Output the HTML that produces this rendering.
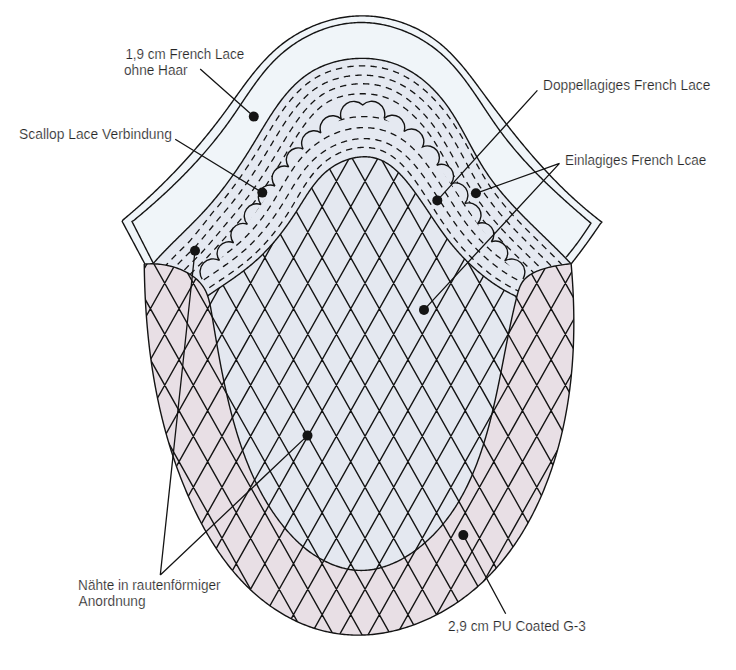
<!DOCTYPE html><html><head><meta charset="utf-8"><style>html,body{margin:0;padding:0;background:#fff;width:736px;height:670px;overflow:hidden}svg{display:block}</style></head><body><svg width="736" height="670" viewBox="0 0 736 670"><defs><clipPath id="cBand"><path d="M147.81,269.86 L148.80,268.66 L149.79,267.47 L150.79,266.29 L151.80,265.11 L152.82,263.93 L153.85,262.76 L154.88,261.60 L155.92,260.44 L156.97,259.28 L158.02,258.13 L159.08,256.98 L160.15,255.84 L161.22,254.70 L162.30,253.57 L163.38,252.44 L164.46,251.31 L165.56,250.18 L166.65,249.06 L167.75,247.94 L168.85,246.82 L169.96,245.71 L171.06,244.59 L172.17,243.48 L173.29,242.37 L174.40,241.26 L175.52,240.16 L176.64,239.05 L177.75,237.95 L178.87,236.84 L179.99,235.74 L181.11,234.64 L182.23,233.53 L183.35,232.43 L184.47,231.33 L185.59,230.22 L186.71,229.12 L187.82,228.01 L188.93,226.91 L190.04,225.80 L191.15,224.69 L192.26,223.58 L193.36,222.47 L194.46,221.35 L195.55,220.24 L196.64,219.12 L197.73,218.00 L198.81,216.87 L199.89,215.74 L200.96,214.61 L202.02,213.48 L203.08,212.34 L204.14,211.20 L205.18,210.06 L206.22,208.91 L207.26,207.76 L208.28,206.60 L209.30,205.44 L210.32,204.27 L211.32,203.10 L212.33,201.93 L213.32,200.75 L214.31,199.57 L215.29,198.39 L216.27,197.20 L217.24,196.01 L218.21,194.81 L219.17,193.61 L220.12,192.40 L221.07,191.19 L222.02,189.98 L222.96,188.76 L223.89,187.54 L224.82,186.32 L225.75,185.09 L226.66,183.86 L227.58,182.62 L228.49,181.38 L229.40,180.14 L230.30,178.89 L231.19,177.64 L232.09,176.38 L232.98,175.12 L233.86,173.86 L234.74,172.59 L235.62,171.32 L236.49,170.05 L237.36,168.77 L238.23,167.49 L239.09,166.20 L239.95,164.91 L240.81,163.62 L241.66,162.33 L242.51,161.03 L243.36,159.72 L244.21,158.41 L245.05,157.10 L245.89,155.79 L246.72,154.47 L247.56,153.15 L248.39,151.82 L249.22,150.50 L250.05,149.16 L250.87,147.83 L251.70,146.49 L252.52,145.14 L253.34,143.80 L254.16,142.45 L254.97,141.10 L255.79,139.74 L256.60,138.38 L257.42,137.03 L258.23,135.67 L259.05,134.30 L259.87,132.94 L260.68,131.58 L261.50,130.22 L262.32,128.86 L263.15,127.50 L263.97,126.15 L264.80,124.79 L265.63,123.44 L266.46,122.09 L267.30,120.75 L268.14,119.41 L268.98,118.07 L269.83,116.74 L270.68,115.41 L271.54,114.09 L272.41,112.77 L273.28,111.46 L274.15,110.16 L275.03,108.86 L275.92,107.57 L276.82,106.29 L277.72,105.02 L278.63,103.76 L279.55,102.50 L280.48,101.26 L281.41,100.02 L282.36,98.80 L283.31,97.58 L284.28,96.38 L285.25,95.19 L286.23,94.01 L287.22,92.85 L288.23,91.70 L289.24,90.56 L290.27,89.43 L291.31,88.32 L292.36,87.22 L293.42,86.14 L294.50,85.08 L295.59,84.03 L296.69,82.99 L297.80,81.97 L298.93,80.97 L300.08,79.99 L301.23,79.03 L302.41,78.08 L303.60,77.15 L304.80,76.24 L306.02,75.36 L307.25,74.49 L308.51,73.64 L309.77,72.81 L311.06,72.00 L312.36,71.22 L313.68,70.46 L315.02,69.72 L316.38,69.00 L317.75,68.31 L319.14,67.63 L320.55,66.99 L321.97,66.36 L323.41,65.76 L324.86,65.18 L326.32,64.62 L327.80,64.09 L329.29,63.58 L330.79,63.09 L332.31,62.63 L333.83,62.19 L335.36,61.77 L336.90,61.38 L338.46,61.01 L340.01,60.66 L341.58,60.34 L343.15,60.04 L344.73,59.77 L346.32,59.52 L347.91,59.29 L349.50,59.09 L351.10,58.91 L352.71,58.75 L354.31,58.62 L355.92,58.52 L357.52,58.43 L359.13,58.38 L360.74,58.34 L362.35,58.33 L363.96,58.35 L365.56,58.39 L367.16,58.45 L368.76,58.54 L370.36,58.66 L371.95,58.79 L373.54,58.96 L375.12,59.14 L376.70,59.36 L378.27,59.59 L379.83,59.86 L381.39,60.15 L382.94,60.46 L384.47,60.80 L386.00,61.16 L387.52,61.55 L389.03,61.96 L390.52,62.40 L392.01,62.87 L393.48,63.36 L394.94,63.87 L396.38,64.41 L397.82,64.97 L399.24,65.56 L400.65,66.17 L402.05,66.80 L403.44,67.46 L404.82,68.13 L406.18,68.83 L407.53,69.55 L408.87,70.30 L410.19,71.06 L411.51,71.84 L412.81,72.65 L414.10,73.47 L415.38,74.31 L416.64,75.18 L417.90,76.06 L419.14,76.96 L420.37,77.88 L421.58,78.81 L422.79,79.76 L423.98,80.73 L425.16,81.72 L426.32,82.72 L427.48,83.74 L428.62,84.78 L429.75,85.83 L430.87,86.89 L431.97,87.97 L433.06,89.07 L434.14,90.17 L435.21,91.29 L436.27,92.43 L437.31,93.58 L438.34,94.74 L439.36,95.91 L440.36,97.09 L441.35,98.29 L442.33,99.49 L443.30,100.71 L444.26,101.94 L445.20,103.18 L446.13,104.42 L447.04,105.68 L447.95,106.95 L448.84,108.22 L449.72,109.50 L450.59,110.80 L451.45,112.09 L452.30,113.40 L453.14,114.71 L453.98,116.03 L454.80,117.36 L455.61,118.69 L456.42,120.03 L457.22,121.37 L458.01,122.72 L458.80,124.07 L459.58,125.43 L460.36,126.79 L461.13,128.15 L461.89,129.52 L462.65,130.89 L463.41,132.27 L464.17,133.64 L464.92,135.02 L465.67,136.40 L466.42,137.78 L467.16,139.16 L467.91,140.54 L468.66,141.92 L469.40,143.30 L470.15,144.68 L470.89,146.06 L471.64,147.44 L472.39,148.82 L473.14,150.20 L473.90,151.57 L474.66,152.94 L475.42,154.31 L476.19,155.68 L476.96,157.04 L477.73,158.39 L478.51,159.75 L479.30,161.10 L480.10,162.44 L480.90,163.78 L481.70,165.11 L482.52,166.44 L483.34,167.76 L484.18,169.07 L485.02,170.38 L485.87,171.68 L486.73,172.97 L487.60,174.26 L488.48,175.54 L489.37,176.81 L490.27,178.07 L491.18,179.33 L492.09,180.58 L493.02,181.83 L493.95,183.06 L494.89,184.30 L495.84,185.52 L496.80,186.74 L497.76,187.95 L498.73,189.16 L499.71,190.36 L500.70,191.56 L501.69,192.75 L502.69,193.94 L503.70,195.12 L504.71,196.30 L505.73,197.47 L506.76,198.64 L507.79,199.80 L508.82,200.96 L509.87,202.11 L510.91,203.26 L511.97,204.41 L513.02,205.55 L514.08,206.69 L515.15,207.82 L516.22,208.95 L517.30,210.08 L518.38,211.20 L519.46,212.33 L520.54,213.44 L521.63,214.56 L522.73,215.67 L523.82,216.78 L524.92,217.89 L526.02,219.00 L527.13,220.10 L528.23,221.20 L529.34,222.31 L530.45,223.40 L531.56,224.50 L532.68,225.60 L533.79,226.69 L534.91,227.78 L536.03,228.87 L537.15,229.97 L538.26,231.06 L539.38,232.15 L540.50,233.23 L541.62,234.32 L542.74,235.41 L543.86,236.50 L544.98,237.59 L546.10,238.68 L547.22,239.77 L548.34,240.85 L549.45,241.94 L550.57,243.03 L551.68,244.13 L552.79,245.22 L553.90,246.31 L555.01,247.41 L556.11,248.50 L557.21,249.60 L558.31,250.70 L559.41,251.80 L560.51,252.90 L561.60,254.01 L562.68,255.11 L563.77,256.22 L564.85,257.33 L565.93,258.45 L567.00,259.56 L568.07,260.68 L569.13,261.81 L570.19,262.93 L571.24,264.06 L521.20,298.57 L520.19,298.15 L519.18,297.72 L518.18,297.28 L517.18,296.84 L516.18,296.38 L515.19,295.92 L514.20,295.45 L513.22,294.98 L512.23,294.49 L511.26,294.00 L510.28,293.50 L509.31,292.99 L508.34,292.48 L507.38,291.96 L506.41,291.43 L505.46,290.89 L504.50,290.35 L503.55,289.80 L502.61,289.25 L501.66,288.68 L500.72,288.11 L499.79,287.54 L498.85,286.95 L497.92,286.36 L497.00,285.77 L496.08,285.17 L495.16,284.56 L494.25,283.94 L493.34,283.32 L492.43,282.70 L491.53,282.06 L490.63,281.42 L489.73,280.78 L488.84,280.13 L487.96,279.47 L487.07,278.81 L486.19,278.14 L485.32,277.47 L484.44,276.79 L483.58,276.11 L482.71,275.42 L481.85,274.72 L481.00,274.02 L480.15,273.32 L479.30,272.61 L478.45,271.89 L477.61,271.17 L476.78,270.45 L475.95,269.72 L475.12,268.98 L474.30,268.25 L473.48,267.50 L472.66,266.75 L471.85,266.00 L471.04,265.25 L470.24,264.49 L469.44,263.72 L468.65,262.95 L467.86,262.18 L467.07,261.40 L466.29,260.62 L465.51,259.84 L464.74,259.05 L463.97,258.26 L463.21,257.46 L462.45,256.66 L461.69,255.86 L460.94,255.05 L460.20,254.24 L459.45,253.43 L458.72,252.61 L457.98,251.80 L457.25,250.97 L456.53,250.15 L455.81,249.32 L455.09,248.49 L454.38,247.66 L453.68,246.82 L452.98,245.98 L452.28,245.14 L451.59,244.30 L450.90,243.45 L450.22,242.60 L449.54,241.75 L448.86,240.90 L448.19,240.04 L447.53,239.18 L446.87,238.32 L446.21,237.46 L445.56,236.60 L444.92,235.73 L444.27,234.87 L443.64,234.00 L443.00,233.13 L442.37,232.26 L441.74,231.38 L441.11,230.51 L440.49,229.63 L439.87,228.75 L439.25,227.87 L438.64,226.98 L438.02,226.10 L437.41,225.21 L436.80,224.33 L436.20,223.44 L435.59,222.55 L434.98,221.66 L434.38,220.76 L433.77,219.87 L433.17,218.97 L432.57,218.08 L431.97,217.18 L431.36,216.28 L430.76,215.38 L430.16,214.48 L429.55,213.57 L428.95,212.67 L428.35,211.76 L427.74,210.86 L427.13,209.95 L426.52,209.04 L425.91,208.13 L425.30,207.22 L424.69,206.31 L424.07,205.39 L423.45,204.48 L422.83,203.57 L422.20,202.65 L421.58,201.73 L420.95,200.82 L420.31,199.90 L419.67,198.98 L419.03,198.06 L418.39,197.14 L417.74,196.22 L417.09,195.30 L416.43,194.38 L415.77,193.46 L415.10,192.54 L414.43,191.61 L413.75,190.69 L413.07,189.77 L412.38,188.85 L411.68,187.92 L410.98,187.00 L410.28,186.09 L409.57,185.17 L408.85,184.26 L408.13,183.36 L407.40,182.46 L406.67,181.56 L405.93,180.67 L405.18,179.79 L404.43,178.91 L403.67,178.05 L402.91,177.19 L402.14,176.34 L401.36,175.50 L400.57,174.67 L399.78,173.85 L398.98,173.05 L398.18,172.25 L397.37,171.47 L396.55,170.71 L395.72,169.95 L394.89,169.21 L394.05,168.49 L393.21,167.78 L392.35,167.09 L391.49,166.42 L390.62,165.77 L389.74,165.13 L388.86,164.51 L387.97,163.91 L387.07,163.34 L386.16,162.78 L385.24,162.25 L384.32,161.73 L383.39,161.24 L382.45,160.78 L381.50,160.34 L380.55,159.92 L379.58,159.53 L378.61,159.16 L377.63,158.82 L376.64,158.51 L375.64,158.22 L374.64,157.96 L373.62,157.73 L372.60,157.52 L371.58,157.34 L370.55,157.18 L369.51,157.05 L368.47,156.95 L367.42,156.87 L366.37,156.81 L365.32,156.78 L364.26,156.77 L363.20,156.79 L362.14,156.83 L361.07,156.89 L360.01,156.98 L358.94,157.09 L357.87,157.22 L356.81,157.37 L355.74,157.54 L354.68,157.74 L353.61,157.96 L352.55,158.19 L351.49,158.45 L350.43,158.73 L349.38,159.03 L348.33,159.35 L347.28,159.69 L346.24,160.05 L345.21,160.43 L344.18,160.83 L343.15,161.24 L342.13,161.68 L341.12,162.13 L340.12,162.60 L339.12,163.09 L338.13,163.59 L337.15,164.11 L336.18,164.65 L335.22,165.21 L334.27,165.78 L333.33,166.37 L332.40,166.97 L331.48,167.59 L330.58,168.22 L329.68,168.87 L328.80,169.53 L327.93,170.21 L327.08,170.90 L326.23,171.61 L325.41,172.33 L324.59,173.06 L323.78,173.80 L322.99,174.56 L322.20,175.33 L321.43,176.11 L320.67,176.90 L319.92,177.70 L319.18,178.51 L318.44,179.33 L317.72,180.16 L317.01,181.00 L316.30,181.85 L315.60,182.71 L314.92,183.58 L314.23,184.45 L313.56,185.34 L312.89,186.22 L312.23,187.12 L311.58,188.02 L310.93,188.93 L310.28,189.84 L309.65,190.76 L309.01,191.69 L308.39,192.62 L307.76,193.55 L307.14,194.48 L306.53,195.42 L305.92,196.37 L305.31,197.31 L304.70,198.26 L304.10,199.21 L303.49,200.16 L302.89,201.11 L302.29,202.07 L301.70,203.02 L301.10,203.98 L300.50,204.93 L299.91,205.88 L299.31,206.84 L298.71,207.79 L298.12,208.74 L297.52,209.69 L296.92,210.63 L296.31,211.57 L295.71,212.51 L295.10,213.45 L294.50,214.38 L293.88,215.31 L293.27,216.24 L292.66,217.17 L292.04,218.09 L291.42,219.01 L290.80,219.92 L290.17,220.83 L289.55,221.74 L288.92,222.65 L288.29,223.55 L287.65,224.45 L287.02,225.34 L286.38,226.24 L285.73,227.13 L285.09,228.01 L284.44,228.89 L283.79,229.77 L283.13,230.65 L282.47,231.52 L281.81,232.39 L281.15,233.25 L280.48,234.11 L279.81,234.97 L279.14,235.83 L278.46,236.68 L277.78,237.52 L277.10,238.37 L276.41,239.21 L275.72,240.04 L275.02,240.87 L274.32,241.70 L273.62,242.53 L272.91,243.35 L272.20,244.16 L271.49,244.98 L270.77,245.78 L270.05,246.59 L269.32,247.39 L268.59,248.19 L267.86,248.98 L267.12,249.77 L266.37,250.55 L265.63,251.33 L264.87,252.11 L264.12,252.88 L263.36,253.65 L262.59,254.41 L261.82,255.17 L261.04,255.93 L260.26,256.68 L259.48,257.43 L258.69,258.17 L257.90,258.91 L257.10,259.64 L256.29,260.37 L255.48,261.09 L254.67,261.82 L253.85,262.53 L253.02,263.24 L252.19,263.95 L251.36,264.65 L250.52,265.35 L249.68,266.04 L248.83,266.73 L247.98,267.42 L247.12,268.10 L246.26,268.78 L245.39,269.46 L244.53,270.13 L243.65,270.80 L242.78,271.47 L241.90,272.13 L241.02,272.79 L240.13,273.44 L239.25,274.10 L238.36,274.75 L237.46,275.40 L236.57,276.04 L235.67,276.68 L234.77,277.32 L233.87,277.96 L232.97,278.60 L232.06,279.23 L231.16,279.86 L230.25,280.50 L229.34,281.12 L228.43,281.75 L227.52,282.38 L226.61,283.00 L225.70,283.62 L224.78,284.24 L223.87,284.86 L222.95,285.48 L222.04,286.10 L221.13,286.72 L220.21,287.33 L219.30,287.95 L218.39,288.56 L217.47,289.18 L216.56,289.79 L215.65,290.40 L214.74,291.02 L213.83,291.63 L212.92,292.25 L212.02,292.86 L211.11,293.47 L210.21,294.09 L209.31,294.70 L208.41,295.32 L207.51,295.93 L206.62,296.55 L205.73,297.17 L204.84,297.78 L203.95,298.40 L203.07,299.02 Z"/></clipPath><clipPath id="cUnion"><path d="M144.25,263.94 L144.27,265.86 L144.30,267.77 L144.33,269.69 L144.36,271.60 L144.40,273.52 L144.44,275.43 L144.49,277.34 L144.54,279.26 L144.59,281.17 L144.65,283.08 L144.72,284.99 L144.78,286.90 L144.86,288.81 L144.93,290.72 L145.01,292.63 L145.10,294.54 L145.19,296.45 L145.28,298.36 L145.38,300.26 L145.48,302.17 L145.59,304.07 L145.70,305.98 L145.82,307.88 L145.94,309.79 L146.07,311.69 L146.20,313.59 L146.34,315.50 L146.48,317.40 L146.62,319.30 L146.77,321.20 L146.93,323.10 L147.09,325.00 L147.25,326.89 L147.42,328.79 L147.60,330.69 L147.78,332.58 L147.97,334.47 L148.16,336.37 L148.35,338.26 L148.55,340.15 L148.76,342.04 L148.97,343.93 L149.19,345.82 L149.41,347.71 L149.64,349.60 L149.87,351.48 L150.11,353.37 L150.36,355.25 L150.61,357.13 L150.86,359.02 L151.12,360.90 L151.39,362.78 L151.66,364.66 L151.94,366.53 L152.22,368.41 L152.51,370.29 L152.81,372.16 L153.11,374.03 L153.41,375.91 L153.73,377.78 L154.05,379.65 L154.37,381.51 L154.70,383.38 L155.04,385.25 L155.38,387.11 L155.73,388.98 L156.08,390.84 L156.44,392.70 L156.81,394.56 L157.19,396.42 L157.57,398.27 L157.95,400.13 L158.34,401.98 L158.74,403.84 L159.15,405.69 L159.56,407.54 L159.98,409.39 L160.40,411.23 L160.83,413.08 L161.27,414.92 L161.71,416.77 L162.16,418.61 L162.62,420.45 L163.09,422.29 L163.56,424.12 L164.03,425.96 L164.52,427.79 L165.01,429.62 L165.51,431.46 L166.01,433.28 L166.52,435.11 L167.04,436.94 L167.57,438.76 L168.10,440.58 L168.64,442.40 L169.19,444.22 L169.74,446.04 L170.31,447.85 L170.87,449.67 L171.45,451.48 L172.03,453.29 L172.62,455.10 L173.22,456.91 L173.83,458.71 L174.44,460.51 L175.06,462.31 L175.69,464.11 L176.32,465.91 L176.96,467.71 L177.61,469.50 L178.27,471.29 L178.93,473.08 L179.61,474.87 L180.29,476.65 L180.98,478.44 L181.67,480.22 L182.38,482.00 L183.09,483.78 L183.81,485.55 L184.53,487.33 L185.27,489.10 L186.01,490.87 L186.76,492.63 L187.52,494.40 L188.29,496.16 L189.07,497.92 L189.85,499.68 L190.64,501.44 L191.44,503.19 L192.25,504.94 L193.07,506.69 L193.89,508.44 L194.73,510.18 L195.57,511.91 L196.42,513.65 L197.28,515.38 L198.15,517.10 L199.03,518.82 L199.92,520.54 L200.82,522.25 L201.72,523.96 L202.64,525.66 L203.57,527.36 L204.50,529.05 L205.45,530.73 L206.40,532.41 L207.36,534.09 L208.34,535.75 L209.32,537.41 L210.32,539.07 L211.32,540.71 L212.33,542.35 L213.36,543.98 L214.39,545.61 L215.44,547.23 L216.49,548.83 L217.56,550.44 L218.64,552.03 L219.73,553.61 L220.82,555.19 L221.93,556.75 L223.05,558.31 L224.19,559.86 L225.33,561.40 L226.48,562.93 L227.65,564.45 L228.83,565.96 L230.02,567.46 L231.22,568.95 L232.43,570.43 L233.65,571.89 L234.89,573.35 L236.13,574.80 L237.39,576.23 L238.66,577.65 L239.95,579.06 L241.24,580.46 L242.55,581.85 L243.87,583.22 L245.21,584.59 L246.55,585.93 L247.91,587.27 L249.28,588.59 L250.66,589.90 L252.06,591.20 L253.47,592.48 L254.89,593.75 L256.33,595.01 L257.77,596.25 L259.23,597.47 L260.71,598.68 L262.19,599.88 L263.68,601.06 L265.19,602.22 L266.71,603.37 L268.24,604.50 L269.78,605.61 L271.33,606.71 L272.89,607.79 L274.47,608.86 L276.05,609.90 L277.64,610.93 L279.25,611.94 L280.86,612.94 L282.49,613.91 L284.12,614.86 L285.77,615.80 L287.42,616.72 L289.08,617.61 L290.76,618.49 L292.44,619.35 L294.13,620.18 L295.83,621.00 L297.53,621.79 L299.25,622.57 L300.97,623.32 L302.71,624.05 L304.45,624.76 L306.19,625.45 L307.95,626.11 L309.71,626.76 L311.48,627.38 L313.26,627.97 L315.05,628.54 L316.84,629.09 L318.64,629.62 L320.44,630.12 L322.25,630.60 L324.07,631.06 L325.89,631.49 L327.72,631.90 L329.55,632.28 L331.39,632.64 L333.23,632.98 L335.07,633.29 L336.92,633.58 L338.77,633.84 L340.63,634.08 L342.48,634.30 L344.34,634.49 L346.21,634.65 L348.07,634.80 L349.94,634.92 L351.81,635.01 L353.67,635.08 L355.55,635.12 L357.42,635.14 L359.29,635.14 L361.16,635.11 L363.03,635.06 L364.90,634.98 L366.77,634.88 L368.65,634.76 L370.52,634.61 L372.39,634.44 L374.25,634.25 L376.12,634.03 L377.99,633.79 L379.85,633.53 L381.71,633.25 L383.57,632.94 L385.43,632.61 L387.29,632.26 L389.14,631.89 L390.99,631.50 L392.84,631.09 L394.68,630.65 L396.52,630.20 L398.36,629.72 L400.20,629.22 L402.03,628.70 L403.85,628.17 L405.67,627.61 L407.49,627.03 L409.30,626.43 L411.11,625.82 L412.91,625.18 L414.71,624.53 L416.50,623.85 L418.28,623.16 L420.06,622.44 L421.84,621.71 L423.60,620.97 L425.36,620.20 L427.12,619.41 L428.86,618.61 L430.61,617.79 L432.34,616.95 L434.06,616.10 L435.78,615.22 L437.49,614.33 L439.19,613.43 L440.89,612.51 L442.57,611.57 L444.25,610.61 L445.92,609.64 L447.58,608.65 L449.23,607.65 L450.87,606.63 L452.50,605.60 L454.12,604.55 L455.73,603.48 L457.33,602.40 L458.92,601.31 L460.50,600.20 L462.07,599.08 L463.63,597.94 L465.18,596.79 L466.71,595.63 L468.24,594.45 L469.75,593.26 L471.25,592.05 L472.74,590.83 L474.22,589.60 L475.68,588.36 L477.13,587.10 L478.57,585.83 L480.00,584.55 L481.41,583.26 L482.81,581.95 L484.20,580.63 L485.57,579.30 L486.93,577.96 L488.28,576.61 L489.62,575.25 L490.94,573.87 L492.25,572.49 L493.55,571.09 L494.84,569.68 L496.11,568.26 L497.37,566.83 L498.62,565.40 L499.86,563.95 L501.09,562.49 L502.30,561.02 L503.50,559.54 L504.69,558.05 L505.87,556.55 L507.03,555.04 L508.18,553.53 L509.33,552.00 L510.45,550.47 L511.57,548.92 L512.68,547.37 L513.77,545.81 L514.85,544.24 L515.93,542.66 L516.98,541.08 L518.03,539.48 L519.07,537.88 L520.09,536.27 L521.11,534.65 L522.11,533.03 L523.10,531.40 L524.08,529.76 L525.05,528.11 L526.01,526.46 L526.95,524.80 L527.89,523.13 L528.81,521.46 L529.73,519.78 L530.63,518.10 L531.52,516.41 L532.40,514.71 L533.27,513.01 L534.13,511.30 L534.98,509.58 L535.82,507.86 L536.65,506.14 L537.47,504.41 L538.27,502.67 L539.07,500.93 L539.86,499.19 L540.63,497.44 L541.40,495.69 L542.15,493.93 L542.90,492.17 L543.63,490.40 L544.36,488.63 L545.07,486.86 L545.78,485.08 L546.47,483.30 L547.15,481.52 L547.83,479.73 L548.49,477.94 L549.15,476.15 L549.80,474.35 L550.43,472.55 L551.06,470.75 L551.67,468.95 L552.28,467.14 L552.88,465.33 L553.47,463.52 L554.05,461.71 L554.62,459.89 L555.18,458.07 L555.73,456.25 L556.27,454.42 L556.80,452.60 L557.32,450.77 L557.84,448.93 L558.34,447.10 L558.84,445.26 L559.33,443.43 L559.80,441.59 L560.27,439.74 L560.73,437.90 L561.19,436.05 L561.63,434.20 L562.06,432.35 L562.49,430.50 L562.90,428.64 L563.31,426.79 L563.71,424.93 L564.10,423.07 L564.49,421.20 L564.86,419.34 L565.23,417.47 L565.58,415.61 L565.93,413.74 L566.27,411.87 L566.61,409.99 L566.93,408.12 L567.25,406.25 L567.56,404.37 L567.86,402.49 L568.15,400.61 L568.43,398.73 L568.71,396.85 L568.98,394.96 L569.24,393.08 L569.50,391.19 L569.74,389.30 L569.98,387.42 L570.21,385.53 L570.43,383.63 L570.65,381.74 L570.86,379.85 L571.06,377.96 L571.25,376.06 L571.43,374.17 L571.61,372.27 L571.78,370.37 L571.95,368.47 L572.11,366.58 L572.25,364.68 L572.40,362.78 L572.53,360.87 L572.66,358.97 L572.78,357.07 L572.90,355.17 L573.00,353.27 L573.11,351.36 L573.20,349.46 L573.29,347.55 L573.37,345.65 L573.44,343.74 L573.51,341.84 L573.57,339.93 L573.63,338.03 L573.67,336.12 L573.71,334.21 L573.75,332.31 L573.78,330.40 L573.80,328.49 L573.82,326.59 L573.83,324.68 L573.83,322.78 L573.83,320.87 L573.82,318.96 L573.81,317.06 L573.79,315.15 L573.76,313.25 L573.73,311.34 L573.69,309.44 L573.65,307.53 L573.60,305.63 L573.54,303.72 L573.48,301.82 L573.41,299.92 L573.34,298.02 L573.26,296.11 L573.18,294.21 L573.09,292.31 L573.00,290.41 L572.90,288.51 L572.79,286.62 L572.68,284.72 L572.57,282.82 L572.45,280.93 L572.32,279.03 L572.19,277.14 L572.05,275.25 L571.91,273.35 L571.77,271.46 L571.62,269.57 L571.46,267.68 L571.30,265.80 L571.13,263.91 L570.98,263.68 L569.63,263.85 L568.21,264.02 L566.75,264.20 L565.25,264.40 L563.71,264.61 L562.13,264.83 L560.52,265.07 L558.88,265.34 L557.22,265.62 L555.54,265.92 L553.85,266.25 L552.14,266.60 L550.43,266.98 L548.72,267.39 L547.01,267.83 L545.30,268.30 L543.61,268.81 L541.93,269.35 L540.26,269.93 L538.63,270.55 L537.02,271.21 L535.44,271.91 L533.89,272.65 L532.39,273.44 L530.93,274.28 L529.52,275.17 L528.17,276.11 L526.89,277.11 L525.68,278.16 L524.56,279.28 L523.54,280.47 L522.61,281.73 L521.77,283.04 L521.01,284.41 L520.32,285.82 L519.70,287.28 L519.13,288.78 L518.61,290.31 L518.13,291.86 L517.68,293.43 L517.25,295.02 L516.84,296.62 L515.19,295.92 L514.20,295.45 L513.22,294.98 L512.23,294.49 L511.26,294.00 L510.28,293.50 L509.31,292.99 L508.34,292.48 L507.38,291.96 L506.41,291.43 L505.46,290.89 L504.50,290.35 L503.55,289.80 L502.61,289.25 L501.66,288.68 L500.72,288.11 L499.79,287.54 L498.85,286.95 L497.92,286.36 L497.00,285.77 L496.08,285.17 L495.16,284.56 L494.25,283.94 L493.34,283.32 L492.43,282.70 L491.53,282.06 L490.63,281.42 L489.73,280.78 L488.84,280.13 L487.96,279.47 L487.07,278.81 L486.19,278.14 L485.32,277.47 L484.44,276.79 L483.58,276.11 L482.71,275.42 L481.85,274.72 L481.00,274.02 L480.15,273.32 L479.30,272.61 L478.45,271.89 L477.61,271.17 L476.78,270.45 L475.95,269.72 L475.12,268.98 L474.30,268.25 L473.48,267.50 L472.66,266.75 L471.85,266.00 L471.04,265.25 L470.24,264.49 L469.44,263.72 L468.65,262.95 L467.86,262.18 L467.07,261.40 L466.29,260.62 L465.51,259.84 L464.74,259.05 L463.97,258.26 L463.21,257.46 L462.45,256.66 L461.69,255.86 L460.94,255.05 L460.20,254.24 L459.45,253.43 L458.72,252.61 L457.98,251.80 L457.25,250.97 L456.53,250.15 L455.81,249.32 L455.09,248.49 L454.38,247.66 L453.68,246.82 L452.98,245.98 L452.28,245.14 L451.59,244.30 L450.90,243.45 L450.22,242.60 L449.54,241.75 L448.86,240.90 L448.19,240.04 L447.53,239.18 L446.87,238.32 L446.21,237.46 L445.56,236.60 L444.92,235.73 L444.27,234.87 L443.64,234.00 L443.00,233.13 L442.37,232.26 L441.74,231.38 L441.11,230.51 L440.49,229.63 L439.87,228.75 L439.25,227.87 L438.64,226.98 L438.02,226.10 L437.41,225.21 L436.80,224.33 L436.20,223.44 L435.59,222.55 L434.98,221.66 L434.38,220.76 L433.77,219.87 L433.17,218.97 L432.57,218.08 L431.97,217.18 L431.36,216.28 L430.76,215.38 L430.16,214.48 L429.55,213.57 L428.95,212.67 L428.35,211.76 L427.74,210.86 L427.13,209.95 L426.52,209.04 L425.91,208.13 L425.30,207.22 L424.69,206.31 L424.07,205.39 L423.45,204.48 L422.83,203.57 L422.20,202.65 L421.58,201.73 L420.95,200.82 L420.31,199.90 L419.67,198.98 L419.03,198.06 L418.39,197.14 L417.74,196.22 L417.09,195.30 L416.43,194.38 L415.77,193.46 L415.10,192.54 L414.43,191.61 L413.75,190.69 L413.07,189.77 L412.38,188.85 L411.68,187.92 L410.98,187.00 L410.28,186.09 L409.57,185.17 L408.85,184.26 L408.13,183.36 L407.40,182.46 L406.67,181.56 L405.93,180.67 L405.18,179.79 L404.43,178.91 L403.67,178.05 L402.91,177.19 L402.14,176.34 L401.36,175.50 L400.57,174.67 L399.78,173.85 L398.98,173.05 L398.18,172.25 L397.37,171.47 L396.55,170.71 L395.72,169.95 L394.89,169.21 L394.05,168.49 L393.21,167.78 L392.35,167.09 L391.49,166.42 L390.62,165.77 L389.74,165.13 L388.86,164.51 L387.97,163.91 L387.07,163.34 L386.16,162.78 L385.24,162.25 L384.32,161.73 L383.39,161.24 L382.45,160.78 L381.50,160.34 L380.55,159.92 L379.58,159.53 L378.61,159.16 L377.63,158.82 L376.64,158.51 L375.64,158.22 L374.64,157.96 L373.62,157.73 L372.60,157.52 L371.58,157.34 L370.55,157.18 L369.51,157.05 L368.47,156.95 L367.42,156.87 L366.37,156.81 L365.32,156.78 L364.26,156.77 L363.20,156.79 L362.14,156.83 L361.07,156.89 L360.01,156.98 L358.94,157.09 L357.87,157.22 L356.81,157.37 L355.74,157.54 L354.68,157.74 L353.61,157.96 L352.55,158.19 L351.49,158.45 L350.43,158.73 L349.38,159.03 L348.33,159.35 L347.28,159.69 L346.24,160.05 L345.21,160.43 L344.18,160.83 L343.15,161.24 L342.13,161.68 L341.12,162.13 L340.12,162.60 L339.12,163.09 L338.13,163.59 L337.15,164.11 L336.18,164.65 L335.22,165.21 L334.27,165.78 L333.33,166.37 L332.40,166.97 L331.48,167.59 L330.58,168.22 L329.68,168.87 L328.80,169.53 L327.93,170.21 L327.08,170.90 L326.23,171.61 L325.41,172.33 L324.59,173.06 L323.78,173.80 L322.99,174.56 L322.20,175.33 L321.43,176.11 L320.67,176.90 L319.92,177.70 L319.18,178.51 L318.44,179.33 L317.72,180.16 L317.01,181.00 L316.30,181.85 L315.60,182.71 L314.92,183.58 L314.23,184.45 L313.56,185.34 L312.89,186.22 L312.23,187.12 L311.58,188.02 L310.93,188.93 L310.28,189.84 L309.65,190.76 L309.01,191.69 L308.39,192.62 L307.76,193.55 L307.14,194.48 L306.53,195.42 L305.92,196.37 L305.31,197.31 L304.70,198.26 L304.10,199.21 L303.49,200.16 L302.89,201.11 L302.29,202.07 L301.70,203.02 L301.10,203.98 L300.50,204.93 L299.91,205.88 L299.31,206.84 L298.71,207.79 L298.12,208.74 L297.52,209.69 L296.92,210.63 L296.31,211.57 L295.71,212.51 L295.10,213.45 L294.50,214.38 L293.88,215.31 L293.27,216.24 L292.66,217.17 L292.04,218.09 L291.42,219.01 L290.80,219.92 L290.17,220.83 L289.55,221.74 L288.92,222.65 L288.29,223.55 L287.65,224.45 L287.02,225.34 L286.38,226.24 L285.73,227.13 L285.09,228.01 L284.44,228.89 L283.79,229.77 L283.13,230.65 L282.47,231.52 L281.81,232.39 L281.15,233.25 L280.48,234.11 L279.81,234.97 L279.14,235.83 L278.46,236.68 L277.78,237.52 L277.10,238.37 L276.41,239.21 L275.72,240.04 L275.02,240.87 L274.32,241.70 L273.62,242.53 L272.91,243.35 L272.20,244.16 L271.49,244.98 L270.77,245.78 L270.05,246.59 L269.32,247.39 L268.59,248.19 L267.86,248.98 L267.12,249.77 L266.37,250.55 L265.63,251.33 L264.87,252.11 L264.12,252.88 L263.36,253.65 L262.59,254.41 L261.82,255.17 L261.04,255.93 L260.26,256.68 L259.48,257.43 L258.69,258.17 L257.90,258.91 L257.10,259.64 L256.29,260.37 L255.48,261.09 L254.67,261.82 L253.85,262.53 L253.02,263.24 L252.19,263.95 L251.36,264.65 L250.52,265.35 L249.68,266.04 L248.83,266.73 L247.98,267.42 L247.12,268.10 L246.26,268.78 L245.39,269.46 L244.53,270.13 L243.65,270.80 L242.78,271.47 L241.90,272.13 L241.02,272.79 L240.13,273.44 L239.25,274.10 L238.36,274.75 L237.46,275.40 L236.57,276.04 L235.67,276.68 L234.77,277.32 L233.87,277.96 L232.97,278.60 L232.06,279.23 L231.16,279.86 L230.25,280.50 L229.34,281.12 L228.43,281.75 L227.52,282.38 L226.61,283.00 L225.70,283.62 L224.78,284.24 L223.87,284.86 L222.95,285.48 L222.04,286.10 L221.13,286.72 L220.21,287.33 L219.30,287.95 L218.39,288.56 L217.47,289.18 L216.56,289.79 L215.65,290.40 L214.74,291.02 L213.83,291.63 L212.92,292.25 L212.02,292.86 L211.11,293.47 L210.21,294.09 L209.31,294.70 L208.41,295.32 L207.60,295.77 L207.03,294.25 L206.43,292.77 L205.77,291.31 L205.06,289.89 L204.28,288.50 L203.45,287.16 L202.56,285.85 L201.62,284.58 L200.62,283.34 L199.56,282.15 L198.46,281.00 L197.30,279.88 L196.11,278.80 L194.86,277.76 L193.58,276.76 L192.26,275.79 L190.89,274.87 L189.50,273.98 L188.07,273.12 L186.61,272.31 L185.12,271.54 L183.61,270.80 L182.07,270.10 L180.51,269.43 L178.93,268.81 L177.33,268.22 L175.72,267.67 L174.09,267.15 L172.45,266.68 L170.81,266.24 L169.15,265.83 L167.50,265.47 L165.84,265.14 L164.17,264.84 L162.52,264.59 L160.86,264.37 L159.21,264.18 L157.57,264.04 L155.94,263.93 L154.33,263.85 L152.73,263.82 L151.14,263.81 L149.58,263.85 L148.04,263.92 L146.52,264.03 L145.02,264.17 Z"/></clipPath><clipPath id="cAbove"><path d="M202.20,279.20 A13.12,13.12 0 0 1 219.50,260.50 A11.61,11.61 0 0 1 233.60,242.90 A11.93,11.93 0 0 1 247.40,224.30 A12.37,12.37 0 0 1 261.00,204.50 A11.95,11.95 0 0 1 275.00,186.00 A12.11,12.11 0 0 1 288.70,166.90 A11.83,11.83 0 0 1 303.10,149.00 A12.40,12.40 0 0 1 320.90,132.80 A12.68,12.68 0 0 1 341.30,119.00 A13.20,13.20 0 0 1 362.70,104.90 A13.06,13.06 0 0 1 384.10,118.50 A12.24,12.24 0 0 1 404.00,131.50 A12.44,12.44 0 0 1 422.60,146.90 A11.97,11.97 0 0 1 436.80,165.30 A11.97,11.97 0 0 1 451.00,183.70 A12.43,12.43 0 0 1 464.80,203.50 A12.33,12.33 0 0 1 477.50,223.80 A11.68,11.68 0 0 1 491.30,241.80 A12.06,12.06 0 0 1 504.70,261.00 A13.22,13.22 0 0 1 523.00,279.00 L700,279.0 L700,-10 L0,-10 L0,279.2 Z"/></clipPath><clipPath id="cBelow"><path d="M202.20,279.20 L219.50,260.50 L233.60,242.90 L247.40,224.30 L261.00,204.50 L275.00,186.00 L288.70,166.90 L303.10,149.00 L320.90,132.80 L341.30,119.00 L362.70,104.90 L384.10,118.50 L404.00,131.50 L422.60,146.90 L436.80,165.30 L451.00,183.70 L464.80,203.50 L477.50,223.80 L491.30,241.80 L504.70,261.00 L523.00,279.00 L700,279.0 L700,700 L0,700 L0,279.2 Z"/></clipPath><clipPath id="cNotPink"><path clip-rule="evenodd" d="M0,0 L736,0 L736,670 L0,670 Z M144.25,263.94 L144.27,265.86 L144.30,267.77 L144.33,269.69 L144.36,271.60 L144.40,273.52 L144.44,275.43 L144.49,277.34 L144.54,279.26 L144.59,281.17 L144.65,283.08 L144.72,284.99 L144.78,286.90 L144.86,288.81 L144.93,290.72 L145.01,292.63 L145.10,294.54 L145.19,296.45 L145.28,298.36 L145.38,300.26 L145.48,302.17 L145.59,304.07 L145.70,305.98 L145.82,307.88 L145.94,309.79 L146.07,311.69 L146.20,313.59 L146.34,315.50 L146.48,317.40 L146.62,319.30 L146.77,321.20 L146.93,323.10 L147.09,325.00 L147.25,326.89 L147.42,328.79 L147.60,330.69 L147.78,332.58 L147.97,334.47 L148.16,336.37 L148.35,338.26 L148.55,340.15 L148.76,342.04 L148.97,343.93 L149.19,345.82 L149.41,347.71 L149.64,349.60 L149.87,351.48 L150.11,353.37 L150.36,355.25 L150.61,357.13 L150.86,359.02 L151.12,360.90 L151.39,362.78 L151.66,364.66 L151.94,366.53 L152.22,368.41 L152.51,370.29 L152.81,372.16 L153.11,374.03 L153.41,375.91 L153.73,377.78 L154.05,379.65 L154.37,381.51 L154.70,383.38 L155.04,385.25 L155.38,387.11 L155.73,388.98 L156.08,390.84 L156.44,392.70 L156.81,394.56 L157.19,396.42 L157.57,398.27 L157.95,400.13 L158.34,401.98 L158.74,403.84 L159.15,405.69 L159.56,407.54 L159.98,409.39 L160.40,411.23 L160.83,413.08 L161.27,414.92 L161.71,416.77 L162.16,418.61 L162.62,420.45 L163.09,422.29 L163.56,424.12 L164.03,425.96 L164.52,427.79 L165.01,429.62 L165.51,431.46 L166.01,433.28 L166.52,435.11 L167.04,436.94 L167.57,438.76 L168.10,440.58 L168.64,442.40 L169.19,444.22 L169.74,446.04 L170.31,447.85 L170.87,449.67 L171.45,451.48 L172.03,453.29 L172.62,455.10 L173.22,456.91 L173.83,458.71 L174.44,460.51 L175.06,462.31 L175.69,464.11 L176.32,465.91 L176.96,467.71 L177.61,469.50 L178.27,471.29 L178.93,473.08 L179.61,474.87 L180.29,476.65 L180.98,478.44 L181.67,480.22 L182.38,482.00 L183.09,483.78 L183.81,485.55 L184.53,487.33 L185.27,489.10 L186.01,490.87 L186.76,492.63 L187.52,494.40 L188.29,496.16 L189.07,497.92 L189.85,499.68 L190.64,501.44 L191.44,503.19 L192.25,504.94 L193.07,506.69 L193.89,508.44 L194.73,510.18 L195.57,511.91 L196.42,513.65 L197.28,515.38 L198.15,517.10 L199.03,518.82 L199.92,520.54 L200.82,522.25 L201.72,523.96 L202.64,525.66 L203.57,527.36 L204.50,529.05 L205.45,530.73 L206.40,532.41 L207.36,534.09 L208.34,535.75 L209.32,537.41 L210.32,539.07 L211.32,540.71 L212.33,542.35 L213.36,543.98 L214.39,545.61 L215.44,547.23 L216.49,548.83 L217.56,550.44 L218.64,552.03 L219.73,553.61 L220.82,555.19 L221.93,556.75 L223.05,558.31 L224.19,559.86 L225.33,561.40 L226.48,562.93 L227.65,564.45 L228.83,565.96 L230.02,567.46 L231.22,568.95 L232.43,570.43 L233.65,571.89 L234.89,573.35 L236.13,574.80 L237.39,576.23 L238.66,577.65 L239.95,579.06 L241.24,580.46 L242.55,581.85 L243.87,583.22 L245.21,584.59 L246.55,585.93 L247.91,587.27 L249.28,588.59 L250.66,589.90 L252.06,591.20 L253.47,592.48 L254.89,593.75 L256.33,595.01 L257.77,596.25 L259.23,597.47 L260.71,598.68 L262.19,599.88 L263.68,601.06 L265.19,602.22 L266.71,603.37 L268.24,604.50 L269.78,605.61 L271.33,606.71 L272.89,607.79 L274.47,608.86 L276.05,609.90 L277.64,610.93 L279.25,611.94 L280.86,612.94 L282.49,613.91 L284.12,614.86 L285.77,615.80 L287.42,616.72 L289.08,617.61 L290.76,618.49 L292.44,619.35 L294.13,620.18 L295.83,621.00 L297.53,621.79 L299.25,622.57 L300.97,623.32 L302.71,624.05 L304.45,624.76 L306.19,625.45 L307.95,626.11 L309.71,626.76 L311.48,627.38 L313.26,627.97 L315.05,628.54 L316.84,629.09 L318.64,629.62 L320.44,630.12 L322.25,630.60 L324.07,631.06 L325.89,631.49 L327.72,631.90 L329.55,632.28 L331.39,632.64 L333.23,632.98 L335.07,633.29 L336.92,633.58 L338.77,633.84 L340.63,634.08 L342.48,634.30 L344.34,634.49 L346.21,634.65 L348.07,634.80 L349.94,634.92 L351.81,635.01 L353.67,635.08 L355.55,635.12 L357.42,635.14 L359.29,635.14 L361.16,635.11 L363.03,635.06 L364.90,634.98 L366.77,634.88 L368.65,634.76 L370.52,634.61 L372.39,634.44 L374.25,634.25 L376.12,634.03 L377.99,633.79 L379.85,633.53 L381.71,633.25 L383.57,632.94 L385.43,632.61 L387.29,632.26 L389.14,631.89 L390.99,631.50 L392.84,631.09 L394.68,630.65 L396.52,630.20 L398.36,629.72 L400.20,629.22 L402.03,628.70 L403.85,628.17 L405.67,627.61 L407.49,627.03 L409.30,626.43 L411.11,625.82 L412.91,625.18 L414.71,624.53 L416.50,623.85 L418.28,623.16 L420.06,622.44 L421.84,621.71 L423.60,620.97 L425.36,620.20 L427.12,619.41 L428.86,618.61 L430.61,617.79 L432.34,616.95 L434.06,616.10 L435.78,615.22 L437.49,614.33 L439.19,613.43 L440.89,612.51 L442.57,611.57 L444.25,610.61 L445.92,609.64 L447.58,608.65 L449.23,607.65 L450.87,606.63 L452.50,605.60 L454.12,604.55 L455.73,603.48 L457.33,602.40 L458.92,601.31 L460.50,600.20 L462.07,599.08 L463.63,597.94 L465.18,596.79 L466.71,595.63 L468.24,594.45 L469.75,593.26 L471.25,592.05 L472.74,590.83 L474.22,589.60 L475.68,588.36 L477.13,587.10 L478.57,585.83 L480.00,584.55 L481.41,583.26 L482.81,581.95 L484.20,580.63 L485.57,579.30 L486.93,577.96 L488.28,576.61 L489.62,575.25 L490.94,573.87 L492.25,572.49 L493.55,571.09 L494.84,569.68 L496.11,568.26 L497.37,566.83 L498.62,565.40 L499.86,563.95 L501.09,562.49 L502.30,561.02 L503.50,559.54 L504.69,558.05 L505.87,556.55 L507.03,555.04 L508.18,553.53 L509.33,552.00 L510.45,550.47 L511.57,548.92 L512.68,547.37 L513.77,545.81 L514.85,544.24 L515.93,542.66 L516.98,541.08 L518.03,539.48 L519.07,537.88 L520.09,536.27 L521.11,534.65 L522.11,533.03 L523.10,531.40 L524.08,529.76 L525.05,528.11 L526.01,526.46 L526.95,524.80 L527.89,523.13 L528.81,521.46 L529.73,519.78 L530.63,518.10 L531.52,516.41 L532.40,514.71 L533.27,513.01 L534.13,511.30 L534.98,509.58 L535.82,507.86 L536.65,506.14 L537.47,504.41 L538.27,502.67 L539.07,500.93 L539.86,499.19 L540.63,497.44 L541.40,495.69 L542.15,493.93 L542.90,492.17 L543.63,490.40 L544.36,488.63 L545.07,486.86 L545.78,485.08 L546.47,483.30 L547.15,481.52 L547.83,479.73 L548.49,477.94 L549.15,476.15 L549.80,474.35 L550.43,472.55 L551.06,470.75 L551.67,468.95 L552.28,467.14 L552.88,465.33 L553.47,463.52 L554.05,461.71 L554.62,459.89 L555.18,458.07 L555.73,456.25 L556.27,454.42 L556.80,452.60 L557.32,450.77 L557.84,448.93 L558.34,447.10 L558.84,445.26 L559.33,443.43 L559.80,441.59 L560.27,439.74 L560.73,437.90 L561.19,436.05 L561.63,434.20 L562.06,432.35 L562.49,430.50 L562.90,428.64 L563.31,426.79 L563.71,424.93 L564.10,423.07 L564.49,421.20 L564.86,419.34 L565.23,417.47 L565.58,415.61 L565.93,413.74 L566.27,411.87 L566.61,409.99 L566.93,408.12 L567.25,406.25 L567.56,404.37 L567.86,402.49 L568.15,400.61 L568.43,398.73 L568.71,396.85 L568.98,394.96 L569.24,393.08 L569.50,391.19 L569.74,389.30 L569.98,387.42 L570.21,385.53 L570.43,383.63 L570.65,381.74 L570.86,379.85 L571.06,377.96 L571.25,376.06 L571.43,374.17 L571.61,372.27 L571.78,370.37 L571.95,368.47 L572.11,366.58 L572.25,364.68 L572.40,362.78 L572.53,360.87 L572.66,358.97 L572.78,357.07 L572.90,355.17 L573.00,353.27 L573.11,351.36 L573.20,349.46 L573.29,347.55 L573.37,345.65 L573.44,343.74 L573.51,341.84 L573.57,339.93 L573.63,338.03 L573.67,336.12 L573.71,334.21 L573.75,332.31 L573.78,330.40 L573.80,328.49 L573.82,326.59 L573.83,324.68 L573.83,322.78 L573.83,320.87 L573.82,318.96 L573.81,317.06 L573.79,315.15 L573.76,313.25 L573.73,311.34 L573.69,309.44 L573.65,307.53 L573.60,305.63 L573.54,303.72 L573.48,301.82 L573.41,299.92 L573.34,298.02 L573.26,296.11 L573.18,294.21 L573.09,292.31 L573.00,290.41 L572.90,288.51 L572.79,286.62 L572.68,284.72 L572.57,282.82 L572.45,280.93 L572.32,279.03 L572.19,277.14 L572.05,275.25 L571.91,273.35 L571.77,271.46 L571.62,269.57 L571.46,267.68 L571.30,265.80 L571.13,263.91 L570.98,263.68 L569.63,263.85 L568.21,264.02 L566.75,264.20 L565.25,264.40 L563.71,264.61 L562.13,264.83 L560.52,265.07 L558.88,265.34 L557.22,265.62 L555.54,265.92 L553.85,266.25 L552.14,266.60 L550.43,266.98 L548.72,267.39 L547.01,267.83 L545.30,268.30 L543.61,268.81 L541.93,269.35 L540.26,269.93 L538.63,270.55 L537.02,271.21 L535.44,271.91 L533.89,272.65 L532.39,273.44 L530.93,274.28 L529.52,275.17 L528.17,276.11 L526.89,277.11 L525.68,278.16 L524.56,279.28 L523.54,280.47 L522.61,281.73 L521.77,283.04 L521.01,284.41 L520.32,285.82 L519.70,287.28 L519.13,288.78 L518.61,290.31 L518.13,291.86 L517.68,293.43 L517.25,295.02 L516.84,296.62 L516.44,298.21 L516.05,299.81 L515.66,301.41 L515.27,303.01 L514.89,304.61 L514.51,306.21 L514.13,307.81 L513.76,309.41 L513.40,311.01 L513.03,312.62 L512.67,314.22 L512.32,315.82 L511.96,317.42 L511.61,319.02 L511.27,320.63 L510.92,322.23 L510.58,323.83 L510.24,325.44 L509.91,327.04 L509.58,328.64 L509.24,330.25 L508.92,331.85 L508.59,333.46 L508.26,335.06 L507.94,336.67 L507.62,338.27 L507.30,339.88 L506.98,341.48 L506.66,343.09 L506.34,344.69 L506.03,346.30 L505.71,347.90 L505.40,349.51 L505.09,351.11 L504.77,352.72 L504.46,354.33 L504.15,355.93 L503.84,357.54 L503.52,359.14 L503.21,360.75 L502.90,362.36 L502.59,363.96 L502.27,365.57 L501.96,367.18 L501.64,368.78 L501.33,370.39 L501.01,372.00 L500.69,373.60 L500.37,375.21 L500.05,376.82 L499.73,378.42 L499.40,380.03 L499.08,381.63 L498.75,383.24 L498.42,384.85 L498.09,386.45 L497.75,388.06 L497.42,389.66 L497.08,391.27 L496.73,392.88 L496.39,394.48 L496.04,396.09 L495.69,397.69 L495.34,399.30 L494.98,400.90 L494.62,402.51 L494.25,404.11 L493.88,405.72 L493.51,407.32 L493.14,408.93 L492.76,410.53 L492.37,412.13 L491.98,413.74 L491.59,415.34 L491.19,416.94 L490.79,418.55 L490.38,420.15 L489.97,421.75 L489.55,423.35 L489.13,424.96 L488.70,426.56 L488.27,428.16 L487.83,429.76 L487.38,431.35 L486.93,432.95 L486.47,434.55 L486.01,436.14 L485.54,437.73 L485.07,439.32 L484.59,440.91 L484.10,442.50 L483.61,444.08 L483.10,445.67 L482.60,447.25 L482.08,448.83 L481.56,450.40 L481.03,451.97 L480.49,453.54 L479.95,455.11 L479.40,456.67 L478.84,458.23 L478.28,459.79 L477.70,461.34 L477.12,462.89 L476.53,464.44 L475.93,465.98 L475.32,467.52 L474.71,469.05 L474.09,470.58 L473.45,472.10 L472.81,473.62 L472.16,475.14 L471.50,476.65 L470.84,478.15 L470.16,479.65 L469.47,481.15 L468.78,482.64 L468.07,484.12 L467.36,485.60 L466.63,487.07 L465.90,488.54 L465.15,490.00 L464.40,491.46 L463.64,492.90 L462.86,494.35 L462.07,495.78 L461.28,497.21 L460.47,498.63 L459.65,500.05 L458.83,501.45 L457.99,502.85 L457.14,504.25 L456.27,505.63 L455.40,507.01 L454.52,508.38 L453.62,509.74 L452.71,511.10 L451.79,512.44 L450.86,513.78 L449.92,515.11 L448.96,516.43 L447.99,517.74 L447.01,519.05 L446.02,520.34 L445.01,521.63 L444.00,522.90 L442.96,524.17 L441.92,525.43 L440.86,526.68 L439.79,527.91 L438.71,529.14 L437.61,530.36 L436.50,531.57 L435.38,532.77 L434.24,533.95 L433.09,535.13 L431.92,536.30 L430.74,537.45 L429.55,538.60 L428.34,539.73 L427.12,540.85 L425.88,541.96 L424.63,543.06 L423.37,544.15 L422.09,545.22 L420.80,546.28 L419.50,547.32 L418.18,548.35 L416.85,549.36 L415.51,550.36 L414.16,551.34 L412.79,552.30 L411.42,553.24 L410.03,554.17 L408.63,555.07 L407.22,555.96 L405.80,556.82 L404.37,557.67 L402.93,558.49 L401.49,559.29 L400.03,560.07 L398.56,560.82 L397.08,561.55 L395.60,562.26 L394.11,562.94 L392.60,563.59 L391.10,564.22 L389.58,564.82 L388.05,565.40 L386.52,565.95 L384.98,566.46 L383.44,566.95 L381.89,567.41 L380.33,567.84 L378.77,568.24 L377.20,568.61 L375.62,568.94 L374.04,569.25 L372.46,569.52 L370.87,569.75 L369.27,569.95 L367.68,570.12 L366.08,570.25 L364.47,570.35 L362.86,570.41 L361.25,570.43 L359.63,570.41 L358.02,570.36 L356.40,570.26 L354.78,570.13 L353.15,569.96 L351.53,569.74 L349.90,569.50 L348.28,569.21 L346.66,568.89 L345.04,568.53 L343.42,568.13 L341.81,567.71 L340.20,567.25 L338.60,566.75 L337.00,566.23 L335.41,565.68 L333.83,565.09 L332.26,564.48 L330.70,563.83 L329.15,563.16 L327.61,562.47 L326.08,561.75 L324.57,561.00 L323.07,560.23 L321.58,559.43 L320.11,558.61 L318.65,557.77 L317.22,556.91 L315.80,556.03 L314.39,555.13 L313.01,554.21 L311.64,553.27 L310.29,552.31 L308.95,551.34 L307.64,550.35 L306.33,549.33 L305.05,548.31 L303.78,547.26 L302.52,546.20 L301.28,545.13 L300.06,544.04 L298.85,542.94 L297.65,541.82 L296.47,540.68 L295.30,539.54 L294.14,538.38 L293.00,537.21 L291.87,536.03 L290.76,534.83 L289.66,533.63 L288.57,532.41 L287.49,531.19 L286.42,529.95 L285.37,528.71 L284.32,527.45 L283.29,526.19 L282.27,524.92 L281.26,523.64 L280.26,522.35 L279.27,521.06 L278.29,519.75 L277.33,518.44 L276.37,517.12 L275.42,515.80 L274.49,514.46 L273.56,513.12 L272.65,511.77 L271.74,510.42 L270.85,509.05 L269.96,507.68 L269.09,506.30 L268.22,504.92 L267.37,503.53 L266.52,502.13 L265.69,500.73 L264.86,499.32 L264.04,497.90 L263.24,496.48 L262.44,495.05 L261.65,493.61 L260.87,492.17 L260.10,490.72 L259.34,489.27 L258.58,487.81 L257.84,486.35 L257.10,484.88 L256.38,483.41 L255.66,481.93 L254.95,480.44 L254.25,478.95 L253.56,477.46 L252.87,475.96 L252.20,474.46 L251.53,472.95 L250.87,471.44 L250.22,469.92 L249.57,468.40 L248.94,466.87 L248.31,465.34 L247.69,463.81 L247.07,462.27 L246.47,460.73 L245.87,459.19 L245.28,457.64 L244.69,456.09 L244.11,454.54 L243.54,452.98 L242.98,451.42 L242.42,449.86 L241.88,448.29 L241.33,446.72 L240.80,445.15 L240.27,443.58 L239.74,442.00 L239.23,440.42 L238.72,438.84 L238.21,437.26 L237.72,435.67 L237.23,434.09 L236.74,432.50 L236.26,430.91 L235.79,429.32 L235.32,427.72 L234.86,426.13 L234.40,424.53 L233.95,422.93 L233.50,421.34 L233.06,419.74 L232.63,418.14 L232.20,416.54 L231.78,414.94 L231.36,413.33 L230.94,411.73 L230.53,410.13 L230.13,408.53 L229.73,406.92 L229.33,405.32 L228.94,403.72 L228.56,402.12 L228.17,400.51 L227.80,398.91 L227.42,397.31 L227.05,395.71 L226.69,394.11 L226.33,392.51 L225.97,390.92 L225.62,389.32 L225.27,387.72 L224.92,386.13 L224.58,384.53 L224.24,382.94 L223.91,381.35 L223.58,379.76 L223.25,378.17 L222.92,376.58 L222.60,374.98 L222.28,373.39 L221.96,371.80 L221.65,370.21 L221.34,368.62 L221.03,367.03 L220.72,365.44 L220.42,363.85 L220.12,362.25 L219.82,360.66 L219.52,359.07 L219.23,357.47 L218.93,355.87 L218.64,354.28 L218.35,352.68 L218.07,351.08 L217.78,349.47 L217.49,347.87 L217.21,346.26 L216.93,344.66 L216.65,343.05 L216.37,341.44 L216.09,339.82 L215.81,338.21 L215.53,336.59 L215.26,334.97 L214.98,333.34 L214.71,331.72 L214.43,330.09 L214.16,328.46 L213.88,326.82 L213.61,325.18 L213.33,323.54 L213.06,321.90 L212.78,320.25 L212.51,318.59 L212.24,316.94 L211.96,315.28 L211.68,313.62 L211.40,311.95 L211.12,310.29 L210.82,308.63 L210.50,306.97 L210.17,305.33 L209.82,303.69 L209.44,302.07 L209.03,300.46 L208.59,298.88 L208.11,297.31 L207.60,295.77 L207.03,294.25 L206.43,292.77 L205.77,291.31 L205.06,289.89 L204.28,288.50 L203.45,287.16 L202.56,285.85 L201.62,284.58 L200.62,283.34 L199.56,282.15 L198.46,281.00 L197.30,279.88 L196.11,278.80 L194.86,277.76 L193.58,276.76 L192.26,275.79 L190.89,274.87 L189.50,273.98 L188.07,273.12 L186.61,272.31 L185.12,271.54 L183.61,270.80 L182.07,270.10 L180.51,269.43 L178.93,268.81 L177.33,268.22 L175.72,267.67 L174.09,267.15 L172.45,266.68 L170.81,266.24 L169.15,265.83 L167.50,265.47 L165.84,265.14 L164.17,264.84 L162.52,264.59 L160.86,264.37 L159.21,264.18 L157.57,264.04 L155.94,263.93 L154.33,263.85 L152.73,263.82 L151.14,263.81 L149.58,263.85 L148.04,263.92 L146.52,264.03 L145.02,264.17 Z"/></clipPath></defs><path d="M145.00,264.20 L144.35,262.98 L143.70,261.76 L143.05,260.54 L142.40,259.32 L141.75,258.09 L141.10,256.87 L140.45,255.65 L139.80,254.43 L139.15,253.21 L138.50,251.99 L137.85,250.77 L137.20,249.55 L136.55,248.33 L135.90,247.11 L135.25,245.89 L134.60,244.67 L133.95,243.45 L133.30,242.23 L132.64,241.01 L131.99,239.79 L131.34,238.57 L130.69,237.35 L130.04,236.13 L129.38,234.91 L128.73,233.69 L128.08,232.47 L127.43,231.25 L126.77,230.03 L126.12,228.81 L125.47,227.59 L124.81,226.38 L124.16,225.16 L123.51,223.94 L122.85,222.72 L122.20,221.50 L122.97,219.96 L124.30,218.86 L125.61,217.75 L126.93,216.65 L128.24,215.54 L129.54,214.42 L130.84,213.31 L132.14,212.19 L133.44,211.07 L134.73,209.94 L136.01,208.81 L137.30,207.68 L138.58,206.55 L139.85,205.42 L141.13,204.28 L142.39,203.14 L143.66,201.99 L144.92,200.84 L146.18,199.69 L147.43,198.54 L148.68,197.38 L149.93,196.22 L151.17,195.06 L152.41,193.90 L153.65,192.73 L154.88,191.56 L156.11,190.38 L157.33,189.20 L158.55,188.02 L159.77,186.84 L160.98,185.65 L162.20,184.46 L163.40,183.27 L164.61,182.08 L165.80,180.88 L167.00,179.68 L168.19,178.47 L169.38,177.26 L170.57,176.05 L171.75,174.84 L172.93,173.62 L174.10,172.40 L175.27,171.18 L176.44,169.95 L177.60,168.72 L178.76,167.49 L179.92,166.25 L181.08,165.01 L182.23,163.77 L183.37,162.52 L184.51,161.27 L185.65,160.02 L186.79,158.76 L187.92,157.51 L189.05,156.24 L190.18,154.98 L191.30,153.71 L192.42,152.44 L193.53,151.16 L194.64,149.88 L195.75,148.60 L196.86,147.31 L197.96,146.03 L199.06,144.73 L200.15,143.44 L201.24,142.14 L202.33,140.84 L203.41,139.53 L204.49,138.22 L205.57,136.91 L206.65,135.59 L207.72,134.27 L208.78,132.95 L209.85,131.63 L210.91,130.30 L211.97,128.96 L213.02,127.63 L214.07,126.29 L215.12,124.94 L216.16,123.60 L217.20,122.24 L218.24,120.89 L219.27,119.53 L220.30,118.17 L221.33,116.81 L222.35,115.44 L223.37,114.07 L224.39,112.69 L225.41,111.31 L226.42,109.93 L227.43,108.54 L228.43,107.16 L229.43,105.77 L230.44,104.37 L231.44,102.98 L232.44,101.58 L233.44,100.19 L234.44,98.79 L235.43,97.40 L236.43,96.00 L237.44,94.61 L238.44,93.21 L239.44,91.82 L240.45,90.43 L241.45,89.04 L242.47,87.66 L243.48,86.28 L244.50,84.90 L245.52,83.53 L246.54,82.16 L247.57,80.79 L248.61,79.43 L249.65,78.08 L250.69,76.73 L251.74,75.38 L252.80,74.05 L253.87,72.72 L254.94,71.40 L256.02,70.08 L257.10,68.78 L258.20,67.48 L259.30,66.19 L260.42,64.91 L261.54,63.64 L262.67,62.38 L263.81,61.14 L264.96,59.90 L266.13,58.67 L267.30,57.46 L268.48,56.25 L269.68,55.06 L270.89,53.88 L272.11,52.72 L273.35,51.57 L274.60,50.43 L275.86,49.31 L277.13,48.20 L278.42,47.11 L279.73,46.03 L281.05,44.97 L282.38,43.92 L283.73,42.89 L285.10,41.88 L286.47,40.88 L287.86,39.90 L289.27,38.94 L290.68,37.99 L292.11,37.06 L293.55,36.15 L295.01,35.25 L296.47,34.38 L297.95,33.52 L299.44,32.68 L300.94,31.85 L302.45,31.05 L303.97,30.27 L305.50,29.50 L307.04,28.75 L308.59,28.02 L310.15,27.31 L311.71,26.62 L313.29,25.95 L314.88,25.30 L316.47,24.67 L318.07,24.06 L319.68,23.47 L321.29,22.90 L322.91,22.36 L324.54,21.83 L326.18,21.32 L327.82,20.84 L329.47,20.37 L331.12,19.93 L332.78,19.51 L334.44,19.11 L336.11,18.73 L337.78,18.38 L339.45,18.05 L341.13,17.74 L342.82,17.45 L344.50,17.19 L346.19,16.95 L347.88,16.73 L349.58,16.54 L351.27,16.37 L352.97,16.23 L354.67,16.10 L356.37,16.01 L358.07,15.93 L359.77,15.89 L361.47,15.86 L363.18,15.86 L364.88,15.89 L366.58,15.94 L368.28,16.02 L369.98,16.12 L371.68,16.24 L373.37,16.39 L375.07,16.56 L376.76,16.76 L378.44,16.97 L380.13,17.22 L381.81,17.48 L383.49,17.77 L385.16,18.09 L386.83,18.42 L388.49,18.78 L390.15,19.16 L391.81,19.56 L393.46,19.99 L395.10,20.44 L396.73,20.91 L398.36,21.40 L399.99,21.92 L401.60,22.45 L403.21,23.01 L404.81,23.59 L406.40,24.19 L407.98,24.81 L409.55,25.45 L411.12,26.12 L412.67,26.80 L414.22,27.51 L415.75,28.23 L417.28,28.98 L418.79,29.74 L420.29,30.53 L421.79,31.34 L423.26,32.16 L424.73,33.01 L426.19,33.87 L427.63,34.76 L429.06,35.66 L430.47,36.58 L431.88,37.52 L433.26,38.48 L434.64,39.46 L436.00,40.46 L437.34,41.47 L438.67,42.51 L439.99,43.56 L441.28,44.63 L442.57,45.72 L443.84,46.82 L445.09,47.94 L446.34,49.07 L447.57,50.22 L448.78,51.39 L449.99,52.57 L451.18,53.76 L452.36,54.96 L453.53,56.18 L454.69,57.41 L455.84,58.66 L456.98,59.91 L458.11,61.18 L459.23,62.45 L460.35,63.74 L461.45,65.03 L462.55,66.34 L463.63,67.65 L464.71,68.97 L465.79,70.30 L466.86,71.63 L467.92,72.97 L468.97,74.32 L470.03,75.68 L471.07,77.03 L472.11,78.40 L473.15,79.77 L474.19,81.14 L475.22,82.51 L476.24,83.89 L477.27,85.27 L478.29,86.65 L479.31,88.04 L480.33,89.42 L481.35,90.81 L482.37,92.19 L483.39,93.57 L484.41,94.96 L485.43,96.34 L486.45,97.72 L487.47,99.10 L488.49,100.48 L489.51,101.85 L490.54,103.23 L491.56,104.60 L492.59,105.97 L493.61,107.34 L494.64,108.71 L495.67,110.07 L496.70,111.44 L497.73,112.80 L498.76,114.16 L499.80,115.51 L500.84,116.87 L501.87,118.22 L502.91,119.58 L503.95,120.93 L504.99,122.27 L506.04,123.62 L507.09,124.96 L508.13,126.30 L509.18,127.64 L510.24,128.98 L511.29,130.31 L512.35,131.64 L513.40,132.97 L514.47,134.30 L515.53,135.62 L516.59,136.94 L517.66,138.26 L518.73,139.58 L519.80,140.89 L520.88,142.20 L521.96,143.51 L523.04,144.82 L524.12,146.12 L525.21,147.42 L526.30,148.72 L527.39,150.01 L528.49,151.30 L529.58,152.59 L530.69,153.88 L531.79,155.16 L532.90,156.44 L534.01,157.72 L535.12,158.99 L536.24,160.26 L537.36,161.53 L538.49,162.79 L539.61,164.05 L540.75,165.31 L541.88,166.56 L543.02,167.81 L544.16,169.06 L545.31,170.30 L546.46,171.54 L547.62,172.78 L548.78,174.01 L549.94,175.24 L551.10,176.47 L552.28,177.69 L553.45,178.91 L554.63,180.12 L555.82,181.33 L557.00,182.54 L558.20,183.74 L559.39,184.94 L560.60,186.14 L561.80,187.33 L563.01,188.52 L564.23,189.70 L565.45,190.88 L566.68,192.06 L567.91,193.23 L569.14,194.39 L570.39,195.56 L571.63,196.72 L572.88,197.87 L574.14,199.02 L575.40,200.17 L576.67,201.31 L577.94,202.45 L579.22,203.58 L580.50,204.71 L581.79,205.83 L583.08,206.95 L584.38,208.07 L585.69,209.18 L587.00,210.28 L588.32,211.38 L589.64,212.48 L590.97,213.57 L592.31,214.66 L593.65,215.74 L595.00,216.81 L596.35,217.89 L597.71,218.95 L599.08,220.02 L600.45,221.07 L601.83,222.13 L600.40,223.69 L599.79,224.59 L599.19,225.48 L598.58,226.37 L597.98,227.27 L597.37,228.16 L596.76,229.05 L596.15,229.94 L595.54,230.82 L594.92,231.71 L594.31,232.60 L593.69,233.48 L593.08,234.37 L592.46,235.25 L591.84,236.14 L591.22,237.02 L590.60,237.90 L589.97,238.78 L589.35,239.66 L588.72,240.54 L588.09,241.41 L587.46,242.29 L586.83,243.17 L586.20,244.04 L585.57,244.91 L584.93,245.78 L584.29,246.65 L583.65,247.52 L583.01,248.39 L582.37,249.26 L581.73,250.13 L581.08,250.99 L580.44,251.85 L579.79,252.72 L579.14,253.58 L578.49,254.44 L577.83,255.29 L577.18,256.15 L576.52,257.01 L575.86,257.86 L575.20,258.71 L574.54,259.57 L573.88,260.41 L573.21,261.26 L572.54,262.11 L571.87,262.96 L571.20,263.80 L571.20,300.00 L144.80,300.00 Z" fill="#f0f5f9"/><path d="M147.81,269.86 L148.80,268.66 L149.79,267.47 L150.79,266.29 L151.80,265.11 L152.82,263.93 L153.85,262.76 L154.88,261.60 L155.92,260.44 L156.97,259.28 L158.02,258.13 L159.08,256.98 L160.15,255.84 L161.22,254.70 L162.30,253.57 L163.38,252.44 L164.46,251.31 L165.56,250.18 L166.65,249.06 L167.75,247.94 L168.85,246.82 L169.96,245.71 L171.06,244.59 L172.17,243.48 L173.29,242.37 L174.40,241.26 L175.52,240.16 L176.64,239.05 L177.75,237.95 L178.87,236.84 L179.99,235.74 L181.11,234.64 L182.23,233.53 L183.35,232.43 L184.47,231.33 L185.59,230.22 L186.71,229.12 L187.82,228.01 L188.93,226.91 L190.04,225.80 L191.15,224.69 L192.26,223.58 L193.36,222.47 L194.46,221.35 L195.55,220.24 L196.64,219.12 L197.73,218.00 L198.81,216.87 L199.89,215.74 L200.96,214.61 L202.02,213.48 L203.08,212.34 L204.14,211.20 L205.18,210.06 L206.22,208.91 L207.26,207.76 L208.28,206.60 L209.30,205.44 L210.32,204.27 L211.32,203.10 L212.33,201.93 L213.32,200.75 L214.31,199.57 L215.29,198.39 L216.27,197.20 L217.24,196.01 L218.21,194.81 L219.17,193.61 L220.12,192.40 L221.07,191.19 L222.02,189.98 L222.96,188.76 L223.89,187.54 L224.82,186.32 L225.75,185.09 L226.66,183.86 L227.58,182.62 L228.49,181.38 L229.40,180.14 L230.30,178.89 L231.19,177.64 L232.09,176.38 L232.98,175.12 L233.86,173.86 L234.74,172.59 L235.62,171.32 L236.49,170.05 L237.36,168.77 L238.23,167.49 L239.09,166.20 L239.95,164.91 L240.81,163.62 L241.66,162.33 L242.51,161.03 L243.36,159.72 L244.21,158.41 L245.05,157.10 L245.89,155.79 L246.72,154.47 L247.56,153.15 L248.39,151.82 L249.22,150.50 L250.05,149.16 L250.87,147.83 L251.70,146.49 L252.52,145.14 L253.34,143.80 L254.16,142.45 L254.97,141.10 L255.79,139.74 L256.60,138.38 L257.42,137.03 L258.23,135.67 L259.05,134.30 L259.87,132.94 L260.68,131.58 L261.50,130.22 L262.32,128.86 L263.15,127.50 L263.97,126.15 L264.80,124.79 L265.63,123.44 L266.46,122.09 L267.30,120.75 L268.14,119.41 L268.98,118.07 L269.83,116.74 L270.68,115.41 L271.54,114.09 L272.41,112.77 L273.28,111.46 L274.15,110.16 L275.03,108.86 L275.92,107.57 L276.82,106.29 L277.72,105.02 L278.63,103.76 L279.55,102.50 L280.48,101.26 L281.41,100.02 L282.36,98.80 L283.31,97.58 L284.28,96.38 L285.25,95.19 L286.23,94.01 L287.22,92.85 L288.23,91.70 L289.24,90.56 L290.27,89.43 L291.31,88.32 L292.36,87.22 L293.42,86.14 L294.50,85.08 L295.59,84.03 L296.69,82.99 L297.80,81.97 L298.93,80.97 L300.08,79.99 L301.23,79.03 L302.41,78.08 L303.60,77.15 L304.80,76.24 L306.02,75.36 L307.25,74.49 L308.51,73.64 L309.77,72.81 L311.06,72.00 L312.36,71.22 L313.68,70.46 L315.02,69.72 L316.38,69.00 L317.75,68.31 L319.14,67.63 L320.55,66.99 L321.97,66.36 L323.41,65.76 L324.86,65.18 L326.32,64.62 L327.80,64.09 L329.29,63.58 L330.79,63.09 L332.31,62.63 L333.83,62.19 L335.36,61.77 L336.90,61.38 L338.46,61.01 L340.01,60.66 L341.58,60.34 L343.15,60.04 L344.73,59.77 L346.32,59.52 L347.91,59.29 L349.50,59.09 L351.10,58.91 L352.71,58.75 L354.31,58.62 L355.92,58.52 L357.52,58.43 L359.13,58.38 L360.74,58.34 L362.35,58.33 L363.96,58.35 L365.56,58.39 L367.16,58.45 L368.76,58.54 L370.36,58.66 L371.95,58.79 L373.54,58.96 L375.12,59.14 L376.70,59.36 L378.27,59.59 L379.83,59.86 L381.39,60.15 L382.94,60.46 L384.47,60.80 L386.00,61.16 L387.52,61.55 L389.03,61.96 L390.52,62.40 L392.01,62.87 L393.48,63.36 L394.94,63.87 L396.38,64.41 L397.82,64.97 L399.24,65.56 L400.65,66.17 L402.05,66.80 L403.44,67.46 L404.82,68.13 L406.18,68.83 L407.53,69.55 L408.87,70.30 L410.19,71.06 L411.51,71.84 L412.81,72.65 L414.10,73.47 L415.38,74.31 L416.64,75.18 L417.90,76.06 L419.14,76.96 L420.37,77.88 L421.58,78.81 L422.79,79.76 L423.98,80.73 L425.16,81.72 L426.32,82.72 L427.48,83.74 L428.62,84.78 L429.75,85.83 L430.87,86.89 L431.97,87.97 L433.06,89.07 L434.14,90.17 L435.21,91.29 L436.27,92.43 L437.31,93.58 L438.34,94.74 L439.36,95.91 L440.36,97.09 L441.35,98.29 L442.33,99.49 L443.30,100.71 L444.26,101.94 L445.20,103.18 L446.13,104.42 L447.04,105.68 L447.95,106.95 L448.84,108.22 L449.72,109.50 L450.59,110.80 L451.45,112.09 L452.30,113.40 L453.14,114.71 L453.98,116.03 L454.80,117.36 L455.61,118.69 L456.42,120.03 L457.22,121.37 L458.01,122.72 L458.80,124.07 L459.58,125.43 L460.36,126.79 L461.13,128.15 L461.89,129.52 L462.65,130.89 L463.41,132.27 L464.17,133.64 L464.92,135.02 L465.67,136.40 L466.42,137.78 L467.16,139.16 L467.91,140.54 L468.66,141.92 L469.40,143.30 L470.15,144.68 L470.89,146.06 L471.64,147.44 L472.39,148.82 L473.14,150.20 L473.90,151.57 L474.66,152.94 L475.42,154.31 L476.19,155.68 L476.96,157.04 L477.73,158.39 L478.51,159.75 L479.30,161.10 L480.10,162.44 L480.90,163.78 L481.70,165.11 L482.52,166.44 L483.34,167.76 L484.18,169.07 L485.02,170.38 L485.87,171.68 L486.73,172.97 L487.60,174.26 L488.48,175.54 L489.37,176.81 L490.27,178.07 L491.18,179.33 L492.09,180.58 L493.02,181.83 L493.95,183.06 L494.89,184.30 L495.84,185.52 L496.80,186.74 L497.76,187.95 L498.73,189.16 L499.71,190.36 L500.70,191.56 L501.69,192.75 L502.69,193.94 L503.70,195.12 L504.71,196.30 L505.73,197.47 L506.76,198.64 L507.79,199.80 L508.82,200.96 L509.87,202.11 L510.91,203.26 L511.97,204.41 L513.02,205.55 L514.08,206.69 L515.15,207.82 L516.22,208.95 L517.30,210.08 L518.38,211.20 L519.46,212.33 L520.54,213.44 L521.63,214.56 L522.73,215.67 L523.82,216.78 L524.92,217.89 L526.02,219.00 L527.13,220.10 L528.23,221.20 L529.34,222.31 L530.45,223.40 L531.56,224.50 L532.68,225.60 L533.79,226.69 L534.91,227.78 L536.03,228.87 L537.15,229.97 L538.26,231.06 L539.38,232.15 L540.50,233.23 L541.62,234.32 L542.74,235.41 L543.86,236.50 L544.98,237.59 L546.10,238.68 L547.22,239.77 L548.34,240.85 L549.45,241.94 L550.57,243.03 L551.68,244.13 L552.79,245.22 L553.90,246.31 L555.01,247.41 L556.11,248.50 L557.21,249.60 L558.31,250.70 L559.41,251.80 L560.51,252.90 L561.60,254.01 L562.68,255.11 L563.77,256.22 L564.85,257.33 L565.93,258.45 L567.00,259.56 L568.07,260.68 L569.13,261.81 L570.19,262.93 L571.24,264.06 L521.20,298.57 L520.19,298.15 L519.18,297.72 L518.18,297.28 L517.18,296.84 L516.18,296.38 L515.19,295.92 L514.20,295.45 L513.22,294.98 L512.23,294.49 L511.26,294.00 L510.28,293.50 L509.31,292.99 L508.34,292.48 L507.38,291.96 L506.41,291.43 L505.46,290.89 L504.50,290.35 L503.55,289.80 L502.61,289.25 L501.66,288.68 L500.72,288.11 L499.79,287.54 L498.85,286.95 L497.92,286.36 L497.00,285.77 L496.08,285.17 L495.16,284.56 L494.25,283.94 L493.34,283.32 L492.43,282.70 L491.53,282.06 L490.63,281.42 L489.73,280.78 L488.84,280.13 L487.96,279.47 L487.07,278.81 L486.19,278.14 L485.32,277.47 L484.44,276.79 L483.58,276.11 L482.71,275.42 L481.85,274.72 L481.00,274.02 L480.15,273.32 L479.30,272.61 L478.45,271.89 L477.61,271.17 L476.78,270.45 L475.95,269.72 L475.12,268.98 L474.30,268.25 L473.48,267.50 L472.66,266.75 L471.85,266.00 L471.04,265.25 L470.24,264.49 L469.44,263.72 L468.65,262.95 L467.86,262.18 L467.07,261.40 L466.29,260.62 L465.51,259.84 L464.74,259.05 L463.97,258.26 L463.21,257.46 L462.45,256.66 L461.69,255.86 L460.94,255.05 L460.20,254.24 L459.45,253.43 L458.72,252.61 L457.98,251.80 L457.25,250.97 L456.53,250.15 L455.81,249.32 L455.09,248.49 L454.38,247.66 L453.68,246.82 L452.98,245.98 L452.28,245.14 L451.59,244.30 L450.90,243.45 L450.22,242.60 L449.54,241.75 L448.86,240.90 L448.19,240.04 L447.53,239.18 L446.87,238.32 L446.21,237.46 L445.56,236.60 L444.92,235.73 L444.27,234.87 L443.64,234.00 L443.00,233.13 L442.37,232.26 L441.74,231.38 L441.11,230.51 L440.49,229.63 L439.87,228.75 L439.25,227.87 L438.64,226.98 L438.02,226.10 L437.41,225.21 L436.80,224.33 L436.20,223.44 L435.59,222.55 L434.98,221.66 L434.38,220.76 L433.77,219.87 L433.17,218.97 L432.57,218.08 L431.97,217.18 L431.36,216.28 L430.76,215.38 L430.16,214.48 L429.55,213.57 L428.95,212.67 L428.35,211.76 L427.74,210.86 L427.13,209.95 L426.52,209.04 L425.91,208.13 L425.30,207.22 L424.69,206.31 L424.07,205.39 L423.45,204.48 L422.83,203.57 L422.20,202.65 L421.58,201.73 L420.95,200.82 L420.31,199.90 L419.67,198.98 L419.03,198.06 L418.39,197.14 L417.74,196.22 L417.09,195.30 L416.43,194.38 L415.77,193.46 L415.10,192.54 L414.43,191.61 L413.75,190.69 L413.07,189.77 L412.38,188.85 L411.68,187.92 L410.98,187.00 L410.28,186.09 L409.57,185.17 L408.85,184.26 L408.13,183.36 L407.40,182.46 L406.67,181.56 L405.93,180.67 L405.18,179.79 L404.43,178.91 L403.67,178.05 L402.91,177.19 L402.14,176.34 L401.36,175.50 L400.57,174.67 L399.78,173.85 L398.98,173.05 L398.18,172.25 L397.37,171.47 L396.55,170.71 L395.72,169.95 L394.89,169.21 L394.05,168.49 L393.21,167.78 L392.35,167.09 L391.49,166.42 L390.62,165.77 L389.74,165.13 L388.86,164.51 L387.97,163.91 L387.07,163.34 L386.16,162.78 L385.24,162.25 L384.32,161.73 L383.39,161.24 L382.45,160.78 L381.50,160.34 L380.55,159.92 L379.58,159.53 L378.61,159.16 L377.63,158.82 L376.64,158.51 L375.64,158.22 L374.64,157.96 L373.62,157.73 L372.60,157.52 L371.58,157.34 L370.55,157.18 L369.51,157.05 L368.47,156.95 L367.42,156.87 L366.37,156.81 L365.32,156.78 L364.26,156.77 L363.20,156.79 L362.14,156.83 L361.07,156.89 L360.01,156.98 L358.94,157.09 L357.87,157.22 L356.81,157.37 L355.74,157.54 L354.68,157.74 L353.61,157.96 L352.55,158.19 L351.49,158.45 L350.43,158.73 L349.38,159.03 L348.33,159.35 L347.28,159.69 L346.24,160.05 L345.21,160.43 L344.18,160.83 L343.15,161.24 L342.13,161.68 L341.12,162.13 L340.12,162.60 L339.12,163.09 L338.13,163.59 L337.15,164.11 L336.18,164.65 L335.22,165.21 L334.27,165.78 L333.33,166.37 L332.40,166.97 L331.48,167.59 L330.58,168.22 L329.68,168.87 L328.80,169.53 L327.93,170.21 L327.08,170.90 L326.23,171.61 L325.41,172.33 L324.59,173.06 L323.78,173.80 L322.99,174.56 L322.20,175.33 L321.43,176.11 L320.67,176.90 L319.92,177.70 L319.18,178.51 L318.44,179.33 L317.72,180.16 L317.01,181.00 L316.30,181.85 L315.60,182.71 L314.92,183.58 L314.23,184.45 L313.56,185.34 L312.89,186.22 L312.23,187.12 L311.58,188.02 L310.93,188.93 L310.28,189.84 L309.65,190.76 L309.01,191.69 L308.39,192.62 L307.76,193.55 L307.14,194.48 L306.53,195.42 L305.92,196.37 L305.31,197.31 L304.70,198.26 L304.10,199.21 L303.49,200.16 L302.89,201.11 L302.29,202.07 L301.70,203.02 L301.10,203.98 L300.50,204.93 L299.91,205.88 L299.31,206.84 L298.71,207.79 L298.12,208.74 L297.52,209.69 L296.92,210.63 L296.31,211.57 L295.71,212.51 L295.10,213.45 L294.50,214.38 L293.88,215.31 L293.27,216.24 L292.66,217.17 L292.04,218.09 L291.42,219.01 L290.80,219.92 L290.17,220.83 L289.55,221.74 L288.92,222.65 L288.29,223.55 L287.65,224.45 L287.02,225.34 L286.38,226.24 L285.73,227.13 L285.09,228.01 L284.44,228.89 L283.79,229.77 L283.13,230.65 L282.47,231.52 L281.81,232.39 L281.15,233.25 L280.48,234.11 L279.81,234.97 L279.14,235.83 L278.46,236.68 L277.78,237.52 L277.10,238.37 L276.41,239.21 L275.72,240.04 L275.02,240.87 L274.32,241.70 L273.62,242.53 L272.91,243.35 L272.20,244.16 L271.49,244.98 L270.77,245.78 L270.05,246.59 L269.32,247.39 L268.59,248.19 L267.86,248.98 L267.12,249.77 L266.37,250.55 L265.63,251.33 L264.87,252.11 L264.12,252.88 L263.36,253.65 L262.59,254.41 L261.82,255.17 L261.04,255.93 L260.26,256.68 L259.48,257.43 L258.69,258.17 L257.90,258.91 L257.10,259.64 L256.29,260.37 L255.48,261.09 L254.67,261.82 L253.85,262.53 L253.02,263.24 L252.19,263.95 L251.36,264.65 L250.52,265.35 L249.68,266.04 L248.83,266.73 L247.98,267.42 L247.12,268.10 L246.26,268.78 L245.39,269.46 L244.53,270.13 L243.65,270.80 L242.78,271.47 L241.90,272.13 L241.02,272.79 L240.13,273.44 L239.25,274.10 L238.36,274.75 L237.46,275.40 L236.57,276.04 L235.67,276.68 L234.77,277.32 L233.87,277.96 L232.97,278.60 L232.06,279.23 L231.16,279.86 L230.25,280.50 L229.34,281.12 L228.43,281.75 L227.52,282.38 L226.61,283.00 L225.70,283.62 L224.78,284.24 L223.87,284.86 L222.95,285.48 L222.04,286.10 L221.13,286.72 L220.21,287.33 L219.30,287.95 L218.39,288.56 L217.47,289.18 L216.56,289.79 L215.65,290.40 L214.74,291.02 L213.83,291.63 L212.92,292.25 L212.02,292.86 L211.11,293.47 L210.21,294.09 L209.31,294.70 L208.41,295.32 L207.51,295.93 L206.62,296.55 L205.73,297.17 L204.84,297.78 L203.95,298.40 L203.07,299.02 Z" fill="#e5e9f1"/><path d="M208.41,295.32 L209.31,294.70 L210.21,294.09 L211.11,293.47 L212.02,292.86 L212.92,292.25 L213.83,291.63 L214.74,291.02 L215.65,290.40 L216.56,289.79 L217.47,289.18 L218.39,288.56 L219.30,287.95 L220.21,287.33 L221.13,286.72 L222.04,286.10 L222.95,285.48 L223.87,284.86 L224.78,284.24 L225.70,283.62 L226.61,283.00 L227.52,282.38 L228.43,281.75 L229.34,281.12 L230.25,280.50 L231.16,279.86 L232.06,279.23 L232.97,278.60 L233.87,277.96 L234.77,277.32 L235.67,276.68 L236.57,276.04 L237.46,275.40 L238.36,274.75 L239.25,274.10 L240.13,273.44 L241.02,272.79 L241.90,272.13 L242.78,271.47 L243.65,270.80 L244.53,270.13 L245.39,269.46 L246.26,268.78 L247.12,268.10 L247.98,267.42 L248.83,266.73 L249.68,266.04 L250.52,265.35 L251.36,264.65 L252.19,263.95 L253.02,263.24 L253.85,262.53 L254.67,261.82 L255.48,261.09 L256.29,260.37 L257.10,259.64 L257.90,258.91 L258.69,258.17 L259.48,257.43 L260.26,256.68 L261.04,255.93 L261.82,255.17 L262.59,254.41 L263.36,253.65 L264.12,252.88 L264.87,252.11 L265.63,251.33 L266.37,250.55 L267.12,249.77 L267.86,248.98 L268.59,248.19 L269.32,247.39 L270.05,246.59 L270.77,245.78 L271.49,244.98 L272.20,244.16 L272.91,243.35 L273.62,242.53 L274.32,241.70 L275.02,240.87 L275.72,240.04 L276.41,239.21 L277.10,238.37 L277.78,237.52 L278.46,236.68 L279.14,235.83 L279.81,234.97 L280.48,234.11 L281.15,233.25 L281.81,232.39 L282.47,231.52 L283.13,230.65 L283.79,229.77 L284.44,228.89 L285.09,228.01 L285.73,227.13 L286.38,226.24 L287.02,225.34 L287.65,224.45 L288.29,223.55 L288.92,222.65 L289.55,221.74 L290.17,220.83 L290.80,219.92 L291.42,219.01 L292.04,218.09 L292.66,217.17 L293.27,216.24 L293.88,215.31 L294.50,214.38 L295.10,213.45 L295.71,212.51 L296.31,211.57 L296.92,210.63 L297.52,209.69 L298.12,208.74 L298.71,207.79 L299.31,206.84 L299.91,205.88 L300.50,204.93 L301.10,203.98 L301.70,203.02 L302.29,202.07 L302.89,201.11 L303.49,200.16 L304.10,199.21 L304.70,198.26 L305.31,197.31 L305.92,196.37 L306.53,195.42 L307.14,194.48 L307.76,193.55 L308.39,192.62 L309.01,191.69 L309.65,190.76 L310.28,189.84 L310.93,188.93 L311.58,188.02 L312.23,187.12 L312.89,186.22 L313.56,185.34 L314.23,184.45 L314.92,183.58 L315.60,182.71 L316.30,181.85 L317.01,181.00 L317.72,180.16 L318.44,179.33 L319.18,178.51 L319.92,177.70 L320.67,176.90 L321.43,176.11 L322.20,175.33 L322.99,174.56 L323.78,173.80 L324.59,173.06 L325.41,172.33 L326.23,171.61 L327.08,170.90 L327.93,170.21 L328.80,169.53 L329.68,168.87 L330.58,168.22 L331.48,167.59 L332.40,166.97 L333.33,166.37 L334.27,165.78 L335.22,165.21 L336.18,164.65 L337.15,164.11 L338.13,163.59 L339.12,163.09 L340.12,162.60 L341.12,162.13 L342.13,161.68 L343.15,161.24 L344.18,160.83 L345.21,160.43 L346.24,160.05 L347.28,159.69 L348.33,159.35 L349.38,159.03 L350.43,158.73 L351.49,158.45 L352.55,158.19 L353.61,157.96 L354.68,157.74 L355.74,157.54 L356.81,157.37 L357.87,157.22 L358.94,157.09 L360.01,156.98 L361.07,156.89 L362.14,156.83 L363.20,156.79 L364.26,156.77 L365.32,156.78 L366.37,156.81 L367.42,156.87 L368.47,156.95 L369.51,157.05 L370.55,157.18 L371.58,157.34 L372.60,157.52 L373.62,157.73 L374.64,157.96 L375.64,158.22 L376.64,158.51 L377.63,158.82 L378.61,159.16 L379.58,159.53 L380.55,159.92 L381.50,160.34 L382.45,160.78 L383.39,161.24 L384.32,161.73 L385.24,162.25 L386.16,162.78 L387.07,163.34 L387.97,163.91 L388.86,164.51 L389.74,165.13 L390.62,165.77 L391.49,166.42 L392.35,167.09 L393.21,167.78 L394.05,168.49 L394.89,169.21 L395.72,169.95 L396.55,170.71 L397.37,171.47 L398.18,172.25 L398.98,173.05 L399.78,173.85 L400.57,174.67 L401.36,175.50 L402.14,176.34 L402.91,177.19 L403.67,178.05 L404.43,178.91 L405.18,179.79 L405.93,180.67 L406.67,181.56 L407.40,182.46 L408.13,183.36 L408.85,184.26 L409.57,185.17 L410.28,186.09 L410.98,187.00 L411.68,187.92 L412.38,188.85 L413.07,189.77 L413.75,190.69 L414.43,191.61 L415.10,192.54 L415.77,193.46 L416.43,194.38 L417.09,195.30 L417.74,196.22 L418.39,197.14 L419.03,198.06 L419.67,198.98 L420.31,199.90 L420.95,200.82 L421.58,201.73 L422.20,202.65 L422.83,203.57 L423.45,204.48 L424.07,205.39 L424.69,206.31 L425.30,207.22 L425.91,208.13 L426.52,209.04 L427.13,209.95 L427.74,210.86 L428.35,211.76 L428.95,212.67 L429.55,213.57 L430.16,214.48 L430.76,215.38 L431.36,216.28 L431.97,217.18 L432.57,218.08 L433.17,218.97 L433.77,219.87 L434.38,220.76 L434.98,221.66 L435.59,222.55 L436.20,223.44 L436.80,224.33 L437.41,225.21 L438.02,226.10 L438.64,226.98 L439.25,227.87 L439.87,228.75 L440.49,229.63 L441.11,230.51 L441.74,231.38 L442.37,232.26 L443.00,233.13 L443.64,234.00 L444.27,234.87 L444.92,235.73 L445.56,236.60 L446.21,237.46 L446.87,238.32 L447.53,239.18 L448.19,240.04 L448.86,240.90 L449.54,241.75 L450.22,242.60 L450.90,243.45 L451.59,244.30 L452.28,245.14 L452.98,245.98 L453.68,246.82 L454.38,247.66 L455.09,248.49 L455.81,249.32 L456.53,250.15 L457.25,250.97 L457.98,251.80 L458.72,252.61 L459.45,253.43 L460.20,254.24 L460.94,255.05 L461.69,255.86 L462.45,256.66 L463.21,257.46 L463.97,258.26 L464.74,259.05 L465.51,259.84 L466.29,260.62 L467.07,261.40 L467.86,262.18 L468.65,262.95 L469.44,263.72 L470.24,264.49 L471.04,265.25 L471.85,266.00 L472.66,266.75 L473.48,267.50 L474.30,268.25 L475.12,268.98 L475.95,269.72 L476.78,270.45 L477.61,271.17 L478.45,271.89 L479.30,272.61 L480.15,273.32 L481.00,274.02 L481.85,274.72 L482.71,275.42 L483.58,276.11 L484.44,276.79 L485.32,277.47 L486.19,278.14 L487.07,278.81 L487.96,279.47 L488.84,280.13 L489.73,280.78 L490.63,281.42 L491.53,282.06 L492.43,282.70 L493.34,283.32 L494.25,283.94 L495.16,284.56 L496.08,285.17 L497.00,285.77 L497.92,286.36 L498.85,286.95 L499.79,287.54 L500.72,288.11 L501.66,288.68 L502.61,289.25 L503.55,289.80 L504.50,290.35 L505.46,290.89 L506.41,291.43 L507.38,291.96 L508.34,292.48 L509.31,292.99 L510.28,293.50 L511.26,294.00 L512.23,294.49 L513.22,294.98 L514.20,295.45 L515.19,295.92 L516.84,296.62 L516.44,298.21 L516.05,299.81 L515.66,301.41 L515.27,303.01 L514.89,304.61 L514.51,306.21 L514.13,307.81 L513.76,309.41 L513.40,311.01 L513.03,312.62 L512.67,314.22 L512.32,315.82 L511.96,317.42 L511.61,319.02 L511.27,320.63 L510.92,322.23 L510.58,323.83 L510.24,325.44 L509.91,327.04 L509.58,328.64 L509.24,330.25 L508.92,331.85 L508.59,333.46 L508.26,335.06 L507.94,336.67 L507.62,338.27 L507.30,339.88 L506.98,341.48 L506.66,343.09 L506.34,344.69 L506.03,346.30 L505.71,347.90 L505.40,349.51 L505.09,351.11 L504.77,352.72 L504.46,354.33 L504.15,355.93 L503.84,357.54 L503.52,359.14 L503.21,360.75 L502.90,362.36 L502.59,363.96 L502.27,365.57 L501.96,367.18 L501.64,368.78 L501.33,370.39 L501.01,372.00 L500.69,373.60 L500.37,375.21 L500.05,376.82 L499.73,378.42 L499.40,380.03 L499.08,381.63 L498.75,383.24 L498.42,384.85 L498.09,386.45 L497.75,388.06 L497.42,389.66 L497.08,391.27 L496.73,392.88 L496.39,394.48 L496.04,396.09 L495.69,397.69 L495.34,399.30 L494.98,400.90 L494.62,402.51 L494.25,404.11 L493.88,405.72 L493.51,407.32 L493.14,408.93 L492.76,410.53 L492.37,412.13 L491.98,413.74 L491.59,415.34 L491.19,416.94 L490.79,418.55 L490.38,420.15 L489.97,421.75 L489.55,423.35 L489.13,424.96 L488.70,426.56 L488.27,428.16 L487.83,429.76 L487.38,431.35 L486.93,432.95 L486.47,434.55 L486.01,436.14 L485.54,437.73 L485.07,439.32 L484.59,440.91 L484.10,442.50 L483.61,444.08 L483.10,445.67 L482.60,447.25 L482.08,448.83 L481.56,450.40 L481.03,451.97 L480.49,453.54 L479.95,455.11 L479.40,456.67 L478.84,458.23 L478.28,459.79 L477.70,461.34 L477.12,462.89 L476.53,464.44 L475.93,465.98 L475.32,467.52 L474.71,469.05 L474.09,470.58 L473.45,472.10 L472.81,473.62 L472.16,475.14 L471.50,476.65 L470.84,478.15 L470.16,479.65 L469.47,481.15 L468.78,482.64 L468.07,484.12 L467.36,485.60 L466.63,487.07 L465.90,488.54 L465.15,490.00 L464.40,491.46 L463.64,492.90 L462.86,494.35 L462.07,495.78 L461.28,497.21 L460.47,498.63 L459.65,500.05 L458.83,501.45 L457.99,502.85 L457.14,504.25 L456.27,505.63 L455.40,507.01 L454.52,508.38 L453.62,509.74 L452.71,511.10 L451.79,512.44 L450.86,513.78 L449.92,515.11 L448.96,516.43 L447.99,517.74 L447.01,519.05 L446.02,520.34 L445.01,521.63 L444.00,522.90 L442.96,524.17 L441.92,525.43 L440.86,526.68 L439.79,527.91 L438.71,529.14 L437.61,530.36 L436.50,531.57 L435.38,532.77 L434.24,533.95 L433.09,535.13 L431.92,536.30 L430.74,537.45 L429.55,538.60 L428.34,539.73 L427.12,540.85 L425.88,541.96 L424.63,543.06 L423.37,544.15 L422.09,545.22 L420.80,546.28 L419.50,547.32 L418.18,548.35 L416.85,549.36 L415.51,550.36 L414.16,551.34 L412.79,552.30 L411.42,553.24 L410.03,554.17 L408.63,555.07 L407.22,555.96 L405.80,556.82 L404.37,557.67 L402.93,558.49 L401.49,559.29 L400.03,560.07 L398.56,560.82 L397.08,561.55 L395.60,562.26 L394.11,562.94 L392.60,563.59 L391.10,564.22 L389.58,564.82 L388.05,565.40 L386.52,565.95 L384.98,566.46 L383.44,566.95 L381.89,567.41 L380.33,567.84 L378.77,568.24 L377.20,568.61 L375.62,568.94 L374.04,569.25 L372.46,569.52 L370.87,569.75 L369.27,569.95 L367.68,570.12 L366.08,570.25 L364.47,570.35 L362.86,570.41 L361.25,570.43 L359.63,570.41 L358.02,570.36 L356.40,570.26 L354.78,570.13 L353.15,569.96 L351.53,569.74 L349.90,569.50 L348.28,569.21 L346.66,568.89 L345.04,568.53 L343.42,568.13 L341.81,567.71 L340.20,567.25 L338.60,566.75 L337.00,566.23 L335.41,565.68 L333.83,565.09 L332.26,564.48 L330.70,563.83 L329.15,563.16 L327.61,562.47 L326.08,561.75 L324.57,561.00 L323.07,560.23 L321.58,559.43 L320.11,558.61 L318.65,557.77 L317.22,556.91 L315.80,556.03 L314.39,555.13 L313.01,554.21 L311.64,553.27 L310.29,552.31 L308.95,551.34 L307.64,550.35 L306.33,549.33 L305.05,548.31 L303.78,547.26 L302.52,546.20 L301.28,545.13 L300.06,544.04 L298.85,542.94 L297.65,541.82 L296.47,540.68 L295.30,539.54 L294.14,538.38 L293.00,537.21 L291.87,536.03 L290.76,534.83 L289.66,533.63 L288.57,532.41 L287.49,531.19 L286.42,529.95 L285.37,528.71 L284.32,527.45 L283.29,526.19 L282.27,524.92 L281.26,523.64 L280.26,522.35 L279.27,521.06 L278.29,519.75 L277.33,518.44 L276.37,517.12 L275.42,515.80 L274.49,514.46 L273.56,513.12 L272.65,511.77 L271.74,510.42 L270.85,509.05 L269.96,507.68 L269.09,506.30 L268.22,504.92 L267.37,503.53 L266.52,502.13 L265.69,500.73 L264.86,499.32 L264.04,497.90 L263.24,496.48 L262.44,495.05 L261.65,493.61 L260.87,492.17 L260.10,490.72 L259.34,489.27 L258.58,487.81 L257.84,486.35 L257.10,484.88 L256.38,483.41 L255.66,481.93 L254.95,480.44 L254.25,478.95 L253.56,477.46 L252.87,475.96 L252.20,474.46 L251.53,472.95 L250.87,471.44 L250.22,469.92 L249.57,468.40 L248.94,466.87 L248.31,465.34 L247.69,463.81 L247.07,462.27 L246.47,460.73 L245.87,459.19 L245.28,457.64 L244.69,456.09 L244.11,454.54 L243.54,452.98 L242.98,451.42 L242.42,449.86 L241.88,448.29 L241.33,446.72 L240.80,445.15 L240.27,443.58 L239.74,442.00 L239.23,440.42 L238.72,438.84 L238.21,437.26 L237.72,435.67 L237.23,434.09 L236.74,432.50 L236.26,430.91 L235.79,429.32 L235.32,427.72 L234.86,426.13 L234.40,424.53 L233.95,422.93 L233.50,421.34 L233.06,419.74 L232.63,418.14 L232.20,416.54 L231.78,414.94 L231.36,413.33 L230.94,411.73 L230.53,410.13 L230.13,408.53 L229.73,406.92 L229.33,405.32 L228.94,403.72 L228.56,402.12 L228.17,400.51 L227.80,398.91 L227.42,397.31 L227.05,395.71 L226.69,394.11 L226.33,392.51 L225.97,390.92 L225.62,389.32 L225.27,387.72 L224.92,386.13 L224.58,384.53 L224.24,382.94 L223.91,381.35 L223.58,379.76 L223.25,378.17 L222.92,376.58 L222.60,374.98 L222.28,373.39 L221.96,371.80 L221.65,370.21 L221.34,368.62 L221.03,367.03 L220.72,365.44 L220.42,363.85 L220.12,362.25 L219.82,360.66 L219.52,359.07 L219.23,357.47 L218.93,355.87 L218.64,354.28 L218.35,352.68 L218.07,351.08 L217.78,349.47 L217.49,347.87 L217.21,346.26 L216.93,344.66 L216.65,343.05 L216.37,341.44 L216.09,339.82 L215.81,338.21 L215.53,336.59 L215.26,334.97 L214.98,333.34 L214.71,331.72 L214.43,330.09 L214.16,328.46 L213.88,326.82 L213.61,325.18 L213.33,323.54 L213.06,321.90 L212.78,320.25 L212.51,318.59 L212.24,316.94 L211.96,315.28 L211.68,313.62 L211.40,311.95 L211.12,310.29 L210.82,308.63 L210.50,306.97 L210.17,305.33 L209.82,303.69 L209.44,302.07 L209.03,300.46 L208.59,298.88 L208.11,297.31 L207.60,295.77 Z" fill="#e4e8f0"/><g clip-path="url(#cBand)"><g clip-path="url(#cAbove)" fill="none" stroke="#141414" stroke-width="1.3" stroke-dasharray="6.4 5.2"><path d="M156.08,276.66 L156.85,275.71 L157.61,274.80 L158.38,273.89 L159.15,272.98 L159.92,272.07 L160.70,271.17 L161.49,270.27 L162.29,269.37 L163.09,268.48 L163.88,267.58 L164.69,266.70 L165.50,265.81 L166.32,264.92 L167.14,264.03 L167.96,263.15 L168.79,262.27 L169.62,261.39 L170.46,260.51 L171.30,259.63 L172.15,258.76 L172.99,257.88 L173.84,257.01 L174.70,256.13 L175.55,255.26 L176.41,254.39 L177.27,253.52 L178.14,252.65 L179.01,251.78 L179.88,250.91 L180.75,250.04 L181.62,249.17 L182.50,248.30 L183.38,247.43 L184.26,246.56 L185.14,245.69 L186.02,244.82 L186.91,243.95 L187.79,243.07 L188.68,242.20 L189.57,241.33 L190.38,240.37 L191.18,239.41 L191.99,238.44 L192.79,237.47 L193.60,236.50 L194.40,235.53 L195.20,234.56 L196.00,233.58 L196.81,232.60 L197.61,231.62 L198.41,230.64 L199.21,229.66 L200.01,228.68 L200.81,227.69 L201.61,226.70 L202.41,225.70 L203.20,224.71 L203.99,223.71 L204.78,222.71 L205.57,221.70 L206.35,220.70 L207.14,219.69 L207.92,218.67 L208.69,217.66 L209.47,216.63 L210.24,215.61 L211.00,214.59 L211.76,213.56 L212.59,212.59 L213.44,211.63 L214.28,210.68 L215.12,209.72 L215.95,208.76 L216.79,207.79 L217.62,206.82 L218.44,205.85 L219.26,204.88 L220.07,203.90 L220.88,202.92 L221.69,201.94 L222.50,200.95 L223.30,199.97 L224.09,198.98 L224.89,197.98 L225.68,196.99 L226.46,195.99 L227.24,194.99 L228.02,193.98 L228.80,192.98 L229.57,191.97 L230.34,190.96 L231.10,189.94 L231.86,188.93 L232.62,187.91 L233.38,186.89 L234.13,185.87 L234.87,184.85 L235.62,183.82 L236.36,182.79 L237.10,181.76 L237.83,180.73 L238.56,179.70 L239.29,178.66 L240.01,177.62 L240.74,176.58 L241.46,175.54 L242.17,174.50 L242.89,173.45 L243.60,172.41 L244.30,171.36 L245.01,170.31 L245.71,169.26 L246.41,168.21 L247.10,167.16 L247.80,166.10 L248.49,165.04 L249.18,163.99 L249.86,162.93 L250.55,161.87 L251.23,160.81 L251.91,159.74 L252.58,158.68 L253.26,157.61 L253.93,156.55 L254.60,155.48 L255.26,154.41 L255.93,153.34 L256.59,152.27 L257.25,151.20 L257.91,150.13 L258.57,149.06 L259.22,147.98 L259.87,146.91 L260.52,145.84 L261.17,144.76 L261.82,143.69 L262.47,142.62 L263.11,141.55 L263.75,140.48 L264.39,139.41 L265.03,138.34 L265.67,137.28 L266.31,136.21 L266.95,135.15 L267.59,134.08 L268.23,133.02 L268.87,131.97 L269.52,130.91 L270.16,129.85 L270.80,128.80 L271.45,127.75 L272.09,126.71 L272.74,125.66 L273.39,124.62 L274.04,123.58 L274.69,122.54 L275.35,121.51 L276.01,120.48 L276.67,119.46 L277.33,118.44 L278.00,117.42 L278.67,116.40 L279.34,115.39 L280.02,114.39 L280.70,113.39 L281.39,112.39 L282.08,111.39 L282.77,110.41 L283.47,109.43 L284.17,108.45 L284.88,107.48 L285.60,106.51 L286.31,105.56 L287.04,104.61 L287.77,103.66 L288.50,102.72 L289.25,101.79 L289.99,100.86 L290.74,99.95 L291.50,99.04 L292.27,98.13 L293.05,97.24 L293.83,96.35 L294.61,95.48 L295.40,94.61 L296.20,93.75 L297.01,92.90 L297.83,92.06 L298.65,91.23 L299.48,90.42 L300.32,89.61 L301.16,88.81 L302.02,88.02 L302.88,87.25 L303.75,86.49 L304.62,85.74 L305.51,85.00 L306.40,84.28 L307.31,83.56 L308.22,82.86 L309.13,82.18 L310.05,81.51 L310.99,80.85 L311.93,80.20 L312.89,79.57 L313.84,78.96 L314.80,78.36 L315.77,77.78 L316.76,77.21 L317.75,76.65 L318.75,76.11 L319.75,75.58 L320.76,75.08 L321.79,74.58 L322.82,74.10 L323.87,73.62 L324.91,73.17 L325.96,72.74 L327.02,72.31 L328.10,71.90 L329.18,71.49 L330.25,71.11 L331.33,70.75 L332.43,70.39 L333.54,70.04 L334.64,69.71 L335.74,69.40 L336.85,69.10 L337.97,68.81 L339.10,68.53 L340.22,68.27 L341.34,68.03 L342.47,67.79 L343.61,67.57 L344.76,67.36 L345.89,67.16 L347.02,66.99 L348.18,66.82 L349.33,66.66 L350.48,66.52 L351.62,66.39 L352.77,66.28 L353.93,66.17 L355.09,66.08 L356.24,66.01 L357.39,65.95 L358.56,65.90 L359.72,65.86 L360.87,65.84 L362.02,65.83 L363.18,65.84 L364.35,65.86 L365.50,65.89 L366.65,65.93 L367.80,65.99 L368.96,66.07 L370.12,66.15 L371.26,66.25 L372.40,66.36 L373.55,66.49 L374.70,66.63 L375.84,66.79 L376.97,66.95 L378.10,67.14 L379.24,67.34 L380.38,67.55 L381.50,67.77 L382.61,68.01 L383.73,68.27 L384.85,68.54 L385.96,68.83 L387.06,69.12 L388.14,69.44 L389.24,69.77 L390.33,70.11 L391.42,70.47 L392.49,70.84 L393.56,71.23 L394.63,71.64 L395.70,72.06 L396.76,72.49 L397.81,72.94 L398.85,73.40 L399.89,73.87 L400.94,74.37 L401.97,74.87 L403.00,75.39 L404.02,75.91 L405.03,76.46 L406.04,77.02 L407.05,77.59 L408.05,78.17 L409.04,78.76 L410.02,79.36 L411.00,79.98 L411.98,80.61 L412.95,81.26 L413.91,81.91 L414.86,82.57 L415.81,83.24 L416.76,83.93 L417.70,84.63 L418.63,85.33 L419.56,86.04 L420.47,86.76 L421.39,87.50 L422.30,88.25 L423.20,89.00 L424.09,89.76 L424.98,90.53 L425.86,91.31 L426.75,92.10 L427.62,92.90 L428.49,93.71 L429.34,94.52 L430.20,95.34 L431.05,96.17 L431.89,97.01 L432.73,97.85 L433.56,98.70 L434.38,99.56 L435.20,100.43 L436.02,101.30 L436.83,102.18 L437.63,103.06 L438.43,103.96 L439.22,104.86 L440.00,105.77 L440.78,106.68 L441.55,107.60 L442.32,108.53 L443.08,109.46 L443.84,110.41 L444.59,111.35 L445.34,112.31 L446.08,113.27 L446.81,114.23 L447.54,115.21 L448.27,116.19 L448.98,117.17 L449.70,118.16 L450.41,119.16 L451.11,120.16 L451.81,121.16 L452.51,122.17 L453.20,123.19 L453.88,124.21 L454.56,125.24 L455.24,126.27 L455.91,127.30 L456.57,128.34 L457.23,129.38 L457.89,130.43 L458.54,131.48 L459.19,132.53 L459.83,133.59 L460.47,134.65 L461.11,135.72 L461.74,136.79 L462.37,137.86 L462.99,138.93 L463.61,140.01 L464.23,141.09 L464.84,142.17 L465.45,143.26 L466.06,144.35 L466.66,145.44 L467.27,146.53 L467.87,147.62 L468.46,148.72 L469.06,149.82 L469.65,150.92 L470.25,152.02 L470.84,153.13 L471.43,154.23 L472.02,155.34 L472.61,156.44 L473.20,157.55 L473.79,158.66 L474.38,159.77 L474.98,160.88 L475.57,161.99 L476.17,163.10 L476.77,164.21 L477.38,165.32 L477.98,166.43 L478.59,167.54 L479.21,168.65 L479.83,169.76 L480.45,170.87 L481.08,171.97 L481.72,173.07 L482.36,174.17 L483.01,175.27 L483.66,176.37 L484.32,177.46 L484.99,178.54 L485.66,179.63 L486.34,180.71 L487.02,181.79 L487.71,182.86 L488.41,183.92 L489.11,184.99 L489.82,186.05 L490.53,187.11 L491.25,188.16 L491.97,189.21 L492.70,190.25 L493.44,191.29 L494.19,192.33 L494.93,193.36 L495.69,194.38 L496.45,195.40 L497.21,196.42 L497.98,197.44 L498.76,198.44 L499.54,199.45 L500.32,200.44 L501.12,201.44 L501.91,202.43 L502.71,203.42 L503.52,204.40 L504.33,205.37 L505.14,206.35 L505.96,207.32 L506.78,208.28 L507.61,209.24 L508.44,210.20 L509.27,211.15 L510.11,212.10 L510.95,213.04 L511.80,213.98 L512.65,214.92 L513.50,215.85 L514.36,216.78 L515.21,217.70 L516.07,218.63 L516.93,219.55 L517.80,220.46 L518.67,221.38 L519.54,222.28 L520.41,223.19 L521.29,224.09 L522.16,225.00 L523.04,225.90 L523.92,226.79 L524.80,227.68 L525.68,228.58 L526.57,229.47 L527.45,230.35 L528.34,231.24 L529.22,232.12 L530.11,233.01 L531.00,233.89 L531.89,234.76 L532.78,235.64 L533.67,236.52 L534.56,237.39 L535.45,238.27 L536.34,239.14 L537.23,240.01 L538.12,240.88 L539.00,241.76 L539.89,242.63 L540.78,243.50 L541.67,244.37 L542.56,245.23 L543.44,246.10 L544.33,246.97 L545.21,247.84 L546.10,248.71 L546.98,249.58 L547.86,250.45 L548.74,251.32 L549.62,252.19 L550.50,253.06 L551.38,253.93 L552.25,254.80 L553.12,255.68 L553.99,256.55 L554.86,257.43 L555.73,258.30 L556.59,259.18 L557.45,260.06 L558.31,260.94 L559.17,261.82 L560.03,262.70 L560.88,263.58 L561.73,264.47 L562.57,265.35 L563.42,266.24 L564.26,267.14 L565.10,268.03 L565.93,268.92 L566.76,269.82 L567.59,270.72 L568.42,271.62 L569.24,272.52 L570.07,273.44"/><path d="M162.18,281.67 L162.94,280.75 L163.68,279.86 L164.42,278.98 L165.17,278.10 L165.91,277.23 L166.66,276.36 L167.43,275.49 L168.20,274.61 L168.98,273.74 L169.75,272.88 L170.53,272.01 L171.33,271.15 L172.12,270.28 L172.93,269.41 L173.73,268.55 L174.54,267.69 L175.35,266.83 L176.18,265.96 L177.00,265.10 L177.83,264.24 L178.66,263.39 L179.50,262.52 L180.34,261.66 L181.19,260.80 L182.03,259.94 L182.88,259.09 L183.74,258.22 L184.60,257.36 L185.46,256.50 L186.32,255.64 L187.19,254.78 L188.06,253.91 L188.94,253.05 L189.81,252.18 L190.69,251.31 L191.57,250.44 L192.45,249.57 L193.34,248.70 L194.22,247.83 L195.11,246.95 L195.94,246.02 L196.76,245.07 L197.59,244.11 L198.41,243.16 L199.24,242.20 L200.07,241.24 L200.89,240.28 L201.72,239.32 L202.55,238.35 L203.38,237.38 L204.21,236.41 L205.03,235.43 L205.86,234.45 L206.69,233.47 L207.52,232.48 L208.35,231.49 L209.17,230.50 L210.00,229.50 L210.82,228.50 L211.65,227.49 L212.47,226.49 L213.29,225.48 L214.10,224.46 L214.92,223.43 L215.74,222.40 L216.54,221.38 L217.35,220.34 L218.15,219.31 L219.01,218.31 L219.88,217.33 L220.75,216.35 L221.60,215.37 L222.46,214.39 L223.32,213.39 L224.17,212.39 L225.01,211.40 L225.85,210.40 L226.68,209.41 L227.52,208.40 L228.35,207.39 L229.17,206.38 L229.99,205.37 L230.80,204.36 L231.62,203.34 L232.43,202.32 L233.23,201.29 L234.03,200.27 L234.83,199.25 L235.62,198.22 L236.41,197.18 L237.20,196.15 L237.98,195.11 L238.75,194.08 L239.52,193.04 L240.30,192.00 L241.07,190.95 L241.83,189.90 L242.59,188.86 L243.34,187.81 L244.10,186.76 L244.85,185.70 L245.59,184.65 L246.33,183.60 L247.07,182.54 L247.81,181.48 L248.54,180.42 L249.27,179.36 L250.00,178.30 L250.72,177.23 L251.44,176.17 L252.16,175.10 L252.87,174.03 L253.58,172.96 L254.29,171.89 L254.99,170.82 L255.70,169.74 L256.39,168.67 L257.09,167.59 L257.78,166.52 L258.47,165.44 L259.16,164.36 L259.85,163.28 L260.53,162.21 L261.21,161.13 L261.89,160.05 L262.57,158.96 L263.24,157.88 L263.91,156.80 L264.58,155.71 L265.25,154.63 L265.92,153.54 L266.58,152.46 L267.24,151.38 L267.89,150.29 L268.55,149.21 L269.20,148.13 L269.85,147.06 L270.49,145.98 L271.14,144.91 L271.78,143.84 L272.42,142.77 L273.06,141.71 L273.70,140.65 L274.34,139.59 L274.98,138.53 L275.62,137.48 L276.25,136.43 L276.89,135.39 L277.53,134.34 L278.16,133.31 L278.80,132.27 L279.44,131.24 L280.08,130.21 L280.72,129.19 L281.36,128.18 L282.00,127.16 L282.65,126.15 L283.29,125.15 L283.94,124.15 L284.59,123.16 L285.24,122.17 L285.90,121.18 L286.55,120.21 L287.21,119.24 L287.87,118.28 L288.54,117.31 L289.21,116.36 L289.87,115.41 L290.54,114.48 L291.22,113.55 L291.91,112.62 L292.59,111.70 L293.28,110.79 L293.97,109.90 L294.66,109.00 L295.37,108.11 L296.08,107.23 L296.79,106.36 L297.49,105.51 L298.21,104.66 L298.94,103.82 L299.67,102.98 L300.41,102.16 L301.13,101.36 L301.87,100.56 L302.62,99.77 L303.38,98.99 L304.14,98.21 L304.90,97.46 L305.66,96.73 L306.43,95.99 L307.22,95.27 L308.01,94.55 L308.80,93.85 L309.58,93.18 L310.37,92.52 L311.18,91.86 L312.00,91.21 L312.82,90.57 L313.64,89.95 L314.46,89.35 L315.28,88.77 L316.12,88.19 L316.97,87.62 L317.83,87.07 L318.68,86.53 L319.52,86.02 L320.38,85.52 L321.26,85.02 L322.15,84.54 L323.04,84.07 L323.91,83.63 L324.79,83.19 L325.72,82.76 L326.65,82.34 L327.59,81.93 L328.50,81.54 L329.43,81.17 L330.39,80.79 L331.36,80.43 L332.34,80.08 L333.29,79.75 L334.25,79.43 L335.25,79.12 L336.25,78.82 L337.25,78.53 L338.23,78.26 L339.22,78.00 L340.25,77.74 L341.28,77.50 L342.28,77.27 L343.28,77.06 L344.31,76.85 L345.36,76.65 L346.39,76.47 L347.41,76.30 L348.43,76.15 L349.49,76.00 L350.54,75.86 L351.57,75.74 L352.60,75.63 L353.65,75.53 L354.71,75.43 L355.76,75.35 L356.79,75.29 L357.83,75.24 L358.90,75.19 L359.96,75.16 L360.99,75.14 L362.02,75.13 L363.08,75.14 L364.14,75.15 L365.19,75.18 L366.21,75.22 L367.25,75.27 L368.31,75.33 L369.37,75.41 L370.38,75.49 L371.40,75.59 L372.45,75.70 L373.49,75.82 L374.52,75.96 L375.52,76.10 L376.53,76.26 L377.56,76.43 L378.59,76.61 L379.59,76.81 L380.57,77.01 L381.57,77.23 L382.57,77.47 L383.57,77.71 L384.54,77.96 L385.49,78.23 L386.47,78.51 L387.45,78.81 L388.42,79.12 L389.37,79.44 L390.31,79.77 L391.27,80.12 L392.23,80.49 L393.19,80.87 L394.13,81.25 L395.05,81.65 L395.98,82.06 L396.93,82.49 L397.87,82.94 L398.80,83.39 L399.70,83.85 L400.61,84.32 L401.53,84.82 L402.45,85.32 L403.37,85.84 L404.26,86.36 L405.15,86.89 L406.04,87.44 L406.94,88.01 L407.84,88.59 L408.72,89.17 L409.58,89.75 L410.45,90.35 L411.33,90.98 L412.20,91.61 L413.07,92.25 L413.91,92.88 L414.75,93.53 L415.61,94.20 L416.46,94.89 L417.30,95.58 L418.13,96.26 L418.95,96.96 L419.77,97.68 L420.60,98.40 L421.42,99.14 L422.23,99.87 L423.03,100.61 L423.83,101.37 L424.63,102.14 L425.43,102.92 L426.22,103.69 L426.99,104.47 L427.77,105.27 L428.55,106.08 L429.33,106.89 L430.09,107.71 L430.84,108.53 L431.59,109.36 L432.35,110.20 L433.10,111.06 L433.84,111.91 L434.57,112.76 L435.29,113.63 L436.02,114.51 L436.75,115.40 L437.47,116.29 L438.17,117.19 L438.88,118.09 L439.59,119.02 L440.30,119.95 L440.99,120.88 L441.68,121.81 L442.37,122.76 L443.06,123.71 L443.75,124.68 L444.43,125.65 L445.10,126.62 L445.77,127.60 L446.44,128.59 L447.11,129.59 L447.77,130.58 L448.42,131.59 L449.07,132.60 L449.72,133.62 L450.37,134.65 L451.01,135.68 L451.65,136.71 L452.29,137.75 L452.92,138.80 L453.55,139.85 L454.18,140.91 L454.80,141.97 L455.42,143.04 L456.04,144.11 L456.65,145.18 L457.27,146.26 L457.88,147.35 L458.48,148.44 L459.09,149.53 L459.69,150.62 L460.30,151.72 L460.90,152.83 L461.50,153.94 L462.10,155.05 L462.70,156.16 L463.30,157.28 L463.90,158.40 L464.50,159.53 L465.10,160.65 L465.71,161.78 L466.31,162.91 L466.92,164.05 L467.53,165.18 L468.14,166.32 L468.75,167.46 L469.38,168.61 L470.00,169.75 L470.63,170.89 L471.26,172.03 L471.89,173.18 L472.54,174.33 L473.19,175.48 L473.85,176.63 L474.51,177.77 L475.18,178.92 L475.87,180.06 L476.55,181.20 L477.24,182.33 L477.93,183.46 L478.63,184.59 L479.34,185.71 L480.06,186.83 L480.77,187.94 L481.49,189.04 L482.22,190.15 L482.96,191.25 L483.71,192.34 L484.45,193.43 L485.20,194.51 L485.96,195.58 L486.73,196.66 L487.50,197.73 L488.27,198.79 L489.04,199.84 L489.83,200.90 L490.62,201.95 L491.42,202.99 L492.21,204.02 L493.02,205.05 L493.82,206.08 L494.64,207.10 L495.46,208.12 L496.28,209.13 L497.10,210.13 L497.93,211.13 L498.77,212.13 L499.61,213.12 L500.45,214.10 L501.29,215.08 L502.14,216.05 L503.00,217.03 L503.85,218.00 L504.71,218.96 L505.57,219.91 L506.43,220.86 L507.30,221.81 L508.17,222.76 L509.04,223.70 L509.92,224.63 L510.79,225.56 L511.67,226.49 L512.55,227.42 L513.43,228.34 L514.32,229.26 L515.20,230.17 L516.09,231.08 L516.97,231.99 L517.86,232.90 L518.75,233.80 L519.64,234.70 L520.53,235.59 L521.42,236.49 L522.31,237.38 L523.21,238.27 L524.10,239.15 L524.99,240.04 L525.88,240.92 L526.78,241.80 L527.67,242.68 L528.56,243.56 L529.45,244.43 L530.34,245.31 L531.23,246.18 L532.12,247.05 L533.01,247.92 L533.90,248.79 L534.78,249.66 L535.67,250.53 L536.55,251.39 L537.44,252.26 L538.32,253.12 L539.20,253.99 L540.08,254.85 L540.96,255.71 L541.83,256.58 L542.70,257.44 L543.57,258.30 L544.44,259.17 L545.31,260.03 L546.18,260.89 L547.04,261.75 L547.90,262.62 L548.76,263.48 L549.61,264.35 L550.47,265.21 L551.31,266.08 L552.16,266.94 L553.00,267.81 L553.85,268.68 L554.68,269.55 L555.52,270.42 L556.35,271.29 L557.18,272.16 L558.00,273.03 L558.82,273.91 L559.64,274.78 L560.45,275.66 L561.26,276.54 L562.07,277.42 L562.87,278.30 L563.69,279.21"/><path d="M168.90,287.20 L169.65,286.29 L170.35,285.44 L171.07,284.59 L171.79,283.74 L172.50,282.91 L173.22,282.08 L173.96,281.23 L174.71,280.38 L175.46,279.54 L176.21,278.70 L176.97,277.87 L177.74,277.02 L178.52,276.18 L179.30,275.33 L180.08,274.50 L180.86,273.66 L181.66,272.82 L182.47,271.97 L183.28,271.13 L184.09,270.29 L184.90,269.45 L185.73,268.60 L186.56,267.75 L187.39,266.90 L188.22,266.06 L189.06,265.21 L189.91,264.36 L190.76,263.51 L191.61,262.66 L192.46,261.80 L193.32,260.95 L194.19,260.09 L195.06,259.23 L195.93,258.37 L196.80,257.51 L197.68,256.64 L198.56,255.77 L199.44,254.90 L200.33,254.03 L201.22,253.15 L202.06,252.22 L202.89,251.27 L203.72,250.33 L204.56,249.38 L205.40,248.42 L206.24,247.46 L207.08,246.50 L207.92,245.54 L208.76,244.57 L209.61,243.60 L210.46,242.62 L211.30,241.64 L212.15,240.66 L213.00,239.67 L213.85,238.67 L214.70,237.68 L215.55,236.68 L216.40,235.68 L217.25,234.66 L218.10,233.64 L218.95,232.62 L219.79,231.60 L220.63,230.57 L221.49,229.52 L222.33,228.48 L223.17,227.43 L224.01,226.38 L224.84,225.33 L225.73,224.30 L226.62,223.29 L227.51,222.29 L228.39,221.28 L229.27,220.27 L230.15,219.25 L231.02,218.23 L231.89,217.21 L232.74,216.19 L233.60,215.16 L234.46,214.13 L235.31,213.09 L236.15,212.06 L236.99,211.02 L237.83,209.99 L238.66,208.94 L239.49,207.89 L240.32,206.84 L241.13,205.80 L241.95,204.75 L242.76,203.70 L243.57,202.64 L244.37,201.58 L245.17,200.52 L245.96,199.46 L246.75,198.41 L247.54,197.34 L248.33,196.26 L249.11,195.20 L249.88,194.13 L250.65,193.07 L251.42,191.99 L252.19,190.91 L252.95,189.84 L253.70,188.76 L254.45,187.69 L255.20,186.61 L255.95,185.52 L256.70,184.44 L257.43,183.36 L258.17,182.28 L258.90,181.19 L259.63,180.10 L260.36,179.01 L261.08,177.93 L261.80,176.84 L262.52,175.75 L263.23,174.66 L263.94,173.57 L264.65,172.48 L265.35,171.39 L266.05,170.29 L266.75,169.20 L267.45,168.10 L268.14,167.01 L268.83,165.91 L269.52,164.82 L270.21,163.72 L270.89,162.62 L271.57,161.53 L272.24,160.43 L272.92,159.33 L273.59,158.23 L274.26,157.13 L274.93,156.04 L275.59,154.95 L276.25,153.86 L276.90,152.77 L277.56,151.69 L278.20,150.61 L278.85,149.53 L279.49,148.46 L280.13,147.40 L280.77,146.33 L281.41,145.27 L282.05,144.22 L282.68,143.17 L283.31,142.13 L283.94,141.09 L284.57,140.05 L285.20,139.02 L285.82,138.00 L286.45,136.97 L287.08,135.96 L287.71,134.94 L288.33,133.95 L288.96,132.95 L289.59,131.96 L290.22,130.96 L290.85,129.98 L291.47,129.02 L292.10,128.05 L292.73,127.09 L293.37,126.13 L294.00,125.19 L294.63,124.26 L295.27,123.33 L295.91,122.40 L296.55,121.47 L297.19,120.57 L297.82,119.68 L298.47,118.79 L299.12,117.90 L299.78,117.02 L300.42,116.16 L301.07,115.32 L301.73,114.47 L302.39,113.62 L303.06,112.79 L303.72,111.98 L304.37,111.19 L305.04,110.39 L305.72,109.60 L306.40,108.82 L307.08,108.05 L307.74,107.31 L308.41,106.58 L309.11,105.85 L309.80,105.12 L310.50,104.41 L311.19,103.72 L311.87,103.06 L312.56,102.39 L313.28,101.73 L313.99,101.08 L314.71,100.44 L315.40,99.84 L316.09,99.25 L316.81,98.66 L317.54,98.07 L318.27,97.50 L319.00,96.95 L319.71,96.43 L320.42,95.91 L321.16,95.40 L321.91,94.89 L322.67,94.40 L323.40,93.93 L324.12,93.49 L324.86,93.05 L325.63,92.61 L326.40,92.19 L327.18,91.77 L327.92,91.39 L328.68,91.02 L329.50,90.63 L330.32,90.25 L331.15,89.88 L331.94,89.54 L332.74,89.22 L333.60,88.88 L334.47,88.55 L335.34,88.23 L336.17,87.94 L337.01,87.66 L337.91,87.37 L338.81,87.09 L339.71,86.83 L340.57,86.59 L341.46,86.36 L342.38,86.12 L343.32,85.90 L344.21,85.69 L345.10,85.50 L346.03,85.31 L346.98,85.13 L347.92,84.96 L348.82,84.81 L349.74,84.66 L350.70,84.53 L351.67,84.40 L352.59,84.28 L353.50,84.19 L354.46,84.09 L355.43,84.01 L356.38,83.94 L357.30,83.88 L358.24,83.83 L359.21,83.79 L360.18,83.76 L361.11,83.74 L362.02,83.73 L362.99,83.74 L363.96,83.75 L364.90,83.78 L365.81,83.81 L366.75,83.86 L367.71,83.92 L368.67,83.99 L369.57,84.06 L370.47,84.15 L371.42,84.25 L372.36,84.37 L373.29,84.49 L374.17,84.62 L375.06,84.76 L375.99,84.92 L376.92,85.09 L377.80,85.26 L378.65,85.44 L379.54,85.64 L380.44,85.85 L381.33,86.07 L382.17,86.29 L382.99,86.53 L383.85,86.78 L384.72,87.05 L385.58,87.33 L386.41,87.61 L387.22,87.90 L388.06,88.21 L388.92,88.54 L389.77,88.88 L390.59,89.22 L391.40,89.57 L392.22,89.94 L393.06,90.33 L393.90,90.73 L394.73,91.14 L395.52,91.54 L396.32,91.96 L397.15,92.41 L397.97,92.87 L398.80,93.34 L399.59,93.80 L400.37,94.27 L401.18,94.77 L401.99,95.28 L402.80,95.81 L403.59,96.34 L404.36,96.86 L405.14,97.40 L405.94,97.97 L406.73,98.55 L407.52,99.13 L408.28,99.71 L409.04,100.29 L409.82,100.91 L410.60,101.54 L411.38,102.18 L412.13,102.80 L412.87,103.43 L413.63,104.09 L414.40,104.76 L415.16,105.45 L415.90,106.12 L416.62,106.79 L417.37,107.49 L418.11,108.21 L418.86,108.93 L419.58,109.65 L420.30,110.36 L421.02,111.10 L421.75,111.86 L422.47,112.62 L423.18,113.37 L423.88,114.13 L424.58,114.90 L425.29,115.69 L426.00,116.49 L426.69,117.29 L427.37,118.08 L428.05,118.89 L428.74,119.72 L429.42,120.56 L430.10,121.39 L430.77,122.23 L431.44,123.09 L432.12,123.97 L432.79,124.85 L433.46,125.74 L434.11,126.62 L434.77,127.53 L435.44,128.45 L436.10,129.38 L436.75,130.30 L437.40,131.23 L438.05,132.18 L438.70,133.14 L439.35,134.11 L439.99,135.08 L440.63,136.05 L441.26,137.04 L441.90,138.04 L442.54,139.05 L443.16,140.05 L443.79,141.07 L444.42,142.09 L445.04,143.13 L445.66,144.17 L446.28,145.21 L446.90,146.26 L447.51,147.32 L448.13,148.39 L448.74,149.46 L449.35,150.53 L449.96,151.62 L450.57,152.71 L451.18,153.80 L451.78,154.90 L452.39,156.01 L453.00,157.12 L453.60,158.24 L454.21,159.36 L454.81,160.49 L455.42,161.63 L456.03,162.76 L456.64,163.90 L457.25,165.05 L457.87,166.20 L458.49,167.36 L459.11,168.52 L459.74,169.68 L460.36,170.85 L460.99,172.02 L461.64,173.20 L462.28,174.38 L462.93,175.56 L463.58,176.73 L464.24,177.92 L464.92,179.12 L465.60,180.31 L466.28,181.50 L466.97,182.68 L467.68,183.88 L468.39,185.08 L469.11,186.26 L469.82,187.44 L470.55,188.61 L471.28,189.78 L472.02,190.95 L472.77,192.11 L473.51,193.26 L474.26,194.40 L475.02,195.54 L475.79,196.69 L476.57,197.82 L477.34,198.94 L478.11,200.05 L478.90,201.17 L479.70,202.28 L480.49,203.39 L481.29,204.48 L482.09,205.56 L482.90,206.64 L483.72,207.73 L484.55,208.80 L485.37,209.86 L486.19,210.92 L487.02,211.97 L487.86,213.02 L488.71,214.07 L489.55,215.10 L490.39,216.13 L491.24,217.15 L492.10,218.17 L492.97,219.19 L493.82,220.19 L494.69,221.19 L495.55,222.18 L496.43,223.18 L497.30,224.17 L498.18,225.14 L499.05,226.12 L499.93,227.08 L500.82,228.05 L501.70,229.02 L502.59,229.97 L503.47,230.92 L504.36,231.86 L505.26,232.81 L506.15,233.75 L507.04,234.68 L507.94,235.60 L508.83,236.53 L509.73,237.45 L510.63,238.37 L511.52,239.28 L512.42,240.19 L513.32,241.10 L514.22,242.01 L515.11,242.91 L516.01,243.80 L516.91,244.70 L517.81,245.59 L518.70,246.48 L519.60,247.37 L520.49,248.25 L521.39,249.13 L522.28,250.01 L523.18,250.89 L524.07,251.76 L524.96,252.63 L525.85,253.51 L526.74,254.37 L527.62,255.24 L528.51,256.11 L529.39,256.97 L530.27,257.84 L531.15,258.70 L532.03,259.56 L532.90,260.42 L533.78,261.28 L534.65,262.14 L535.52,262.99 L536.38,263.85 L537.24,264.70 L538.11,265.56 L538.97,266.41 L539.82,267.27 L540.67,268.12 L541.52,268.97 L542.37,269.82 L543.21,270.68 L544.05,271.53 L544.89,272.38 L545.72,273.23 L546.55,274.08 L547.38,274.94 L548.20,275.79 L549.02,276.64 L549.83,277.49 L550.64,278.35 L551.45,279.21 L552.26,280.06 L553.05,280.91 L553.84,281.76 L554.63,282.63 L555.42,283.49 L556.21,284.35 L557.01,285.24"/><path d="M174.46,291.77 L175.20,290.88 L175.88,290.06 L176.57,289.23 L177.27,288.41 L177.96,287.61 L178.65,286.80 L179.37,285.98 L180.10,285.16 L180.83,284.33 L181.56,283.52 L182.29,282.72 L183.05,281.89 L183.81,281.06 L184.57,280.24 L185.33,279.42 L186.10,278.60 L186.89,277.77 L187.68,276.94 L188.47,276.11 L189.27,275.29 L190.06,274.46 L190.88,273.63 L191.70,272.79 L192.52,271.95 L193.34,271.12 L194.17,270.28 L195.01,269.44 L195.85,268.60 L196.70,267.75 L197.54,266.91 L198.40,266.06 L199.26,265.20 L200.12,264.35 L200.99,263.49 L201.86,262.63 L202.73,261.77 L203.61,260.90 L204.50,260.03 L205.38,259.16 L206.27,258.28 L207.13,257.37 L207.99,256.45 L208.85,255.52 L209.72,254.59 L210.58,253.66 L211.45,252.72 L212.32,251.78 L213.20,250.84 L214.08,249.89 L214.96,248.93 L215.84,247.97 L216.72,247.01 L217.60,246.04 L218.49,245.06 L219.38,244.08 L220.26,243.10 L221.15,242.11 L222.04,241.12 L222.93,240.11 L223.83,239.09 L224.71,238.08 L225.60,237.07 L226.49,236.04 L227.39,235.00 L228.28,233.95 L229.17,232.91 L230.05,231.86 L230.93,230.81 L231.85,229.76 L232.77,228.73 L233.67,227.70 L234.57,226.67 L235.47,225.64 L236.37,224.59 L237.27,223.54 L238.15,222.50 L239.03,221.45 L239.90,220.41 L240.78,219.35 L241.66,218.28 L242.52,217.23 L243.37,216.17 L244.22,215.12 L245.08,214.05 L245.93,212.97 L246.77,211.90 L247.60,210.84 L248.43,209.77 L249.26,208.69 L250.09,207.61 L250.91,206.53 L251.72,205.45 L252.53,204.37 L253.34,203.29 L254.14,202.20 L254.95,201.11 L255.74,200.02 L256.53,198.94 L257.31,197.85 L258.10,196.76 L258.88,195.65 L259.65,194.56 L260.42,193.47 L261.18,192.38 L261.95,191.28 L262.71,190.17 L263.47,189.07 L264.22,187.98 L264.96,186.88 L265.71,185.78 L266.45,184.67 L267.19,183.56 L267.92,182.46 L268.65,181.36 L269.38,180.25 L270.11,179.14 L270.83,178.03 L271.54,176.93 L272.26,175.83 L272.97,174.72 L273.68,173.61 L274.39,172.50 L275.09,171.39 L275.78,170.28 L276.48,169.18 L277.18,168.06 L277.87,166.95 L278.56,165.85 L279.24,164.74 L279.93,163.63 L280.61,162.51 L281.29,161.41 L281.96,160.30 L282.63,159.21 L283.30,158.11 L283.96,157.01 L284.61,155.93 L285.27,154.85 L285.92,153.77 L286.56,152.70 L287.21,151.64 L287.85,150.58 L288.48,149.52 L289.12,148.47 L289.75,147.43 L290.38,146.40 L291.01,145.37 L291.64,144.34 L292.27,143.32 L292.89,142.32 L293.51,141.31 L294.14,140.31 L294.76,139.32 L295.38,138.34 L296.00,137.37 L296.62,136.40 L297.24,135.43 L297.86,134.48 L298.48,133.54 L299.09,132.61 L299.72,131.67 L300.34,130.75 L300.96,129.84 L301.58,128.95 L302.20,128.06 L302.83,127.16 L303.46,126.28 L304.07,125.43 L304.69,124.59 L305.32,123.74 L305.95,122.90 L306.59,122.06 L307.21,121.26 L307.83,120.48 L308.46,119.68 L309.10,118.90 L309.74,118.12 L310.37,117.37 L310.99,116.65 L311.63,115.92 L312.27,115.19 L312.92,114.47 L313.56,113.78 L314.18,113.12 L314.81,112.47 L315.46,111.80 L316.12,111.15 L316.77,110.52 L317.40,109.92 L318.02,109.34 L318.67,108.76 L319.32,108.18 L319.98,107.61 L320.64,107.06 L321.26,106.56 L321.87,106.07 L322.53,105.56 L323.19,105.07 L323.85,104.59 L324.50,104.12 L325.11,103.71 L325.73,103.30 L326.39,102.87 L327.06,102.46 L327.72,102.06 L328.35,101.69 L328.96,101.35 L329.60,101.01 L330.27,100.66 L330.94,100.32 L331.61,100.00 L332.23,99.71 L332.87,99.43 L333.57,99.12 L334.29,98.82 L335.02,98.53 L335.69,98.27 L336.37,98.03 L337.12,97.76 L337.89,97.50 L338.66,97.24 L339.37,97.02 L340.09,96.81 L340.88,96.58 L341.68,96.36 L342.47,96.15 L343.21,95.97 L343.98,95.79 L344.80,95.60 L345.63,95.42 L346.41,95.26 L347.17,95.12 L348.00,94.97 L348.84,94.83 L349.67,94.69 L350.45,94.58 L351.25,94.47 L352.10,94.36 L352.96,94.26 L353.77,94.17 L354.55,94.09 L355.40,94.02 L356.27,93.95 L357.11,93.90 L357.89,93.85 L358.71,93.81 L359.58,93.78 L360.44,93.75 L361.24,93.74 L362.02,93.73 L362.88,93.73 L363.74,93.74 L364.57,93.76 L365.35,93.78 L366.16,93.82 L367.01,93.86 L367.86,93.92 L368.63,93.97 L369.40,94.03 L370.23,94.11 L371.07,94.20 L371.87,94.29 L372.62,94.38 L373.39,94.49 L374.20,94.61 L375.01,94.74 L375.76,94.87 L376.48,95.00 L377.24,95.15 L378.02,95.31 L378.80,95.48 L379.51,95.65 L380.19,95.81 L380.93,96.01 L381.68,96.21 L382.43,96.43 L383.13,96.64 L383.81,96.85 L384.54,97.09 L385.29,97.35 L386.04,97.62 L386.76,97.89 L387.44,98.15 L388.16,98.44 L388.90,98.75 L389.65,99.08 L390.38,99.40 L391.07,99.72 L391.77,100.05 L392.52,100.42 L393.26,100.80 L394.00,101.19 L394.71,101.57 L395.40,101.95 L396.13,102.37 L396.87,102.80 L397.61,103.25 L398.33,103.69 L399.02,104.12 L399.73,104.58 L400.47,105.07 L401.20,105.57 L401.93,106.08 L402.62,106.56 L403.32,107.07 L404.05,107.61 L404.77,108.16 L405.50,108.72 L406.19,109.26 L406.88,109.81 L407.59,110.40 L408.31,111.00 L409.03,111.61 L409.72,112.21 L410.40,112.80 L411.10,113.43 L411.81,114.08 L412.51,114.73 L413.20,115.38 L413.86,116.02 L414.55,116.69 L415.24,117.38 L415.93,118.08 L416.61,118.77 L417.26,119.45 L417.93,120.16 L418.61,120.89 L419.29,121.63 L419.94,122.36 L420.59,123.08 L421.24,123.83 L421.90,124.60 L422.56,125.39 L423.21,126.17 L423.85,126.95 L424.50,127.75 L425.15,128.58 L425.80,129.42 L426.45,130.26 L427.08,131.09 L427.73,131.95 L428.37,132.83 L429.02,133.72 L429.66,134.61 L430.29,135.50 L430.92,136.42 L431.56,137.35 L432.20,138.29 L432.82,139.22 L433.45,140.17 L434.08,141.13 L434.71,142.11 L435.33,143.09 L435.95,144.08 L436.57,145.07 L437.19,146.08 L437.81,147.10 L438.43,148.12 L439.05,149.15 L439.66,150.19 L440.27,151.24 L440.89,152.30 L441.50,153.37 L442.11,154.44 L442.72,155.52 L443.33,156.61 L443.94,157.71 L444.55,158.81 L445.16,159.93 L445.77,161.05 L446.39,162.17 L447.00,163.30 L447.61,164.44 L448.23,165.59 L448.85,166.75 L449.47,167.90 L450.09,169.06 L450.72,170.23 L451.35,171.42 L451.99,172.60 L452.63,173.79 L453.27,174.97 L453.92,176.18 L454.58,177.39 L455.25,178.60 L455.91,179.81 L456.58,181.02 L457.27,182.24 L457.97,183.48 L458.68,184.71 L459.38,185.94 L460.10,187.16 L460.83,188.40 L461.58,189.65 L462.33,190.88 L463.07,192.09 L463.82,193.30 L464.58,194.51 L465.35,195.72 L466.13,196.92 L466.90,198.10 L467.67,199.28 L468.46,200.46 L469.26,201.64 L470.06,202.81 L470.86,203.96 L471.66,205.11 L472.47,206.25 L473.29,207.40 L474.12,208.54 L474.94,209.66 L475.76,210.77 L476.59,211.88 L477.44,212.99 L478.29,214.10 L479.13,215.18 L479.97,216.26 L480.82,217.34 L481.69,218.42 L482.56,219.49 L483.42,220.54 L484.28,221.59 L485.15,222.63 L486.03,223.68 L486.91,224.72 L487.79,225.74 L488.67,226.76 L489.55,227.77 L490.44,228.78 L491.34,229.79 L492.22,230.78 L493.11,231.77 L494.01,232.75 L494.91,233.74 L495.81,234.72 L496.71,235.68 L497.60,236.64 L498.50,237.60 L499.41,238.56 L500.32,239.51 L501.22,240.45 L502.12,241.39 L503.03,242.32 L503.94,243.26 L504.84,244.18 L505.75,245.10 L506.65,246.02 L507.55,246.93 L508.46,247.85 L509.37,248.76 L510.27,249.66 L511.17,250.55 L512.07,251.45 L512.97,252.35 L513.88,253.24 L514.77,254.12 L515.67,255.01 L516.57,255.89 L517.46,256.77 L518.35,257.64 L519.24,258.51 L520.13,259.39 L521.02,260.25 L521.90,261.12 L522.79,261.98 L523.67,262.85 L524.55,263.71 L525.42,264.57 L526.30,265.42 L527.17,266.28 L528.04,267.13 L528.90,267.98 L529.76,268.84 L530.62,269.68 L531.48,270.53 L532.33,271.38 L533.18,272.23 L534.03,273.07 L534.87,273.91 L535.71,274.75 L536.55,275.60 L537.38,276.44 L538.21,277.28 L539.03,278.12 L539.85,278.96 L540.67,279.80 L541.49,280.64 L542.29,281.48 L543.09,282.31 L543.89,283.15 L544.69,283.99 L545.48,284.83 L546.27,285.67 L547.05,286.50 L547.82,287.33 L548.59,288.17 L549.37,289.01 L550.13,289.86 L550.93,290.74"/></g><g clip-path="url(#cBelow)" fill="none" stroke="#141414" stroke-width="1.3" stroke-dasharray="6.4 5.2"><path d="M199.74,294.27 L200.46,293.77 L201.19,293.26 L201.92,292.75 L202.65,292.25 L203.38,291.74 L204.11,291.24 L204.84,290.73 L205.57,290.23 L206.30,289.74 L207.03,289.24 L207.76,288.74 L208.49,288.24 L209.22,287.75 L209.95,287.25 L210.68,286.76 L211.41,286.27 L212.14,285.78 L212.87,285.28 L213.60,284.79 L214.33,284.30 L215.06,283.81 L215.78,283.32 L216.51,282.83 L217.24,282.34 L217.97,281.85 L218.69,281.36 L219.42,280.87 L220.14,280.38 L220.86,279.89 L221.59,279.40 L222.31,278.91 L223.03,278.42 L223.75,277.93 L224.47,277.44 L225.18,276.94 L225.90,276.45 L226.62,275.96 L227.33,275.46 L228.05,274.96 L228.76,274.47 L229.47,273.97 L230.18,273.47 L230.88,272.97 L231.59,272.47 L232.29,271.97 L233.00,271.47 L233.70,270.96 L234.40,270.45 L235.10,269.95 L235.79,269.44 L236.48,268.93 L237.18,268.41 L237.87,267.90 L238.56,267.38 L239.24,266.87 L239.92,266.35 L240.61,265.82 L241.29,265.30 L241.97,264.77 L242.64,264.25 L243.31,263.72 L243.98,263.19 L244.65,262.65 L245.31,262.11 L245.97,261.58 L246.63,261.03 L247.29,260.49 L247.94,259.94 L248.59,259.39 L249.24,258.84 L249.88,258.29 L250.52,257.73 L251.16,257.17 L251.80,256.60 L252.43,256.04 L253.05,255.47 L253.68,254.89 L254.31,254.32 L254.93,253.73 L255.55,253.15 L256.16,252.57 L256.77,251.98 L257.38,251.38 L257.99,250.79 L258.60,250.19 L259.20,249.59 L259.79,248.98 L260.39,248.38 L260.98,247.76 L261.58,247.15 L262.16,246.54 L262.75,245.92 L263.33,245.29 L263.91,244.67 L264.49,244.04 L265.06,243.41 L265.63,242.78 L266.20,242.14 L266.77,241.50 L267.33,240.86 L267.90,240.22 L268.45,239.58 L269.01,238.93 L269.56,238.28 L270.11,237.62 L270.66,236.96 L271.21,236.31 L271.75,235.65 L272.29,234.98 L272.83,234.32 L273.37,233.65 L273.90,232.98 L274.43,232.31 L274.95,231.63 L275.48,230.95 L276.00,230.27 L276.52,229.59 L277.04,228.91 L277.56,228.23 L278.07,227.54 L278.58,226.85 L279.09,226.15 L279.60,225.46 L280.10,224.77 L280.60,224.07 L281.10,223.37 L281.60,222.66 L282.09,221.96 L282.58,221.26 L283.07,220.55 L283.56,219.84 L284.04,219.13 L284.52,218.42 L285.01,217.70 L285.48,216.98 L285.96,216.26 L286.43,215.54 L286.90,214.82 L287.37,214.10 L287.84,213.37 L288.31,212.65 L288.77,211.92 L289.23,211.19 L289.69,210.46 L290.14,209.72 L290.60,208.99 L291.05,208.25 L291.50,207.52 L291.95,206.77 L292.40,206.03 L292.84,205.29 L293.29,204.54 L293.73,203.79 L294.18,203.04 L294.62,202.28 L295.07,201.53 L295.51,200.77 L295.96,200.01 L296.41,199.25 L296.85,198.49 L297.30,197.73 L297.75,196.96 L298.20,196.20 L298.65,195.43 L299.11,194.66 L299.56,193.89 L300.02,193.12 L300.48,192.35 L300.94,191.58 L301.41,190.81 L301.88,190.04 L302.35,189.26 L302.83,188.49 L303.31,187.72 L303.79,186.95 L304.28,186.18 L304.77,185.41 L305.27,184.64 L305.78,183.86 L306.29,183.09 L306.80,182.33 L307.32,181.56 L307.84,180.80 L308.38,180.03 L308.92,179.26 L309.47,178.51 L310.02,177.75 L310.58,177.00 L311.15,176.24 L311.73,175.49 L312.31,174.74 L312.90,174.00 L313.51,173.26 L314.13,172.52 L314.75,171.78 L315.38,171.06 L316.01,170.34 L316.67,169.62 L317.33,168.90 L318.01,168.19 L318.69,167.50 L319.38,166.81 L320.08,166.12 L320.80,165.43 L321.53,164.76 L322.27,164.10 L323.01,163.45 L323.77,162.81 L324.55,162.17 L325.33,161.55 L326.11,160.94 L326.90,160.34 L327.71,159.75 L328.53,159.17 L329.35,158.60 L330.17,158.06 L331.00,157.52 L331.86,156.98 L332.72,156.46 L333.58,155.96 L334.44,155.47 L335.31,154.99 L336.21,154.51 L337.11,154.05 L338.00,153.62 L338.90,153.19 L339.81,152.77 L340.75,152.36 L341.68,151.97 L342.61,151.60 L343.54,151.24 L344.49,150.89 L345.46,150.56 L346.43,150.24 L347.39,149.94 L348.36,149.65 L349.34,149.38 L350.34,149.12 L351.34,148.88 L352.33,148.66 L353.33,148.46 L354.33,148.27 L355.36,148.09 L356.39,147.94 L357.41,147.81 L358.43,147.69 L359.46,147.59 L360.50,147.51 L361.56,147.45 L362.61,147.41 L363.65,147.39 L364.70,147.40 L365.74,147.42 L366.81,147.46 L367.88,147.53 L368.94,147.62 L369.99,147.73 L371.04,147.87 L372.10,148.02 L373.16,148.20 L374.23,148.41 L375.28,148.65 L376.33,148.90 L377.37,149.18 L378.40,149.48 L379.43,149.81 L380.48,150.17 L381.51,150.56 L382.50,150.96 L383.49,151.38 L384.46,151.82 L385.41,152.28 L386.37,152.77 L387.31,153.28 L388.22,153.79 L389.11,154.32 L389.99,154.86 L390.85,155.42 L391.72,156.00 L392.57,156.59 L393.39,157.18 L394.19,157.79 L394.99,158.40 L395.77,159.02 L396.55,159.66 L397.31,160.31 L398.05,160.96 L398.78,161.61 L399.50,162.27 L400.22,162.95 L400.92,163.63 L401.60,164.31 L402.28,164.99 L402.95,165.68 L403.62,166.39 L404.26,167.09 L404.90,167.79 L405.53,168.49 L406.16,169.21 L406.78,169.92 L407.39,170.64 L407.99,171.35 L408.59,172.08 L409.18,172.81 L409.76,173.53 L410.33,174.26 L410.90,174.99 L411.47,175.73 L412.03,176.46 L412.58,177.19 L413.13,177.93 L413.67,178.67 L414.21,179.41 L414.75,180.15 L415.28,180.89 L415.81,181.63 L416.33,182.37 L416.85,183.11 L417.37,183.86 L417.88,184.60 L418.39,185.34 L418.90,186.09 L419.40,186.83 L419.91,187.57 L420.41,188.32 L420.91,189.06 L421.41,189.80 L421.90,190.55 L422.40,191.29 L422.89,192.04 L423.38,192.78 L423.87,193.53 L424.36,194.28 L424.85,195.02 L425.34,195.77 L425.82,196.51 L426.31,197.26 L426.79,198.00 L427.27,198.75 L427.75,199.49 L428.24,200.24 L428.72,200.98 L429.20,201.73 L429.67,202.47 L430.15,203.22 L430.63,203.96 L431.11,204.70 L431.58,205.45 L432.06,206.19 L432.54,206.93 L433.01,207.67 L433.49,208.41 L433.97,209.15 L434.44,209.89 L434.92,210.63 L435.39,211.36 L435.87,212.10 L436.35,212.83 L436.82,213.57 L437.30,214.30 L437.78,215.03 L438.26,215.76 L438.74,216.49 L439.22,217.22 L439.70,217.95 L440.18,218.67 L440.66,219.40 L441.14,220.12 L441.63,220.84 L442.11,221.56 L442.60,222.28 L443.09,223.00 L443.58,223.72 L444.07,224.43 L444.56,225.14 L445.05,225.85 L445.54,226.56 L446.04,227.27 L446.54,227.97 L447.04,228.67 L447.54,229.38 L448.04,230.08 L448.55,230.77 L449.05,231.47 L449.56,232.16 L450.07,232.85 L450.59,233.54 L451.10,234.22 L451.62,234.91 L452.14,235.59 L452.66,236.27 L453.19,236.94 L453.71,237.62 L454.24,238.29 L454.78,238.96 L455.31,239.63 L455.85,240.30 L456.39,240.96 L456.93,241.63 L457.48,242.28 L458.02,242.94 L458.57,243.60 L459.13,244.25 L459.68,244.90 L460.24,245.55 L460.80,246.20 L461.36,246.84 L461.93,247.48 L462.50,248.13 L463.07,248.76 L463.64,249.40 L464.22,250.03 L464.79,250.66 L465.38,251.29 L465.96,251.91 L466.54,252.53 L467.13,253.16 L467.72,253.78 L468.31,254.39 L468.91,255.00 L469.50,255.61 L470.10,256.22 L470.71,256.83 L471.31,257.43 L471.92,258.03 L472.53,258.63 L473.14,259.22 L473.76,259.82 L474.37,260.41 L474.99,260.99 L475.61,261.58 L476.24,262.16 L476.87,262.74 L477.50,263.31 L478.12,263.89 L478.76,264.45 L479.40,265.02 L480.04,265.59 L480.68,266.15 L481.32,266.71 L481.96,267.26 L482.61,267.81 L483.27,268.36 L483.92,268.91 L484.57,269.45 L485.23,269.99 L485.89,270.53 L486.56,271.06 L487.22,271.59 L487.89,272.12 L488.56,272.64 L489.23,273.16 L489.91,273.68 L490.58,274.19 L491.26,274.70 L491.94,275.21 L492.63,275.71 L493.32,276.21 L494.00,276.71 L494.69,277.20 L495.39,277.69 L496.09,278.17 L496.79,278.65 L497.49,279.13 L498.19,279.60 L498.89,280.07 L499.60,280.54 L500.31,281.00 L501.02,281.46 L501.74,281.91 L502.46,282.37 L503.18,282.81 L503.90,283.26 L504.62,283.69 L505.34,284.13 L506.07,284.56 L506.81,284.98 L507.54,285.41 L508.27,285.82 L509.01,286.23 L509.75,286.64 L510.49,287.05 L511.24,287.45 L511.98,287.84 L512.72,288.23 L513.48,288.62 L514.23,289.00 L514.99,289.38 L515.74,289.75 L516.49,290.12 L517.26,290.48 L518.02,290.84 L518.79,291.20 L519.55,291.54 L520.32,291.88 L521.09,292.22 L521.86,292.56 L522.64,292.89 L523.43,293.22"/><path d="M194.22,286.42 L194.95,285.90 L195.69,285.38 L196.44,284.87 L197.18,284.35 L197.92,283.84 L198.66,283.33 L199.41,282.82 L200.14,282.31 L200.88,281.81 L201.62,281.30 L202.36,280.80 L203.10,280.30 L203.84,279.80 L204.57,279.30 L205.31,278.81 L206.04,278.31 L206.77,277.82 L207.51,277.32 L208.24,276.83 L208.97,276.34 L209.69,275.85 L210.42,275.36 L211.15,274.87 L211.87,274.38 L212.60,273.89 L213.32,273.41 L214.04,272.92 L214.76,272.43 L215.48,271.95 L216.19,271.46 L216.90,270.98 L217.62,270.49 L218.33,270.00 L219.04,269.52 L219.75,269.03 L220.45,268.55 L221.15,268.06 L221.86,267.57 L222.56,267.09 L223.26,266.60 L223.95,266.11 L224.64,265.63 L225.34,265.14 L226.03,264.65 L226.71,264.16 L227.39,263.67 L228.08,263.18 L228.76,262.68 L229.44,262.19 L230.11,261.70 L230.78,261.20 L231.45,260.71 L232.12,260.21 L232.79,259.71 L233.45,259.21 L234.10,258.71 L234.76,258.21 L235.42,257.71 L236.07,257.20 L236.71,256.70 L237.35,256.19 L237.99,255.68 L238.63,255.17 L239.27,254.66 L239.89,254.15 L240.52,253.63 L241.14,253.11 L241.77,252.59 L242.38,252.07 L242.99,251.55 L243.60,251.03 L244.20,250.50 L244.81,249.97 L245.41,249.44 L246.00,248.91 L246.59,248.37 L247.18,247.83 L247.78,247.28 L248.37,246.73 L248.95,246.18 L249.52,245.63 L250.10,245.07 L250.68,244.51 L251.26,243.94 L251.83,243.38 L252.40,242.81 L252.96,242.24 L253.53,241.66 L254.10,241.08 L254.66,240.50 L255.22,239.92 L255.77,239.33 L256.32,238.74 L256.88,238.14 L257.43,237.55 L257.97,236.95 L258.51,236.35 L259.06,235.75 L259.60,235.13 L260.14,234.52 L260.67,233.91 L261.20,233.30 L261.73,232.68 L262.26,232.06 L262.79,231.43 L263.32,230.80 L263.84,230.18 L264.35,229.55 L264.87,228.91 L265.39,228.27 L265.90,227.63 L266.41,226.99 L266.92,226.35 L267.43,225.70 L267.93,225.05 L268.44,224.40 L268.94,223.75 L269.43,223.09 L269.93,222.43 L270.43,221.77 L270.92,221.10 L271.41,220.44 L271.90,219.78 L272.38,219.11 L272.87,218.43 L273.35,217.75 L273.83,217.08 L274.31,216.40 L274.79,215.72 L275.26,215.04 L275.74,214.35 L276.21,213.66 L276.67,212.98 L277.14,212.29 L277.61,211.59 L278.07,210.89 L278.53,210.20 L278.99,209.50 L279.45,208.80 L279.91,208.09 L280.36,207.39 L280.81,206.68 L281.26,205.98 L281.71,205.26 L282.16,204.55 L282.61,203.83 L283.05,203.12 L283.49,202.41 L283.93,201.68 L284.38,200.95 L284.82,200.22 L285.26,199.49 L285.70,198.75 L286.15,198.01 L286.60,197.26 L287.04,196.51 L287.49,195.76 L287.95,195.00 L288.40,194.24 L288.85,193.47 L289.31,192.70 L289.77,191.93 L290.24,191.16 L290.70,190.38 L291.17,189.60 L291.65,188.81 L292.12,188.03 L292.60,187.24 L293.09,186.45 L293.58,185.65 L294.07,184.86 L294.57,184.06 L295.07,183.27 L295.58,182.46 L296.10,181.65 L296.62,180.85 L297.15,180.05 L297.68,179.25 L298.23,178.43 L298.78,177.61 L299.33,176.81 L299.89,176.00 L300.46,175.19 L301.05,174.37 L301.64,173.56 L302.24,172.75 L302.84,171.95 L303.46,171.14 L304.09,170.32 L304.73,169.51 L305.38,168.71 L306.03,167.91 L306.70,167.11 L307.40,166.30 L308.09,165.50 L308.79,164.72 L309.50,163.94 L310.24,163.15 L311.00,162.35 L311.76,161.58 L312.52,160.82 L313.29,160.07 L314.09,159.30 L314.92,158.54 L315.75,157.80 L316.58,157.08 L317.42,156.36 L318.29,155.64 L319.18,154.93 L320.07,154.24 L320.95,153.57 L321.84,152.92 L322.76,152.26 L323.70,151.61 L324.63,150.99 L325.55,150.39 L326.48,149.80 L327.46,149.21 L328.44,148.63 L329.40,148.08 L330.37,147.54 L331.35,147.02 L332.37,146.49 L333.39,145.98 L334.39,145.50 L335.39,145.04 L336.42,144.58 L337.48,144.13 L338.54,143.70 L339.58,143.29 L340.63,142.89 L341.70,142.51 L342.80,142.13 L343.90,141.78 L344.98,141.45 L346.06,141.14 L347.17,140.83 L348.32,140.54 L349.46,140.28 L350.58,140.03 L351.70,139.80 L352.84,139.59 L354.02,139.39 L355.21,139.22 L356.37,139.07 L357.53,138.94 L358.70,138.82 L359.90,138.73 L361.13,138.66 L362.33,138.61 L363.53,138.59 L364.73,138.59 L365.94,138.61 L367.18,138.66 L368.44,138.74 L369.67,138.84 L370.89,138.96 L372.11,139.11 L373.34,139.29 L374.59,139.49 L375.86,139.73 L377.11,140.00 L378.34,140.29 L379.56,140.61 L380.79,140.96 L382.01,141.34 L383.26,141.76 L384.50,142.21 L385.68,142.67 L386.84,143.15 L387.98,143.66 L389.10,144.19 L390.23,144.75 L391.35,145.33 L392.42,145.92 L393.46,146.52 L394.48,147.13 L395.47,147.75 L396.48,148.41 L397.47,149.08 L398.41,149.75 L399.33,150.42 L400.24,151.10 L401.13,151.79 L402.03,152.51 L402.90,153.22 L403.73,153.93 L404.55,154.65 L405.36,155.38 L406.18,156.12 L406.96,156.86 L407.72,157.60 L408.47,158.33 L409.22,159.09 L409.97,159.85 L410.68,160.60 L411.38,161.35 L412.08,162.11 L412.77,162.88 L413.45,163.65 L414.11,164.40 L414.76,165.16 L415.42,165.93 L416.07,166.71 L416.69,167.47 L417.31,168.23 L417.93,169.01 L418.54,169.78 L419.14,170.55 L419.73,171.31 L420.32,172.08 L420.91,172.86 L421.48,173.63 L422.04,174.39 L422.61,175.16 L423.17,175.93 L423.73,176.70 L424.27,177.46 L424.81,178.23 L425.36,179.00 L425.89,179.76 L426.42,180.52 L426.95,181.28 L427.48,182.04 L428.00,182.80 L428.52,183.56 L429.03,184.31 L429.55,185.07 L430.06,185.84 L430.57,186.59 L431.08,187.35 L431.59,188.11 L432.09,188.87 L432.60,189.62 L433.10,190.38 L433.60,191.13 L434.10,191.89 L434.59,192.65 L435.09,193.40 L435.58,194.15 L436.07,194.91 L436.56,195.66 L437.05,196.41 L437.54,197.16 L438.03,197.91 L438.51,198.66 L439.00,199.40 L439.48,200.15 L439.97,200.89 L440.45,201.64 L440.93,202.38 L441.41,203.12 L441.89,203.86 L442.37,204.59 L442.85,205.33 L443.32,206.06 L443.80,206.80 L444.28,207.53 L444.75,208.25 L445.23,208.98 L445.71,209.71 L446.18,210.43 L446.66,211.15 L447.14,211.87 L447.61,212.59 L448.09,213.30 L448.57,214.02 L449.04,214.73 L449.52,215.43 L450.00,216.14 L450.48,216.85 L450.95,217.55 L451.43,218.25 L451.91,218.94 L452.39,219.64 L452.88,220.33 L453.36,221.02 L453.84,221.71 L454.33,222.39 L454.81,223.07 L455.30,223.75 L455.78,224.43 L456.27,225.10 L456.76,225.77 L457.25,226.44 L457.75,227.10 L458.24,227.76 L458.74,228.43 L459.24,229.08 L459.73,229.73 L460.23,230.38 L460.74,231.03 L461.24,231.68 L461.75,232.33 L462.26,232.97 L462.77,233.60 L463.29,234.24 L463.81,234.88 L464.33,235.52 L464.85,236.15 L465.37,236.77 L465.90,237.40 L466.43,238.03 L466.97,238.65 L467.50,239.27 L468.03,239.89 L468.57,240.50 L469.11,241.12 L469.66,241.73 L470.20,242.34 L470.75,242.94 L471.30,243.55 L471.85,244.16 L472.41,244.76 L472.96,245.35 L473.52,245.94 L474.08,246.54 L474.65,247.13 L475.21,247.72 L475.78,248.30 L476.34,248.88 L476.92,249.46 L477.50,250.04 L478.08,250.62 L478.65,251.19 L479.23,251.75 L479.81,252.32 L480.40,252.89 L480.99,253.45 L481.58,254.01 L482.17,254.56 L482.76,255.12 L483.36,255.67 L483.96,256.22 L484.56,256.76 L485.16,257.30 L485.77,257.84 L486.38,258.38 L486.98,258.91 L487.59,259.44 L488.20,259.96 L488.82,260.49 L489.44,261.01 L490.06,261.53 L490.67,262.04 L491.30,262.55 L491.93,263.06 L492.56,263.57 L493.19,264.07 L493.81,264.56 L494.45,265.06 L495.09,265.55 L495.73,266.05 L496.36,266.53 L497.00,267.00 L497.65,267.48 L498.30,267.96 L498.95,268.44 L499.59,268.90 L500.24,269.36 L500.90,269.82 L501.56,270.28 L502.22,270.74 L502.87,271.18 L503.53,271.63 L504.19,272.07 L504.86,272.51 L505.53,272.95 L506.20,273.37 L506.86,273.80 L507.54,274.22 L508.22,274.64 L508.90,275.06 L509.57,275.47 L510.24,275.87 L510.93,276.28 L511.62,276.68 L512.31,277.07 L512.99,277.46 L513.67,277.84 L514.37,278.23 L515.06,278.61 L515.76,278.98 L516.45,279.35 L517.14,279.71 L517.85,280.07 L518.55,280.43 L519.26,280.78 L519.95,281.13 L520.65,281.46 L521.36,281.80 L522.08,282.14 L522.79,282.47 L523.50,282.79 L524.20,283.11 L524.92,283.42 L525.64,283.74 L526.37,284.04 L527.14,284.36"/><path d="M189.11,279.13 L189.85,278.61 L190.60,278.09 L191.36,277.56 L192.11,277.04 L192.87,276.52 L193.62,276.00 L194.37,275.48 L195.12,274.97 L195.87,274.46 L196.61,273.95 L197.36,273.44 L198.10,272.93 L198.85,272.43 L199.59,271.93 L200.33,271.43 L201.06,270.93 L201.80,270.44 L202.53,269.94 L203.26,269.45 L204.00,268.96 L204.72,268.47 L205.45,267.98 L206.18,267.49 L206.90,267.00 L207.62,266.52 L208.34,266.03 L209.05,265.55 L209.77,265.06 L210.48,264.58 L211.19,264.10 L211.90,263.62 L212.60,263.14 L213.31,262.66 L214.01,262.18 L214.70,261.70 L215.40,261.22 L216.09,260.74 L216.78,260.26 L217.47,259.78 L218.16,259.31 L218.83,258.83 L219.52,258.35 L220.20,257.87 L220.87,257.39 L221.54,256.92 L222.20,256.44 L222.87,255.96 L223.54,255.48 L224.20,255.00 L224.85,254.52 L225.50,254.04 L226.15,253.56 L226.80,253.08 L227.44,252.59 L228.07,252.12 L228.71,251.64 L229.34,251.15 L229.97,250.66 L230.60,250.18 L231.21,249.70 L231.83,249.21 L232.44,248.72 L233.06,248.23 L233.66,247.74 L234.26,247.26 L234.85,246.77 L235.45,246.27 L236.04,245.78 L236.63,245.28 L237.20,244.79 L237.77,244.30 L238.34,243.80 L238.91,243.30 L239.48,242.79 L240.04,242.29 L240.59,241.79 L241.16,241.27 L241.72,240.75 L242.28,240.23 L242.83,239.71 L243.37,239.20 L243.92,238.67 L244.47,238.13 L245.02,237.59 L245.56,237.06 L246.09,236.52 L246.63,235.98 L247.17,235.43 L247.70,234.88 L248.24,234.32 L248.76,233.77 L249.28,233.22 L249.81,232.65 L250.34,232.08 L250.87,231.51 L251.38,230.94 L251.90,230.37 L252.41,229.80 L252.93,229.21 L253.44,228.62 L253.95,228.04 L254.46,227.46 L254.96,226.87 L255.47,226.27 L255.97,225.67 L256.48,225.06 L256.97,224.47 L257.46,223.87 L257.96,223.25 L258.45,222.64 L258.95,222.02 L259.43,221.41 L259.91,220.79 L260.40,220.17 L260.88,219.54 L261.37,218.91 L261.85,218.28 L262.32,217.65 L262.79,217.01 L263.27,216.37 L263.74,215.72 L264.21,215.08 L264.68,214.44 L265.14,213.79 L265.61,213.14 L266.07,212.48 L266.53,211.82 L266.99,211.17 L267.44,210.51 L267.90,209.84 L268.36,209.17 L268.81,208.50 L269.25,207.84 L269.70,207.16 L270.15,206.48 L270.59,205.80 L271.03,205.12 L271.47,204.44 L271.91,203.76 L272.35,203.06 L272.78,202.37 L273.21,201.68 L273.64,200.99 L274.07,200.29 L274.50,199.59 L274.93,198.88 L275.35,198.19 L275.77,197.48 L276.19,196.77 L276.62,196.04 L277.04,195.32 L277.47,194.59 L277.90,193.85 L278.33,193.11 L278.76,192.36 L279.20,191.60 L279.63,190.84 L280.08,190.07 L280.52,189.30 L280.96,188.52 L281.41,187.73 L281.87,186.94 L282.32,186.15 L282.78,185.35 L283.25,184.54 L283.72,183.73 L284.20,182.91 L284.67,182.10 L285.16,181.27 L285.65,180.44 L286.15,179.60 L286.65,178.77 L287.15,177.93 L287.67,177.08 L288.20,176.21 L288.73,175.36 L289.27,174.51 L289.81,173.65 L290.37,172.77 L290.94,171.89 L291.51,171.03 L292.09,170.16 L292.68,169.29 L293.29,168.39 L293.91,167.50 L294.53,166.62 L295.16,165.74 L295.81,164.85 L296.49,163.94 L297.17,163.05 L297.85,162.17 L298.54,161.29 L299.26,160.39 L300.01,159.48 L300.76,158.59 L301.52,157.71 L302.28,156.83 L303.08,155.94 L303.91,155.04 L304.74,154.16 L305.57,153.30 L306.42,152.45 L307.30,151.58 L308.23,150.70 L309.14,149.85 L310.06,149.02 L310.99,148.20 L311.96,147.37 L312.97,146.54 L313.95,145.74 L314.93,144.98 L315.92,144.23 L316.95,143.47 L318.02,142.71 L319.05,142.00 L320.07,141.31 L321.11,140.63 L322.21,139.94 L323.32,139.26 L324.39,138.63 L325.47,138.01 L326.56,137.41 L327.72,136.79 L328.88,136.20 L330.00,135.65 L331.12,135.11 L332.28,134.58 L333.49,134.05 L334.69,133.54 L335.86,133.07 L337.04,132.62 L338.25,132.17 L339.52,131.73 L340.77,131.31 L341.99,130.93 L343.22,130.57 L344.49,130.21 L345.81,129.87 L347.11,129.56 L348.39,129.27 L349.68,129.01 L350.98,128.76 L352.35,128.53 L353.73,128.32 L355.06,128.15 L356.40,127.99 L357.75,127.86 L359.15,127.76 L360.58,127.68 L361.99,127.62 L363.38,127.60 L364.77,127.60 L366.18,127.63 L367.64,127.69 L369.13,127.79 L370.57,127.91 L372.01,128.06 L373.44,128.25 L374.89,128.46 L376.37,128.71 L377.88,129.01 L379.36,129.33 L380.82,129.69 L382.26,130.08 L383.71,130.50 L385.16,130.96 L386.66,131.48 L388.14,132.03 L389.54,132.59 L390.91,133.17 L392.25,133.79 L393.56,134.42 L394.89,135.09 L396.20,135.80 L397.44,136.50 L398.64,137.21 L399.81,137.93 L400.95,138.67 L402.11,139.44 L403.25,140.24 L404.32,141.01 L405.35,141.79 L406.36,142.58 L407.37,143.39 L408.38,144.22 L409.34,145.04 L410.26,145.85 L411.16,146.67 L412.06,147.50 L412.95,148.35 L413.81,149.19 L414.63,150.01 L415.44,150.84 L416.26,151.69 L417.06,152.55 L417.82,153.38 L418.57,154.21 L419.31,155.05 L420.05,155.91 L420.77,156.76 L421.46,157.58 L422.14,158.41 L422.83,159.26 L423.51,160.12 L424.16,160.94 L424.80,161.76 L425.44,162.60 L426.08,163.45 L426.69,164.27 L427.29,165.09 L427.90,165.92 L428.50,166.75 L429.09,167.57 L429.66,168.38 L430.24,169.20 L430.81,170.02 L431.37,170.84 L431.92,171.64 L432.47,172.44 L433.02,173.25 L433.55,174.06 L434.08,174.85 L434.61,175.64 L435.14,176.44 L435.66,177.23 L436.17,178.02 L436.69,178.80 L437.20,179.59 L437.72,180.38 L438.23,181.17 L438.73,181.95 L439.23,182.73 L439.74,183.52 L440.24,184.30 L440.74,185.08 L441.23,185.85 L441.73,186.63 L442.22,187.41 L442.72,188.18 L443.20,188.95 L443.69,189.72 L444.18,190.49 L444.67,191.26 L445.15,192.02 L445.63,192.78 L446.11,193.54 L446.59,194.30 L447.07,195.06 L447.55,195.81 L448.02,196.56 L448.50,197.31 L448.97,198.06 L449.45,198.81 L449.92,199.55 L450.39,200.29 L450.86,201.03 L451.33,201.76 L451.80,202.49 L452.27,203.22 L452.74,203.95 L453.20,204.67 L453.67,205.39 L454.14,206.11 L454.60,206.82 L455.07,207.54 L455.54,208.25 L456.00,208.96 L456.47,209.66 L456.93,210.35 L457.40,211.05 L457.86,211.75 L458.33,212.44 L458.80,213.13 L459.26,213.81 L459.73,214.49 L460.20,215.16 L460.66,215.84 L461.13,216.51 L461.60,217.18 L462.07,217.84 L462.54,218.50 L463.01,219.16 L463.48,219.81 L463.95,220.46 L464.42,221.10 L464.89,221.74 L465.37,222.39 L465.85,223.02 L466.33,223.66 L466.80,224.28 L467.28,224.90 L467.76,225.53 L468.25,226.15 L468.74,226.78 L469.22,227.39 L469.71,228.00 L470.20,228.61 L470.70,229.23 L471.20,229.84 L471.70,230.44 L472.20,231.04 L472.70,231.64 L473.21,232.25 L473.73,232.85 L474.23,233.44 L474.74,234.03 L475.26,234.62 L475.78,235.21 L476.30,235.80 L476.82,236.38 L477.34,236.96 L477.87,237.54 L478.40,238.12 L478.93,238.70 L479.46,239.27 L479.99,239.83 L480.53,240.40 L481.07,240.97 L481.62,241.53 L482.15,242.09 L482.69,242.64 L483.24,243.19 L483.79,243.75 L484.35,244.30 L484.89,244.84 L485.44,245.38 L486.00,245.92 L486.57,246.47 L487.13,247.01 L487.68,247.53 L488.24,248.06 L488.81,248.59 L489.39,249.12 L489.96,249.64 L490.52,250.15 L491.09,250.66 L491.67,251.18 L492.25,251.69 L492.83,252.20 L493.40,252.70 L493.98,253.20 L494.57,253.70 L495.17,254.20 L495.75,254.69 L496.33,255.17 L496.92,255.65 L497.52,256.14 L498.12,256.62 L498.72,257.10 L499.30,257.56 L499.91,258.03 L500.52,258.50 L501.13,258.97 L501.72,259.42 L502.32,259.87 L502.93,260.32 L503.55,260.78 L504.17,261.23 L504.77,261.66 L505.38,262.09 L506.00,262.53 L506.63,262.97 L507.25,263.40 L507.86,263.82 L508.48,264.23 L509.11,264.65 L509.74,265.07 L510.37,265.48 L510.99,265.88 L511.61,266.27 L512.25,266.67 L512.89,267.07 L513.53,267.46 L514.16,267.84 L514.79,268.22 L515.43,268.60 L516.08,268.98 L516.73,269.35 L517.36,269.71 L518.00,270.06 L518.65,270.43 L519.30,270.78 L519.96,271.13 L520.59,271.47 L521.24,271.81 L521.90,272.15 L522.56,272.48 L523.22,272.81 L523.86,273.13 L524.51,273.44 L525.17,273.76 L525.84,274.07 L526.51,274.38 L527.16,274.68 L527.81,274.97 L528.48,275.26 L529.15,275.55 L529.83,275.84 L530.57,276.15"/><path d="M183.83,271.60 L184.57,271.08 L185.34,270.54 L186.11,270.01 L186.87,269.48 L187.64,268.94 L188.41,268.42 L189.17,267.89 L189.92,267.37 L190.68,266.86 L191.43,266.34 L192.19,265.83 L192.94,265.32 L193.69,264.81 L194.43,264.31 L195.18,263.81 L195.92,263.31 L196.66,262.81 L197.39,262.31 L198.13,261.82 L198.86,261.33 L199.59,260.83 L200.31,260.35 L201.03,259.86 L201.76,259.37 L202.47,258.89 L203.19,258.41 L203.90,257.93 L204.61,257.45 L205.32,256.97 L206.02,256.49 L206.72,256.01 L207.42,255.54 L208.11,255.06 L208.81,254.59 L209.49,254.12 L210.17,253.65 L210.86,253.18 L211.54,252.70 L212.22,252.23 L212.88,251.77 L213.55,251.30 L214.22,250.83 L214.88,250.36 L215.54,249.89 L216.19,249.43 L216.84,248.97 L217.49,248.50 L218.13,248.03 L218.78,247.56 L219.40,247.10 L220.03,246.64 L220.66,246.17 L221.29,245.71 L221.91,245.24 L222.52,244.78 L223.13,244.32 L223.74,243.85 L224.35,243.38 L224.95,242.92 L225.53,242.46 L226.11,242.00 L226.70,241.53 L227.29,241.06 L227.87,240.59 L228.43,240.14 L228.99,239.68 L229.56,239.21 L230.12,238.73 L230.68,238.26 L231.21,237.81 L231.74,237.35 L232.28,236.87 L232.82,236.40 L233.36,235.92 L233.88,235.45 L234.40,234.99 L234.93,234.50 L235.46,234.01 L235.98,233.52 L236.50,233.03 L237.01,232.54 L237.52,232.05 L238.04,231.54 L238.56,231.03 L239.07,230.52 L239.57,230.02 L240.07,229.51 L240.59,228.99 L241.10,228.46 L241.60,227.93 L242.09,227.42 L242.58,226.90 L243.09,226.36 L243.59,225.82 L244.09,225.27 L244.57,224.73 L245.06,224.20 L245.55,223.65 L246.04,223.09 L246.53,222.53 L247.01,221.97 L247.49,221.42 L247.96,220.86 L248.45,220.29 L248.93,219.71 L249.41,219.13 L249.87,218.57 L250.34,218.00 L250.81,217.41 L251.29,216.82 L251.76,216.22 L252.22,215.64 L252.67,215.05 L253.14,214.45 L253.60,213.84 L254.07,213.23 L254.52,212.63 L254.97,212.03 L255.42,211.42 L255.88,210.80 L256.33,210.17 L256.78,209.55 L257.22,208.94 L257.67,208.31 L258.11,207.67 L258.56,207.04 L259.00,206.40 L259.43,205.77 L259.87,205.13 L260.31,204.48 L260.74,203.83 L261.17,203.18 L261.60,202.53 L262.02,201.88 L262.45,201.21 L262.88,200.55 L263.30,199.89 L263.72,199.23 L264.14,198.56 L264.56,197.88 L264.98,197.20 L265.39,196.53 L265.79,195.86 L266.21,195.17 L266.62,194.48 L267.03,193.79 L267.43,193.11 L267.83,192.41 L268.23,191.71 L268.64,191.00 L269.05,190.28 L269.46,189.56 L269.87,188.82 L270.29,188.08 L270.71,187.32 L271.14,186.56 L271.56,185.80 L272.00,185.02 L272.43,184.24 L272.87,183.44 L273.31,182.64 L273.76,181.83 L274.21,181.02 L274.67,180.20 L275.13,179.37 L275.61,178.52 L276.08,177.68 L276.56,176.83 L277.04,175.98 L277.54,175.10 L278.05,174.22 L278.55,173.35 L279.06,172.47 L279.59,171.58 L280.14,170.66 L280.68,169.76 L281.22,168.86 L281.78,167.95 L282.36,167.01 L282.96,166.06 L283.54,165.14 L284.14,164.21 L284.75,163.27 L285.40,162.30 L286.05,161.33 L286.70,160.39 L287.36,159.44 L288.05,158.47 L288.77,157.47 L289.49,156.49 L290.21,155.53 L290.95,154.57 L291.72,153.58 L292.53,152.57 L293.34,151.58 L294.15,150.61 L294.97,149.65 L295.84,148.65 L296.75,147.64 L297.65,146.66 L298.55,145.70 L299.47,144.75 L300.45,143.77 L301.47,142.78 L302.48,141.82 L303.48,140.89 L304.50,139.97 L305.58,139.03 L306.70,138.08 L307.80,137.19 L308.87,136.33 L309.96,135.48 L311.11,134.62 L312.29,133.76 L313.44,132.95 L314.57,132.17 L315.71,131.41 L316.94,130.62 L318.18,129.85 L319.36,129.14 L320.55,128.44 L321.76,127.76 L323.06,127.06 L324.35,126.38 L325.59,125.76 L326.84,125.15 L328.13,124.55 L329.49,123.94 L330.83,123.37 L332.13,122.84 L333.44,122.32 L334.80,121.81 L336.23,121.31 L337.63,120.84 L339.00,120.40 L340.38,119.99 L341.80,119.59 L343.29,119.19 L344.77,118.83 L346.20,118.51 L347.65,118.21 L349.12,117.93 L350.68,117.66 L352.25,117.42 L353.76,117.23 L355.27,117.05 L356.80,116.91 L358.40,116.78 L360.04,116.69 L361.65,116.63 L363.23,116.61 L364.82,116.61 L366.42,116.65 L368.10,116.72 L369.82,116.83 L371.48,116.98 L373.12,117.16 L374.77,117.37 L376.43,117.62 L378.15,117.92 L379.91,118.27 L381.62,118.65 L383.30,119.07 L384.97,119.53 L386.64,120.02 L388.32,120.56 L390.07,121.17 L391.80,121.83 L393.41,122.48 L394.98,123.17 L396.52,123.88 L398.03,124.61 L399.56,125.40 L401.07,126.23 L402.49,127.04 L403.84,127.86 L405.17,128.69 L406.46,129.53 L407.77,130.43 L409.06,131.34 L410.25,132.23 L411.41,133.11 L412.53,134.00 L413.65,134.92 L414.78,135.87 L415.84,136.80 L416.85,137.70 L417.83,138.61 L418.81,139.54 L419.80,140.50 L420.73,141.44 L421.62,142.35 L422.48,143.26 L423.37,144.21 L424.24,145.16 L425.05,146.08 L425.84,146.98 L426.63,147.90 L427.42,148.85 L428.19,149.77 L428.91,150.67 L429.62,151.56 L430.36,152.49 L431.07,153.42 L431.74,154.31 L432.40,155.19 L433.08,156.10 L433.74,157.01 L434.38,157.89 L434.99,158.76 L435.62,159.64 L436.24,160.53 L436.84,161.40 L437.43,162.26 L438.01,163.12 L438.60,164.00 L439.17,164.85 L439.72,165.69 L440.28,166.54 L440.84,167.39 L441.38,168.23 L441.91,169.05 L442.44,169.88 L442.97,170.71 L443.50,171.54 L444.01,172.35 L444.52,173.16 L445.04,173.98 L445.56,174.80 L446.07,175.61 L446.57,176.41 L447.07,177.22 L447.58,178.03 L448.08,178.84 L448.58,179.64 L449.07,180.43 L449.57,181.23 L450.06,182.03 L450.55,182.82 L451.04,183.61 L451.52,184.39 L452.01,185.18 L452.49,185.96 L452.97,186.74 L453.45,187.51 L453.93,188.28 L454.40,189.05 L454.88,189.82 L455.35,190.59 L455.82,191.34 L456.29,192.10 L456.76,192.85 L457.23,193.61 L457.70,194.35 L458.16,195.10 L458.63,195.84 L459.09,196.57 L459.55,197.30 L460.01,198.03 L460.47,198.76 L460.93,199.48 L461.39,200.20 L461.85,200.91 L462.30,201.62 L462.76,202.33 L463.22,203.03 L463.68,203.73 L464.13,204.42 L464.58,205.11 L465.04,205.80 L465.49,206.48 L465.95,207.16 L466.40,207.84 L466.85,208.50 L467.30,209.17 L467.75,209.83 L468.21,210.49 L468.66,211.15 L469.11,211.79 L469.56,212.43 L470.02,213.07 L470.47,213.71 L470.93,214.35 L471.38,214.98 L471.83,215.59 L472.28,216.21 L472.74,216.83 L473.20,217.44 L473.65,218.05 L474.10,218.65 L474.56,219.24 L475.02,219.84 L475.49,220.44 L475.96,221.04 L476.42,221.63 L476.88,222.21 L477.35,222.80 L477.83,223.39 L478.31,223.97 L478.78,224.55 L479.25,225.12 L479.74,225.70 L480.22,226.27 L480.72,226.85 L481.20,227.42 L481.68,227.97 L482.17,228.54 L482.67,229.11 L483.17,229.67 L483.66,230.22 L484.16,230.77 L484.66,231.33 L485.17,231.88 L485.68,232.44 L486.18,232.97 L486.68,233.51 L487.19,234.05 L487.71,234.59 L488.23,235.14 L488.74,235.66 L489.25,236.18 L489.77,236.71 L490.30,237.24 L490.83,237.77 L491.35,238.28 L491.86,238.79 L492.40,239.31 L492.94,239.83 L493.47,240.34 L493.99,240.84 L494.52,241.33 L495.07,241.84 L495.61,242.34 L496.15,242.84 L496.68,243.32 L497.22,243.80 L497.77,244.30 L498.33,244.79 L498.87,245.26 L499.41,245.73 L499.96,246.20 L500.52,246.68 L501.08,247.15 L501.63,247.61 L502.18,248.07 L502.74,248.52 L503.31,248.98 L503.88,249.44 L504.43,249.89 L504.98,250.32 L505.55,250.77 L506.13,251.21 L506.70,251.65 L507.26,252.08 L507.82,252.49 L508.40,252.92 L508.98,253.35 L509.56,253.78 L510.13,254.18 L510.69,254.58 L511.28,255.00 L511.87,255.41 L512.46,255.81 L513.02,256.20 L513.59,256.58 L514.19,256.98 L514.78,257.37 L515.38,257.76 L515.95,258.13 L516.53,258.49 L517.13,258.87 L517.73,259.24 L518.32,259.61 L518.90,259.96 L519.48,260.31 L520.09,260.66 L520.69,261.02 L521.30,261.36 L521.88,261.69 L522.47,262.02 L523.08,262.36 L523.69,262.69 L524.29,263.02 L524.88,263.33 L525.47,263.64 L526.08,263.95 L526.70,264.27 L527.31,264.57 L527.90,264.86 L528.49,265.15 L529.11,265.45 L529.73,265.74 L530.35,266.02 L530.94,266.29 L531.53,266.56 L532.15,266.83 L532.78,267.10 L533.40,267.36 L534.12,267.66"/></g><path d="M202.20,279.20 A13.12,13.12 0 0 1 219.50,260.50 A11.61,11.61 0 0 1 233.60,242.90 A11.93,11.93 0 0 1 247.40,224.30 A12.37,12.37 0 0 1 261.00,204.50 A11.95,11.95 0 0 1 275.00,186.00 A12.11,12.11 0 0 1 288.70,166.90 A11.83,11.83 0 0 1 303.10,149.00 A12.40,12.40 0 0 1 320.90,132.80 A12.68,12.68 0 0 1 341.30,119.00 A13.20,13.20 0 0 1 362.70,104.90 A13.06,13.06 0 0 1 384.10,118.50 A12.24,12.24 0 0 1 404.00,131.50 A12.44,12.44 0 0 1 422.60,146.90 A11.97,11.97 0 0 1 436.80,165.30 A11.97,11.97 0 0 1 451.00,183.70 A12.43,12.43 0 0 1 464.80,203.50 A12.33,12.33 0 0 1 477.50,223.80 A11.68,11.68 0 0 1 491.30,241.80 A12.06,12.06 0 0 1 504.70,261.00 A13.22,13.22 0 0 1 523.00,279.00" fill="none" stroke="#141414" stroke-width="1.4" stroke-linejoin="miter" stroke-miterlimit="3"/></g><path d="M144.25,263.94 L144.27,265.86 L144.30,267.77 L144.33,269.69 L144.36,271.60 L144.40,273.52 L144.44,275.43 L144.49,277.34 L144.54,279.26 L144.59,281.17 L144.65,283.08 L144.72,284.99 L144.78,286.90 L144.86,288.81 L144.93,290.72 L145.01,292.63 L145.10,294.54 L145.19,296.45 L145.28,298.36 L145.38,300.26 L145.48,302.17 L145.59,304.07 L145.70,305.98 L145.82,307.88 L145.94,309.79 L146.07,311.69 L146.20,313.59 L146.34,315.50 L146.48,317.40 L146.62,319.30 L146.77,321.20 L146.93,323.10 L147.09,325.00 L147.25,326.89 L147.42,328.79 L147.60,330.69 L147.78,332.58 L147.97,334.47 L148.16,336.37 L148.35,338.26 L148.55,340.15 L148.76,342.04 L148.97,343.93 L149.19,345.82 L149.41,347.71 L149.64,349.60 L149.87,351.48 L150.11,353.37 L150.36,355.25 L150.61,357.13 L150.86,359.02 L151.12,360.90 L151.39,362.78 L151.66,364.66 L151.94,366.53 L152.22,368.41 L152.51,370.29 L152.81,372.16 L153.11,374.03 L153.41,375.91 L153.73,377.78 L154.05,379.65 L154.37,381.51 L154.70,383.38 L155.04,385.25 L155.38,387.11 L155.73,388.98 L156.08,390.84 L156.44,392.70 L156.81,394.56 L157.19,396.42 L157.57,398.27 L157.95,400.13 L158.34,401.98 L158.74,403.84 L159.15,405.69 L159.56,407.54 L159.98,409.39 L160.40,411.23 L160.83,413.08 L161.27,414.92 L161.71,416.77 L162.16,418.61 L162.62,420.45 L163.09,422.29 L163.56,424.12 L164.03,425.96 L164.52,427.79 L165.01,429.62 L165.51,431.46 L166.01,433.28 L166.52,435.11 L167.04,436.94 L167.57,438.76 L168.10,440.58 L168.64,442.40 L169.19,444.22 L169.74,446.04 L170.31,447.85 L170.87,449.67 L171.45,451.48 L172.03,453.29 L172.62,455.10 L173.22,456.91 L173.83,458.71 L174.44,460.51 L175.06,462.31 L175.69,464.11 L176.32,465.91 L176.96,467.71 L177.61,469.50 L178.27,471.29 L178.93,473.08 L179.61,474.87 L180.29,476.65 L180.98,478.44 L181.67,480.22 L182.38,482.00 L183.09,483.78 L183.81,485.55 L184.53,487.33 L185.27,489.10 L186.01,490.87 L186.76,492.63 L187.52,494.40 L188.29,496.16 L189.07,497.92 L189.85,499.68 L190.64,501.44 L191.44,503.19 L192.25,504.94 L193.07,506.69 L193.89,508.44 L194.73,510.18 L195.57,511.91 L196.42,513.65 L197.28,515.38 L198.15,517.10 L199.03,518.82 L199.92,520.54 L200.82,522.25 L201.72,523.96 L202.64,525.66 L203.57,527.36 L204.50,529.05 L205.45,530.73 L206.40,532.41 L207.36,534.09 L208.34,535.75 L209.32,537.41 L210.32,539.07 L211.32,540.71 L212.33,542.35 L213.36,543.98 L214.39,545.61 L215.44,547.23 L216.49,548.83 L217.56,550.44 L218.64,552.03 L219.73,553.61 L220.82,555.19 L221.93,556.75 L223.05,558.31 L224.19,559.86 L225.33,561.40 L226.48,562.93 L227.65,564.45 L228.83,565.96 L230.02,567.46 L231.22,568.95 L232.43,570.43 L233.65,571.89 L234.89,573.35 L236.13,574.80 L237.39,576.23 L238.66,577.65 L239.95,579.06 L241.24,580.46 L242.55,581.85 L243.87,583.22 L245.21,584.59 L246.55,585.93 L247.91,587.27 L249.28,588.59 L250.66,589.90 L252.06,591.20 L253.47,592.48 L254.89,593.75 L256.33,595.01 L257.77,596.25 L259.23,597.47 L260.71,598.68 L262.19,599.88 L263.68,601.06 L265.19,602.22 L266.71,603.37 L268.24,604.50 L269.78,605.61 L271.33,606.71 L272.89,607.79 L274.47,608.86 L276.05,609.90 L277.64,610.93 L279.25,611.94 L280.86,612.94 L282.49,613.91 L284.12,614.86 L285.77,615.80 L287.42,616.72 L289.08,617.61 L290.76,618.49 L292.44,619.35 L294.13,620.18 L295.83,621.00 L297.53,621.79 L299.25,622.57 L300.97,623.32 L302.71,624.05 L304.45,624.76 L306.19,625.45 L307.95,626.11 L309.71,626.76 L311.48,627.38 L313.26,627.97 L315.05,628.54 L316.84,629.09 L318.64,629.62 L320.44,630.12 L322.25,630.60 L324.07,631.06 L325.89,631.49 L327.72,631.90 L329.55,632.28 L331.39,632.64 L333.23,632.98 L335.07,633.29 L336.92,633.58 L338.77,633.84 L340.63,634.08 L342.48,634.30 L344.34,634.49 L346.21,634.65 L348.07,634.80 L349.94,634.92 L351.81,635.01 L353.67,635.08 L355.55,635.12 L357.42,635.14 L359.29,635.14 L361.16,635.11 L363.03,635.06 L364.90,634.98 L366.77,634.88 L368.65,634.76 L370.52,634.61 L372.39,634.44 L374.25,634.25 L376.12,634.03 L377.99,633.79 L379.85,633.53 L381.71,633.25 L383.57,632.94 L385.43,632.61 L387.29,632.26 L389.14,631.89 L390.99,631.50 L392.84,631.09 L394.68,630.65 L396.52,630.20 L398.36,629.72 L400.20,629.22 L402.03,628.70 L403.85,628.17 L405.67,627.61 L407.49,627.03 L409.30,626.43 L411.11,625.82 L412.91,625.18 L414.71,624.53 L416.50,623.85 L418.28,623.16 L420.06,622.44 L421.84,621.71 L423.60,620.97 L425.36,620.20 L427.12,619.41 L428.86,618.61 L430.61,617.79 L432.34,616.95 L434.06,616.10 L435.78,615.22 L437.49,614.33 L439.19,613.43 L440.89,612.51 L442.57,611.57 L444.25,610.61 L445.92,609.64 L447.58,608.65 L449.23,607.65 L450.87,606.63 L452.50,605.60 L454.12,604.55 L455.73,603.48 L457.33,602.40 L458.92,601.31 L460.50,600.20 L462.07,599.08 L463.63,597.94 L465.18,596.79 L466.71,595.63 L468.24,594.45 L469.75,593.26 L471.25,592.05 L472.74,590.83 L474.22,589.60 L475.68,588.36 L477.13,587.10 L478.57,585.83 L480.00,584.55 L481.41,583.26 L482.81,581.95 L484.20,580.63 L485.57,579.30 L486.93,577.96 L488.28,576.61 L489.62,575.25 L490.94,573.87 L492.25,572.49 L493.55,571.09 L494.84,569.68 L496.11,568.26 L497.37,566.83 L498.62,565.40 L499.86,563.95 L501.09,562.49 L502.30,561.02 L503.50,559.54 L504.69,558.05 L505.87,556.55 L507.03,555.04 L508.18,553.53 L509.33,552.00 L510.45,550.47 L511.57,548.92 L512.68,547.37 L513.77,545.81 L514.85,544.24 L515.93,542.66 L516.98,541.08 L518.03,539.48 L519.07,537.88 L520.09,536.27 L521.11,534.65 L522.11,533.03 L523.10,531.40 L524.08,529.76 L525.05,528.11 L526.01,526.46 L526.95,524.80 L527.89,523.13 L528.81,521.46 L529.73,519.78 L530.63,518.10 L531.52,516.41 L532.40,514.71 L533.27,513.01 L534.13,511.30 L534.98,509.58 L535.82,507.86 L536.65,506.14 L537.47,504.41 L538.27,502.67 L539.07,500.93 L539.86,499.19 L540.63,497.44 L541.40,495.69 L542.15,493.93 L542.90,492.17 L543.63,490.40 L544.36,488.63 L545.07,486.86 L545.78,485.08 L546.47,483.30 L547.15,481.52 L547.83,479.73 L548.49,477.94 L549.15,476.15 L549.80,474.35 L550.43,472.55 L551.06,470.75 L551.67,468.95 L552.28,467.14 L552.88,465.33 L553.47,463.52 L554.05,461.71 L554.62,459.89 L555.18,458.07 L555.73,456.25 L556.27,454.42 L556.80,452.60 L557.32,450.77 L557.84,448.93 L558.34,447.10 L558.84,445.26 L559.33,443.43 L559.80,441.59 L560.27,439.74 L560.73,437.90 L561.19,436.05 L561.63,434.20 L562.06,432.35 L562.49,430.50 L562.90,428.64 L563.31,426.79 L563.71,424.93 L564.10,423.07 L564.49,421.20 L564.86,419.34 L565.23,417.47 L565.58,415.61 L565.93,413.74 L566.27,411.87 L566.61,409.99 L566.93,408.12 L567.25,406.25 L567.56,404.37 L567.86,402.49 L568.15,400.61 L568.43,398.73 L568.71,396.85 L568.98,394.96 L569.24,393.08 L569.50,391.19 L569.74,389.30 L569.98,387.42 L570.21,385.53 L570.43,383.63 L570.65,381.74 L570.86,379.85 L571.06,377.96 L571.25,376.06 L571.43,374.17 L571.61,372.27 L571.78,370.37 L571.95,368.47 L572.11,366.58 L572.25,364.68 L572.40,362.78 L572.53,360.87 L572.66,358.97 L572.78,357.07 L572.90,355.17 L573.00,353.27 L573.11,351.36 L573.20,349.46 L573.29,347.55 L573.37,345.65 L573.44,343.74 L573.51,341.84 L573.57,339.93 L573.63,338.03 L573.67,336.12 L573.71,334.21 L573.75,332.31 L573.78,330.40 L573.80,328.49 L573.82,326.59 L573.83,324.68 L573.83,322.78 L573.83,320.87 L573.82,318.96 L573.81,317.06 L573.79,315.15 L573.76,313.25 L573.73,311.34 L573.69,309.44 L573.65,307.53 L573.60,305.63 L573.54,303.72 L573.48,301.82 L573.41,299.92 L573.34,298.02 L573.26,296.11 L573.18,294.21 L573.09,292.31 L573.00,290.41 L572.90,288.51 L572.79,286.62 L572.68,284.72 L572.57,282.82 L572.45,280.93 L572.32,279.03 L572.19,277.14 L572.05,275.25 L571.91,273.35 L571.77,271.46 L571.62,269.57 L571.46,267.68 L571.30,265.80 L571.13,263.91 L570.98,263.68 L569.63,263.85 L568.21,264.02 L566.75,264.20 L565.25,264.40 L563.71,264.61 L562.13,264.83 L560.52,265.07 L558.88,265.34 L557.22,265.62 L555.54,265.92 L553.85,266.25 L552.14,266.60 L550.43,266.98 L548.72,267.39 L547.01,267.83 L545.30,268.30 L543.61,268.81 L541.93,269.35 L540.26,269.93 L538.63,270.55 L537.02,271.21 L535.44,271.91 L533.89,272.65 L532.39,273.44 L530.93,274.28 L529.52,275.17 L528.17,276.11 L526.89,277.11 L525.68,278.16 L524.56,279.28 L523.54,280.47 L522.61,281.73 L521.77,283.04 L521.01,284.41 L520.32,285.82 L519.70,287.28 L519.13,288.78 L518.61,290.31 L518.13,291.86 L517.68,293.43 L517.25,295.02 L516.84,296.62 L516.44,298.21 L516.05,299.81 L515.66,301.41 L515.27,303.01 L514.89,304.61 L514.51,306.21 L514.13,307.81 L513.76,309.41 L513.40,311.01 L513.03,312.62 L512.67,314.22 L512.32,315.82 L511.96,317.42 L511.61,319.02 L511.27,320.63 L510.92,322.23 L510.58,323.83 L510.24,325.44 L509.91,327.04 L509.58,328.64 L509.24,330.25 L508.92,331.85 L508.59,333.46 L508.26,335.06 L507.94,336.67 L507.62,338.27 L507.30,339.88 L506.98,341.48 L506.66,343.09 L506.34,344.69 L506.03,346.30 L505.71,347.90 L505.40,349.51 L505.09,351.11 L504.77,352.72 L504.46,354.33 L504.15,355.93 L503.84,357.54 L503.52,359.14 L503.21,360.75 L502.90,362.36 L502.59,363.96 L502.27,365.57 L501.96,367.18 L501.64,368.78 L501.33,370.39 L501.01,372.00 L500.69,373.60 L500.37,375.21 L500.05,376.82 L499.73,378.42 L499.40,380.03 L499.08,381.63 L498.75,383.24 L498.42,384.85 L498.09,386.45 L497.75,388.06 L497.42,389.66 L497.08,391.27 L496.73,392.88 L496.39,394.48 L496.04,396.09 L495.69,397.69 L495.34,399.30 L494.98,400.90 L494.62,402.51 L494.25,404.11 L493.88,405.72 L493.51,407.32 L493.14,408.93 L492.76,410.53 L492.37,412.13 L491.98,413.74 L491.59,415.34 L491.19,416.94 L490.79,418.55 L490.38,420.15 L489.97,421.75 L489.55,423.35 L489.13,424.96 L488.70,426.56 L488.27,428.16 L487.83,429.76 L487.38,431.35 L486.93,432.95 L486.47,434.55 L486.01,436.14 L485.54,437.73 L485.07,439.32 L484.59,440.91 L484.10,442.50 L483.61,444.08 L483.10,445.67 L482.60,447.25 L482.08,448.83 L481.56,450.40 L481.03,451.97 L480.49,453.54 L479.95,455.11 L479.40,456.67 L478.84,458.23 L478.28,459.79 L477.70,461.34 L477.12,462.89 L476.53,464.44 L475.93,465.98 L475.32,467.52 L474.71,469.05 L474.09,470.58 L473.45,472.10 L472.81,473.62 L472.16,475.14 L471.50,476.65 L470.84,478.15 L470.16,479.65 L469.47,481.15 L468.78,482.64 L468.07,484.12 L467.36,485.60 L466.63,487.07 L465.90,488.54 L465.15,490.00 L464.40,491.46 L463.64,492.90 L462.86,494.35 L462.07,495.78 L461.28,497.21 L460.47,498.63 L459.65,500.05 L458.83,501.45 L457.99,502.85 L457.14,504.25 L456.27,505.63 L455.40,507.01 L454.52,508.38 L453.62,509.74 L452.71,511.10 L451.79,512.44 L450.86,513.78 L449.92,515.11 L448.96,516.43 L447.99,517.74 L447.01,519.05 L446.02,520.34 L445.01,521.63 L444.00,522.90 L442.96,524.17 L441.92,525.43 L440.86,526.68 L439.79,527.91 L438.71,529.14 L437.61,530.36 L436.50,531.57 L435.38,532.77 L434.24,533.95 L433.09,535.13 L431.92,536.30 L430.74,537.45 L429.55,538.60 L428.34,539.73 L427.12,540.85 L425.88,541.96 L424.63,543.06 L423.37,544.15 L422.09,545.22 L420.80,546.28 L419.50,547.32 L418.18,548.35 L416.85,549.36 L415.51,550.36 L414.16,551.34 L412.79,552.30 L411.42,553.24 L410.03,554.17 L408.63,555.07 L407.22,555.96 L405.80,556.82 L404.37,557.67 L402.93,558.49 L401.49,559.29 L400.03,560.07 L398.56,560.82 L397.08,561.55 L395.60,562.26 L394.11,562.94 L392.60,563.59 L391.10,564.22 L389.58,564.82 L388.05,565.40 L386.52,565.95 L384.98,566.46 L383.44,566.95 L381.89,567.41 L380.33,567.84 L378.77,568.24 L377.20,568.61 L375.62,568.94 L374.04,569.25 L372.46,569.52 L370.87,569.75 L369.27,569.95 L367.68,570.12 L366.08,570.25 L364.47,570.35 L362.86,570.41 L361.25,570.43 L359.63,570.41 L358.02,570.36 L356.40,570.26 L354.78,570.13 L353.15,569.96 L351.53,569.74 L349.90,569.50 L348.28,569.21 L346.66,568.89 L345.04,568.53 L343.42,568.13 L341.81,567.71 L340.20,567.25 L338.60,566.75 L337.00,566.23 L335.41,565.68 L333.83,565.09 L332.26,564.48 L330.70,563.83 L329.15,563.16 L327.61,562.47 L326.08,561.75 L324.57,561.00 L323.07,560.23 L321.58,559.43 L320.11,558.61 L318.65,557.77 L317.22,556.91 L315.80,556.03 L314.39,555.13 L313.01,554.21 L311.64,553.27 L310.29,552.31 L308.95,551.34 L307.64,550.35 L306.33,549.33 L305.05,548.31 L303.78,547.26 L302.52,546.20 L301.28,545.13 L300.06,544.04 L298.85,542.94 L297.65,541.82 L296.47,540.68 L295.30,539.54 L294.14,538.38 L293.00,537.21 L291.87,536.03 L290.76,534.83 L289.66,533.63 L288.57,532.41 L287.49,531.19 L286.42,529.95 L285.37,528.71 L284.32,527.45 L283.29,526.19 L282.27,524.92 L281.26,523.64 L280.26,522.35 L279.27,521.06 L278.29,519.75 L277.33,518.44 L276.37,517.12 L275.42,515.80 L274.49,514.46 L273.56,513.12 L272.65,511.77 L271.74,510.42 L270.85,509.05 L269.96,507.68 L269.09,506.30 L268.22,504.92 L267.37,503.53 L266.52,502.13 L265.69,500.73 L264.86,499.32 L264.04,497.90 L263.24,496.48 L262.44,495.05 L261.65,493.61 L260.87,492.17 L260.10,490.72 L259.34,489.27 L258.58,487.81 L257.84,486.35 L257.10,484.88 L256.38,483.41 L255.66,481.93 L254.95,480.44 L254.25,478.95 L253.56,477.46 L252.87,475.96 L252.20,474.46 L251.53,472.95 L250.87,471.44 L250.22,469.92 L249.57,468.40 L248.94,466.87 L248.31,465.34 L247.69,463.81 L247.07,462.27 L246.47,460.73 L245.87,459.19 L245.28,457.64 L244.69,456.09 L244.11,454.54 L243.54,452.98 L242.98,451.42 L242.42,449.86 L241.88,448.29 L241.33,446.72 L240.80,445.15 L240.27,443.58 L239.74,442.00 L239.23,440.42 L238.72,438.84 L238.21,437.26 L237.72,435.67 L237.23,434.09 L236.74,432.50 L236.26,430.91 L235.79,429.32 L235.32,427.72 L234.86,426.13 L234.40,424.53 L233.95,422.93 L233.50,421.34 L233.06,419.74 L232.63,418.14 L232.20,416.54 L231.78,414.94 L231.36,413.33 L230.94,411.73 L230.53,410.13 L230.13,408.53 L229.73,406.92 L229.33,405.32 L228.94,403.72 L228.56,402.12 L228.17,400.51 L227.80,398.91 L227.42,397.31 L227.05,395.71 L226.69,394.11 L226.33,392.51 L225.97,390.92 L225.62,389.32 L225.27,387.72 L224.92,386.13 L224.58,384.53 L224.24,382.94 L223.91,381.35 L223.58,379.76 L223.25,378.17 L222.92,376.58 L222.60,374.98 L222.28,373.39 L221.96,371.80 L221.65,370.21 L221.34,368.62 L221.03,367.03 L220.72,365.44 L220.42,363.85 L220.12,362.25 L219.82,360.66 L219.52,359.07 L219.23,357.47 L218.93,355.87 L218.64,354.28 L218.35,352.68 L218.07,351.08 L217.78,349.47 L217.49,347.87 L217.21,346.26 L216.93,344.66 L216.65,343.05 L216.37,341.44 L216.09,339.82 L215.81,338.21 L215.53,336.59 L215.26,334.97 L214.98,333.34 L214.71,331.72 L214.43,330.09 L214.16,328.46 L213.88,326.82 L213.61,325.18 L213.33,323.54 L213.06,321.90 L212.78,320.25 L212.51,318.59 L212.24,316.94 L211.96,315.28 L211.68,313.62 L211.40,311.95 L211.12,310.29 L210.82,308.63 L210.50,306.97 L210.17,305.33 L209.82,303.69 L209.44,302.07 L209.03,300.46 L208.59,298.88 L208.11,297.31 L207.60,295.77 L207.03,294.25 L206.43,292.77 L205.77,291.31 L205.06,289.89 L204.28,288.50 L203.45,287.16 L202.56,285.85 L201.62,284.58 L200.62,283.34 L199.56,282.15 L198.46,281.00 L197.30,279.88 L196.11,278.80 L194.86,277.76 L193.58,276.76 L192.26,275.79 L190.89,274.87 L189.50,273.98 L188.07,273.12 L186.61,272.31 L185.12,271.54 L183.61,270.80 L182.07,270.10 L180.51,269.43 L178.93,268.81 L177.33,268.22 L175.72,267.67 L174.09,267.15 L172.45,266.68 L170.81,266.24 L169.15,265.83 L167.50,265.47 L165.84,265.14 L164.17,264.84 L162.52,264.59 L160.86,264.37 L159.21,264.18 L157.57,264.04 L155.94,263.93 L154.33,263.85 L152.73,263.82 L151.14,263.81 L149.58,263.85 L148.04,263.92 L146.52,264.03 L145.02,264.17 Z" fill="#e8dfe5"/><path clip-path="url(#cUnion)" d="M-659.77,140.00 L-373.57,650.00 M-470.43,140.00 L-756.63,650.00 M-631.15,140.00 L-344.95,650.00 M-441.81,140.00 L-728.01,650.00 M-602.53,140.00 L-316.33,650.00 M-413.19,140.00 L-699.39,650.00 M-573.91,140.00 L-287.71,650.00 M-384.57,140.00 L-670.77,650.00 M-545.29,140.00 L-259.09,650.00 M-355.95,140.00 L-642.15,650.00 M-516.67,140.00 L-230.47,650.00 M-327.33,140.00 L-613.53,650.00 M-488.05,140.00 L-201.85,650.00 M-298.71,140.00 L-584.91,650.00 M-459.43,140.00 L-173.23,650.00 M-270.09,140.00 L-556.29,650.00 M-430.81,140.00 L-144.61,650.00 M-241.47,140.00 L-527.67,650.00 M-402.19,140.00 L-115.99,650.00 M-212.85,140.00 L-499.05,650.00 M-373.57,140.00 L-87.37,650.00 M-184.23,140.00 L-470.43,650.00 M-344.95,140.00 L-58.75,650.00 M-155.61,140.00 L-441.81,650.00 M-316.33,140.00 L-30.13,650.00 M-126.99,140.00 L-413.19,650.00 M-287.71,140.00 L-1.51,650.00 M-98.37,140.00 L-384.57,650.00 M-259.09,140.00 L27.11,650.00 M-69.75,140.00 L-355.95,650.00 M-230.47,140.00 L55.73,650.00 M-41.13,140.00 L-327.33,650.00 M-201.85,140.00 L84.35,650.00 M-12.51,140.00 L-298.71,650.00 M-173.23,140.00 L112.97,650.00 M16.11,140.00 L-270.09,650.00 M-144.61,140.00 L141.59,650.00 M44.73,140.00 L-241.47,650.00 M-115.99,140.00 L170.21,650.00 M73.35,140.00 L-212.85,650.00 M-87.37,140.00 L198.83,650.00 M101.97,140.00 L-184.23,650.00 M-58.75,140.00 L227.45,650.00 M130.59,140.00 L-155.61,650.00 M-30.13,140.00 L256.07,650.00 M159.21,140.00 L-126.99,650.00 M-1.51,140.00 L284.69,650.00 M187.83,140.00 L-98.37,650.00 M27.11,140.00 L313.31,650.00 M216.45,140.00 L-69.75,650.00 M55.73,140.00 L341.93,650.00 M245.07,140.00 L-41.13,650.00 M84.35,140.00 L370.55,650.00 M273.69,140.00 L-12.51,650.00 M112.97,140.00 L399.17,650.00 M302.31,140.00 L16.11,650.00 M141.59,140.00 L427.79,650.00 M330.93,140.00 L44.73,650.00 M170.21,140.00 L456.41,650.00 M359.55,140.00 L73.35,650.00 M198.83,140.00 L485.03,650.00 M388.17,140.00 L101.97,650.00 M227.45,140.00 L513.65,650.00 M416.79,140.00 L130.59,650.00 M256.07,140.00 L542.27,650.00 M445.41,140.00 L159.21,650.00 M284.69,140.00 L570.89,650.00 M474.03,140.00 L187.83,650.00 M313.31,140.00 L599.51,650.00 M502.65,140.00 L216.45,650.00 M341.93,140.00 L628.13,650.00 M531.27,140.00 L245.07,650.00 M370.55,140.00 L656.75,650.00 M559.89,140.00 L273.69,650.00 M399.17,140.00 L685.37,650.00 M588.51,140.00 L302.31,650.00 M427.79,140.00 L713.99,650.00 M617.13,140.00 L330.93,650.00 M456.41,140.00 L742.61,650.00 M645.75,140.00 L359.55,650.00 M485.03,140.00 L771.23,650.00 M674.37,140.00 L388.17,650.00 M513.65,140.00 L799.85,650.00 M702.99,140.00 L416.79,650.00 M542.27,140.00 L828.47,650.00 M731.61,140.00 L445.41,650.00 M570.89,140.00 L857.09,650.00 M760.23,140.00 L474.03,650.00 M599.51,140.00 L885.71,650.00 M788.85,140.00 L502.65,650.00 M628.13,140.00 L914.33,650.00 M817.47,140.00 L531.27,650.00 M656.75,140.00 L942.95,650.00 M846.09,140.00 L559.89,650.00 M685.37,140.00 L971.57,650.00 M874.71,140.00 L588.51,650.00 M713.99,140.00 L1000.19,650.00 M903.33,140.00 L617.13,650.00 M742.61,140.00 L1028.81,650.00 M931.95,140.00 L645.75,650.00 M771.23,140.00 L1057.43,650.00 M960.57,140.00 L674.37,650.00 M799.85,140.00 L1086.05,650.00 M989.19,140.00 L702.99,650.00 M828.47,140.00 L1114.67,650.00 M1017.81,140.00 L731.61,650.00 M857.09,140.00 L1143.29,650.00 M1046.43,140.00 L760.23,650.00 M885.71,140.00 L1171.91,650.00 M1075.05,140.00 L788.85,650.00 M914.33,140.00 L1200.53,650.00 M1103.67,140.00 L817.47,650.00 M942.95,140.00 L1229.15,650.00 M1132.29,140.00 L846.09,650.00 M971.57,140.00 L1257.77,650.00 M1160.91,140.00 L874.71,650.00 M1000.19,140.00 L1286.39,650.00 M1189.53,140.00 L903.33,650.00 M1028.81,140.00 L1315.01,650.00 M1218.15,140.00 L931.95,650.00 M1057.43,140.00 L1343.63,650.00 M1246.77,140.00 L960.57,650.00 " fill="none" stroke="#141414" stroke-width="1.4"/><path d="M145.00,264.20 L144.35,262.98 L143.70,261.76 L143.05,260.54 L142.40,259.32 L141.75,258.09 L141.10,256.87 L140.45,255.65 L139.80,254.43 L139.15,253.21 L138.50,251.99 L137.85,250.77 L137.20,249.55 L136.55,248.33 L135.90,247.11 L135.25,245.89 L134.60,244.67 L133.95,243.45 L133.30,242.23 L132.64,241.01 L131.99,239.79 L131.34,238.57 L130.69,237.35 L130.04,236.13 L129.38,234.91 L128.73,233.69 L128.08,232.47 L127.43,231.25 L126.77,230.03 L126.12,228.81 L125.47,227.59 L124.81,226.38 L124.16,225.16 L123.51,223.94 L122.85,222.72 L122.20,221.50 L122.97,219.96 L124.30,218.86 L125.61,217.75 L126.93,216.65 L128.24,215.54 L129.54,214.42 L130.84,213.31 L132.14,212.19 L133.44,211.07 L134.73,209.94 L136.01,208.81 L137.30,207.68 L138.58,206.55 L139.85,205.42 L141.13,204.28 L142.39,203.14 L143.66,201.99 L144.92,200.84 L146.18,199.69 L147.43,198.54 L148.68,197.38 L149.93,196.22 L151.17,195.06 L152.41,193.90 L153.65,192.73 L154.88,191.56 L156.11,190.38 L157.33,189.20 L158.55,188.02 L159.77,186.84 L160.98,185.65 L162.20,184.46 L163.40,183.27 L164.61,182.08 L165.80,180.88 L167.00,179.68 L168.19,178.47 L169.38,177.26 L170.57,176.05 L171.75,174.84 L172.93,173.62 L174.10,172.40 L175.27,171.18 L176.44,169.95 L177.60,168.72 L178.76,167.49 L179.92,166.25 L181.08,165.01 L182.23,163.77 L183.37,162.52 L184.51,161.27 L185.65,160.02 L186.79,158.76 L187.92,157.51 L189.05,156.24 L190.18,154.98 L191.30,153.71 L192.42,152.44 L193.53,151.16 L194.64,149.88 L195.75,148.60 L196.86,147.31 L197.96,146.03 L199.06,144.73 L200.15,143.44 L201.24,142.14 L202.33,140.84 L203.41,139.53 L204.49,138.22 L205.57,136.91 L206.65,135.59 L207.72,134.27 L208.78,132.95 L209.85,131.63 L210.91,130.30 L211.97,128.96 L213.02,127.63 L214.07,126.29 L215.12,124.94 L216.16,123.60 L217.20,122.24 L218.24,120.89 L219.27,119.53 L220.30,118.17 L221.33,116.81 L222.35,115.44 L223.37,114.07 L224.39,112.69 L225.41,111.31 L226.42,109.93 L227.43,108.54 L228.43,107.16 L229.43,105.77 L230.44,104.37 L231.44,102.98 L232.44,101.58 L233.44,100.19 L234.44,98.79 L235.43,97.40 L236.43,96.00 L237.44,94.61 L238.44,93.21 L239.44,91.82 L240.45,90.43 L241.45,89.04 L242.47,87.66 L243.48,86.28 L244.50,84.90 L245.52,83.53 L246.54,82.16 L247.57,80.79 L248.61,79.43 L249.65,78.08 L250.69,76.73 L251.74,75.38 L252.80,74.05 L253.87,72.72 L254.94,71.40 L256.02,70.08 L257.10,68.78 L258.20,67.48 L259.30,66.19 L260.42,64.91 L261.54,63.64 L262.67,62.38 L263.81,61.14 L264.96,59.90 L266.13,58.67 L267.30,57.46 L268.48,56.25 L269.68,55.06 L270.89,53.88 L272.11,52.72 L273.35,51.57 L274.60,50.43 L275.86,49.31 L277.13,48.20 L278.42,47.11 L279.73,46.03 L281.05,44.97 L282.38,43.92 L283.73,42.89 L285.10,41.88 L286.47,40.88 L287.86,39.90 L289.27,38.94 L290.68,37.99 L292.11,37.06 L293.55,36.15 L295.01,35.25 L296.47,34.38 L297.95,33.52 L299.44,32.68 L300.94,31.85 L302.45,31.05 L303.97,30.27 L305.50,29.50 L307.04,28.75 L308.59,28.02 L310.15,27.31 L311.71,26.62 L313.29,25.95 L314.88,25.30 L316.47,24.67 L318.07,24.06 L319.68,23.47 L321.29,22.90 L322.91,22.36 L324.54,21.83 L326.18,21.32 L327.82,20.84 L329.47,20.37 L331.12,19.93 L332.78,19.51 L334.44,19.11 L336.11,18.73 L337.78,18.38 L339.45,18.05 L341.13,17.74 L342.82,17.45 L344.50,17.19 L346.19,16.95 L347.88,16.73 L349.58,16.54 L351.27,16.37 L352.97,16.23 L354.67,16.10 L356.37,16.01 L358.07,15.93 L359.77,15.89 L361.47,15.86 L363.18,15.86 L364.88,15.89 L366.58,15.94 L368.28,16.02 L369.98,16.12 L371.68,16.24 L373.37,16.39 L375.07,16.56 L376.76,16.76 L378.44,16.97 L380.13,17.22 L381.81,17.48 L383.49,17.77 L385.16,18.09 L386.83,18.42 L388.49,18.78 L390.15,19.16 L391.81,19.56 L393.46,19.99 L395.10,20.44 L396.73,20.91 L398.36,21.40 L399.99,21.92 L401.60,22.45 L403.21,23.01 L404.81,23.59 L406.40,24.19 L407.98,24.81 L409.55,25.45 L411.12,26.12 L412.67,26.80 L414.22,27.51 L415.75,28.23 L417.28,28.98 L418.79,29.74 L420.29,30.53 L421.79,31.34 L423.26,32.16 L424.73,33.01 L426.19,33.87 L427.63,34.76 L429.06,35.66 L430.47,36.58 L431.88,37.52 L433.26,38.48 L434.64,39.46 L436.00,40.46 L437.34,41.47 L438.67,42.51 L439.99,43.56 L441.28,44.63 L442.57,45.72 L443.84,46.82 L445.09,47.94 L446.34,49.07 L447.57,50.22 L448.78,51.39 L449.99,52.57 L451.18,53.76 L452.36,54.96 L453.53,56.18 L454.69,57.41 L455.84,58.66 L456.98,59.91 L458.11,61.18 L459.23,62.45 L460.35,63.74 L461.45,65.03 L462.55,66.34 L463.63,67.65 L464.71,68.97 L465.79,70.30 L466.86,71.63 L467.92,72.97 L468.97,74.32 L470.03,75.68 L471.07,77.03 L472.11,78.40 L473.15,79.77 L474.19,81.14 L475.22,82.51 L476.24,83.89 L477.27,85.27 L478.29,86.65 L479.31,88.04 L480.33,89.42 L481.35,90.81 L482.37,92.19 L483.39,93.57 L484.41,94.96 L485.43,96.34 L486.45,97.72 L487.47,99.10 L488.49,100.48 L489.51,101.85 L490.54,103.23 L491.56,104.60 L492.59,105.97 L493.61,107.34 L494.64,108.71 L495.67,110.07 L496.70,111.44 L497.73,112.80 L498.76,114.16 L499.80,115.51 L500.84,116.87 L501.87,118.22 L502.91,119.58 L503.95,120.93 L504.99,122.27 L506.04,123.62 L507.09,124.96 L508.13,126.30 L509.18,127.64 L510.24,128.98 L511.29,130.31 L512.35,131.64 L513.40,132.97 L514.47,134.30 L515.53,135.62 L516.59,136.94 L517.66,138.26 L518.73,139.58 L519.80,140.89 L520.88,142.20 L521.96,143.51 L523.04,144.82 L524.12,146.12 L525.21,147.42 L526.30,148.72 L527.39,150.01 L528.49,151.30 L529.58,152.59 L530.69,153.88 L531.79,155.16 L532.90,156.44 L534.01,157.72 L535.12,158.99 L536.24,160.26 L537.36,161.53 L538.49,162.79 L539.61,164.05 L540.75,165.31 L541.88,166.56 L543.02,167.81 L544.16,169.06 L545.31,170.30 L546.46,171.54 L547.62,172.78 L548.78,174.01 L549.94,175.24 L551.10,176.47 L552.28,177.69 L553.45,178.91 L554.63,180.12 L555.82,181.33 L557.00,182.54 L558.20,183.74 L559.39,184.94 L560.60,186.14 L561.80,187.33 L563.01,188.52 L564.23,189.70 L565.45,190.88 L566.68,192.06 L567.91,193.23 L569.14,194.39 L570.39,195.56 L571.63,196.72 L572.88,197.87 L574.14,199.02 L575.40,200.17 L576.67,201.31 L577.94,202.45 L579.22,203.58 L580.50,204.71 L581.79,205.83 L583.08,206.95 L584.38,208.07 L585.69,209.18 L587.00,210.28 L588.32,211.38 L589.64,212.48 L590.97,213.57 L592.31,214.66 L593.65,215.74 L595.00,216.81 L596.35,217.89 L597.71,218.95 L599.08,220.02 L600.45,221.07 L601.83,222.13 L600.40,223.69 L599.79,224.59 L599.19,225.48 L598.58,226.37 L597.98,227.27 L597.37,228.16 L596.76,229.05 L596.15,229.94 L595.54,230.82 L594.92,231.71 L594.31,232.60 L593.69,233.48 L593.08,234.37 L592.46,235.25 L591.84,236.14 L591.22,237.02 L590.60,237.90 L589.97,238.78 L589.35,239.66 L588.72,240.54 L588.09,241.41 L587.46,242.29 L586.83,243.17 L586.20,244.04 L585.57,244.91 L584.93,245.78 L584.29,246.65 L583.65,247.52 L583.01,248.39 L582.37,249.26 L581.73,250.13 L581.08,250.99 L580.44,251.85 L579.79,252.72 L579.14,253.58 L578.49,254.44 L577.83,255.29 L577.18,256.15 L576.52,257.01 L575.86,257.86 L575.20,258.71 L574.54,259.57 L573.88,260.41 L573.21,261.26 L572.54,262.11 L571.87,262.96 L571.20,263.80" fill="none" stroke="#141414" stroke-width="1.4" stroke-linejoin="miter"/><path d="M153.40,263.50 L152.79,262.30 L152.18,261.10 L151.57,259.90 L150.95,258.70 L150.34,257.50 L149.73,256.30 L149.12,255.10 L148.51,253.90 L147.90,252.70 L147.29,251.50 L146.67,250.30 L146.06,249.10 L145.45,247.90 L144.84,246.70 L144.23,245.50 L143.62,244.30 L143.01,243.10 L142.39,241.90 L141.78,240.70 L141.17,239.50 L140.56,238.30 L139.95,237.10 L139.34,235.90 L138.73,234.70 L138.11,233.50 L137.50,232.30 L136.89,231.10 L136.28,229.90 L135.67,228.70 L135.06,227.50 L134.45,226.30 L133.83,225.10 L133.22,223.90 L132.61,222.70 L132.00,221.50 L133.47,220.71 L134.73,219.67 L135.99,218.63 L137.24,217.58 L138.50,216.53 L139.75,215.48 L141.00,214.43 L142.25,213.37 L143.50,212.32 L144.74,211.25 L145.98,210.19 L147.22,209.12 L148.46,208.05 L149.70,206.98 L150.93,205.90 L152.16,204.82 L153.39,203.74 L154.61,202.66 L155.83,201.57 L157.05,200.48 L158.27,199.39 L159.48,198.29 L160.69,197.19 L161.90,196.08 L163.11,194.98 L164.31,193.87 L165.51,192.76 L166.71,191.64 L167.90,190.52 L169.09,189.40 L170.28,188.27 L171.47,187.14 L172.65,186.01 L173.83,184.87 L175.00,183.73 L176.17,182.59 L177.34,181.45 L178.51,180.30 L179.67,179.14 L180.83,177.99 L181.98,176.83 L183.13,175.66 L184.28,174.50 L185.42,173.33 L186.56,172.15 L187.70,170.97 L188.83,169.79 L189.96,168.61 L191.09,167.42 L192.21,166.23 L193.33,165.03 L194.44,163.83 L195.55,162.63 L196.66,161.42 L197.76,160.21 L198.86,158.99 L199.95,157.77 L201.04,156.55 L202.13,155.33 L203.21,154.09 L204.29,152.86 L205.36,151.62 L206.43,150.38 L207.49,149.13 L208.55,147.88 L209.61,146.63 L210.66,145.37 L211.70,144.11 L212.75,142.84 L213.78,141.57 L214.82,140.29 L215.84,139.02 L216.87,137.73 L217.88,136.44 L218.90,135.15 L219.91,133.86 L220.91,132.56 L221.91,131.25 L222.90,129.94 L223.89,128.63 L224.88,127.31 L225.85,125.99 L226.83,124.66 L227.80,123.33 L228.76,122.00 L229.72,120.66 L230.67,119.31 L231.62,117.96 L232.56,116.61 L233.50,115.26 L234.43,113.90 L235.37,112.53 L236.29,111.17 L237.22,109.80 L238.14,108.44 L239.07,107.07 L239.99,105.70 L240.91,104.33 L241.83,102.96 L242.75,101.59 L243.67,100.22 L244.59,98.85 L245.51,97.48 L246.44,96.12 L247.36,94.75 L248.29,93.39 L249.22,92.04 L250.16,90.68 L251.10,89.33 L252.04,87.99 L252.99,86.64 L253.94,85.31 L254.90,83.98 L255.86,82.65 L256.83,81.33 L257.81,80.02 L258.79,78.71 L259.78,77.41 L260.78,76.12 L261.79,74.83 L262.80,73.56 L263.83,72.29 L264.86,71.03 L265.91,69.78 L266.96,68.54 L268.03,67.31 L269.11,66.09 L270.20,64.89 L271.30,63.69 L272.41,62.51 L273.54,61.33 L274.68,60.17 L275.83,59.03 L277.00,57.89 L278.18,56.77 L279.38,55.66 L280.59,54.57 L281.82,53.49 L283.07,52.43 L284.32,51.38 L285.59,50.35 L286.88,49.33 L288.18,48.33 L289.49,47.34 L290.82,46.37 L292.15,45.42 L293.51,44.48 L294.87,43.56 L296.24,42.65 L297.63,41.77 L299.03,40.90 L300.44,40.04 L301.86,39.21 L303.29,38.39 L304.73,37.59 L306.18,36.81 L307.64,36.05 L309.11,35.30 L310.59,34.58 L312.08,33.87 L313.58,33.18 L315.08,32.51 L316.60,31.87 L318.12,31.24 L319.65,30.63 L321.19,30.04 L322.73,29.47 L324.28,28.93 L325.84,28.40 L327.40,27.89 L328.97,27.41 L330.55,26.95 L332.13,26.51 L333.71,26.09 L335.30,25.69 L336.90,25.32 L338.50,24.97 L340.10,24.64 L341.71,24.33 L343.32,24.05 L344.93,23.79 L346.55,23.55 L348.17,23.34 L349.79,23.15 L351.41,22.99 L353.04,22.85 L354.67,22.73 L356.29,22.64 L357.92,22.57 L359.55,22.53 L361.19,22.52 L362.82,22.53 L364.45,22.56 L366.08,22.63 L367.71,22.71 L369.34,22.82 L370.96,22.96 L372.59,23.12 L374.21,23.30 L375.84,23.51 L377.46,23.74 L379.07,24.00 L380.69,24.27 L382.30,24.58 L383.90,24.90 L385.51,25.25 L387.11,25.62 L388.70,26.01 L390.29,26.43 L391.87,26.86 L393.45,27.32 L395.03,27.80 L396.59,28.30 L398.16,28.82 L399.71,29.37 L401.26,29.93 L402.80,30.51 L404.33,31.12 L405.86,31.74 L407.37,32.39 L408.88,33.05 L410.38,33.73 L411.88,34.44 L413.36,35.16 L414.83,35.90 L416.29,36.66 L417.75,37.44 L419.19,38.23 L420.62,39.05 L422.04,39.88 L423.45,40.73 L424.85,41.59 L426.24,42.48 L427.61,43.38 L428.98,44.30 L430.32,45.23 L431.66,46.18 L432.98,47.15 L434.29,48.13 L435.59,49.13 L436.87,50.14 L438.14,51.17 L439.39,52.22 L440.63,53.28 L441.85,54.35 L443.06,55.44 L444.25,56.54 L445.43,57.66 L446.60,58.79 L447.75,59.93 L448.89,61.09 L450.02,62.26 L451.13,63.43 L452.24,64.63 L453.33,65.83 L454.41,67.04 L455.48,68.26 L456.54,69.50 L457.59,70.74 L458.63,71.99 L459.67,73.25 L460.69,74.53 L461.70,75.80 L462.71,77.09 L463.71,78.39 L464.70,79.69 L465.68,81.00 L466.66,82.32 L467.63,83.64 L468.60,84.97 L469.56,86.30 L470.51,87.64 L471.46,88.99 L472.40,90.34 L473.34,91.69 L474.28,93.05 L475.21,94.41 L476.14,95.77 L477.07,97.14 L477.99,98.51 L478.91,99.89 L479.83,101.26 L480.75,102.64 L481.67,104.01 L482.58,105.39 L483.50,106.77 L484.42,108.15 L485.33,109.53 L486.25,110.91 L487.17,112.29 L488.09,113.66 L489.01,115.04 L489.93,116.41 L490.86,117.78 L491.79,119.15 L492.72,120.52 L493.65,121.88 L494.59,123.24 L495.54,124.59 L496.49,125.94 L497.44,127.29 L498.40,128.63 L499.36,129.97 L500.33,131.30 L501.31,132.62 L502.29,133.94 L503.28,135.25 L504.27,136.56 L505.27,137.86 L506.28,139.16 L507.29,140.45 L508.31,141.73 L509.33,143.01 L510.36,144.29 L511.40,145.56 L512.44,146.82 L513.48,148.08 L514.53,149.34 L515.59,150.58 L516.65,151.83 L517.72,153.07 L518.79,154.30 L519.87,155.53 L520.95,156.76 L522.03,157.98 L523.13,159.20 L524.22,160.41 L525.32,161.61 L526.43,162.82 L527.54,164.02 L528.65,165.21 L529.77,166.40 L530.89,167.59 L532.02,168.77 L533.15,169.95 L534.28,171.13 L535.42,172.30 L536.57,173.46 L537.71,174.63 L538.86,175.79 L540.02,176.94 L541.18,178.10 L542.34,179.25 L543.50,180.39 L544.67,181.54 L545.84,182.68 L547.02,183.81 L548.20,184.95 L549.38,186.08 L550.56,187.21 L551.75,188.33 L552.94,189.45 L554.13,190.57 L555.33,191.69 L556.53,192.80 L557.73,193.92 L558.94,195.03 L560.14,196.13 L561.35,197.24 L562.56,198.34 L563.78,199.44 L564.99,200.54 L566.21,201.63 L567.43,202.73 L568.66,203.82 L569.88,204.91 L571.11,206.00 L572.34,207.08 L573.57,208.17 L574.80,209.25 L576.03,210.33 L577.27,211.41 L578.50,212.49 L579.74,213.57 L580.98,214.64 L582.22,215.72 L583.46,216.79 L584.71,217.86 L585.95,218.93 L587.19,220.00 L588.44,221.07 L589.69,222.14 L590.93,223.21 L590.35,224.12 L589.70,225.14 L589.05,226.16 L588.39,227.18 L587.73,228.19 L587.06,229.20 L586.39,230.21 L585.72,231.21 L585.04,232.21 L584.36,233.21 L583.67,234.21 L582.99,235.20 L582.29,236.19 L581.60,237.18 L580.90,238.17 L580.19,239.15 L579.49,240.13 L578.77,241.11 L578.06,242.08 L577.34,243.05 L576.62,244.02 L575.89,244.99 L575.16,245.95 L574.43,246.91 L573.69,247.87 L572.95,248.82 L572.20,249.78 L571.45,250.73 L570.70,251.67 L569.94,252.62 L569.18,253.56 L568.42,254.50 L567.65,255.44 L566.88,256.37 L566.10,257.30" fill="none" stroke="#141414" stroke-width="1.4" stroke-linejoin="miter"/><g clip-path="url(#cNotPink)"><path d="M147.81,269.86 L148.80,268.66 L149.79,267.47 L150.79,266.29 L151.80,265.11 L152.82,263.93 L153.85,262.76 L154.88,261.60 L155.92,260.44 L156.97,259.28 L158.02,258.13 L159.08,256.98 L160.15,255.84 L161.22,254.70 L162.30,253.57 L163.38,252.44 L164.46,251.31 L165.56,250.18 L166.65,249.06 L167.75,247.94 L168.85,246.82 L169.96,245.71 L171.06,244.59 L172.17,243.48 L173.29,242.37 L174.40,241.26 L175.52,240.16 L176.64,239.05 L177.75,237.95 L178.87,236.84 L179.99,235.74 L181.11,234.64 L182.23,233.53 L183.35,232.43 L184.47,231.33 L185.59,230.22 L186.71,229.12 L187.82,228.01 L188.93,226.91 L190.04,225.80 L191.15,224.69 L192.26,223.58 L193.36,222.47 L194.46,221.35 L195.55,220.24 L196.64,219.12 L197.73,218.00 L198.81,216.87 L199.89,215.74 L200.96,214.61 L202.02,213.48 L203.08,212.34 L204.14,211.20 L205.18,210.06 L206.22,208.91 L207.26,207.76 L208.28,206.60 L209.30,205.44 L210.32,204.27 L211.32,203.10 L212.33,201.93 L213.32,200.75 L214.31,199.57 L215.29,198.39 L216.27,197.20 L217.24,196.01 L218.21,194.81 L219.17,193.61 L220.12,192.40 L221.07,191.19 L222.02,189.98 L222.96,188.76 L223.89,187.54 L224.82,186.32 L225.75,185.09 L226.66,183.86 L227.58,182.62 L228.49,181.38 L229.40,180.14 L230.30,178.89 L231.19,177.64 L232.09,176.38 L232.98,175.12 L233.86,173.86 L234.74,172.59 L235.62,171.32 L236.49,170.05 L237.36,168.77 L238.23,167.49 L239.09,166.20 L239.95,164.91 L240.81,163.62 L241.66,162.33 L242.51,161.03 L243.36,159.72 L244.21,158.41 L245.05,157.10 L245.89,155.79 L246.72,154.47 L247.56,153.15 L248.39,151.82 L249.22,150.50 L250.05,149.16 L250.87,147.83 L251.70,146.49 L252.52,145.14 L253.34,143.80 L254.16,142.45 L254.97,141.10 L255.79,139.74 L256.60,138.38 L257.42,137.03 L258.23,135.67 L259.05,134.30 L259.87,132.94 L260.68,131.58 L261.50,130.22 L262.32,128.86 L263.15,127.50 L263.97,126.15 L264.80,124.79 L265.63,123.44 L266.46,122.09 L267.30,120.75 L268.14,119.41 L268.98,118.07 L269.83,116.74 L270.68,115.41 L271.54,114.09 L272.41,112.77 L273.28,111.46 L274.15,110.16 L275.03,108.86 L275.92,107.57 L276.82,106.29 L277.72,105.02 L278.63,103.76 L279.55,102.50 L280.48,101.26 L281.41,100.02 L282.36,98.80 L283.31,97.58 L284.28,96.38 L285.25,95.19 L286.23,94.01 L287.22,92.85 L288.23,91.70 L289.24,90.56 L290.27,89.43 L291.31,88.32 L292.36,87.22 L293.42,86.14 L294.50,85.08 L295.59,84.03 L296.69,82.99 L297.80,81.97 L298.93,80.97 L300.08,79.99 L301.23,79.03 L302.41,78.08 L303.60,77.15 L304.80,76.24 L306.02,75.36 L307.25,74.49 L308.51,73.64 L309.77,72.81 L311.06,72.00 L312.36,71.22 L313.68,70.46 L315.02,69.72 L316.38,69.00 L317.75,68.31 L319.14,67.63 L320.55,66.99 L321.97,66.36 L323.41,65.76 L324.86,65.18 L326.32,64.62 L327.80,64.09 L329.29,63.58 L330.79,63.09 L332.31,62.63 L333.83,62.19 L335.36,61.77 L336.90,61.38 L338.46,61.01 L340.01,60.66 L341.58,60.34 L343.15,60.04 L344.73,59.77 L346.32,59.52 L347.91,59.29 L349.50,59.09 L351.10,58.91 L352.71,58.75 L354.31,58.62 L355.92,58.52 L357.52,58.43 L359.13,58.38 L360.74,58.34 L362.35,58.33 L363.96,58.35 L365.56,58.39 L367.16,58.45 L368.76,58.54 L370.36,58.66 L371.95,58.79 L373.54,58.96 L375.12,59.14 L376.70,59.36 L378.27,59.59 L379.83,59.86 L381.39,60.15 L382.94,60.46 L384.47,60.80 L386.00,61.16 L387.52,61.55 L389.03,61.96 L390.52,62.40 L392.01,62.87 L393.48,63.36 L394.94,63.87 L396.38,64.41 L397.82,64.97 L399.24,65.56 L400.65,66.17 L402.05,66.80 L403.44,67.46 L404.82,68.13 L406.18,68.83 L407.53,69.55 L408.87,70.30 L410.19,71.06 L411.51,71.84 L412.81,72.65 L414.10,73.47 L415.38,74.31 L416.64,75.18 L417.90,76.06 L419.14,76.96 L420.37,77.88 L421.58,78.81 L422.79,79.76 L423.98,80.73 L425.16,81.72 L426.32,82.72 L427.48,83.74 L428.62,84.78 L429.75,85.83 L430.87,86.89 L431.97,87.97 L433.06,89.07 L434.14,90.17 L435.21,91.29 L436.27,92.43 L437.31,93.58 L438.34,94.74 L439.36,95.91 L440.36,97.09 L441.35,98.29 L442.33,99.49 L443.30,100.71 L444.26,101.94 L445.20,103.18 L446.13,104.42 L447.04,105.68 L447.95,106.95 L448.84,108.22 L449.72,109.50 L450.59,110.80 L451.45,112.09 L452.30,113.40 L453.14,114.71 L453.98,116.03 L454.80,117.36 L455.61,118.69 L456.42,120.03 L457.22,121.37 L458.01,122.72 L458.80,124.07 L459.58,125.43 L460.36,126.79 L461.13,128.15 L461.89,129.52 L462.65,130.89 L463.41,132.27 L464.17,133.64 L464.92,135.02 L465.67,136.40 L466.42,137.78 L467.16,139.16 L467.91,140.54 L468.66,141.92 L469.40,143.30 L470.15,144.68 L470.89,146.06 L471.64,147.44 L472.39,148.82 L473.14,150.20 L473.90,151.57 L474.66,152.94 L475.42,154.31 L476.19,155.68 L476.96,157.04 L477.73,158.39 L478.51,159.75 L479.30,161.10 L480.10,162.44 L480.90,163.78 L481.70,165.11 L482.52,166.44 L483.34,167.76 L484.18,169.07 L485.02,170.38 L485.87,171.68 L486.73,172.97 L487.60,174.26 L488.48,175.54 L489.37,176.81 L490.27,178.07 L491.18,179.33 L492.09,180.58 L493.02,181.83 L493.95,183.06 L494.89,184.30 L495.84,185.52 L496.80,186.74 L497.76,187.95 L498.73,189.16 L499.71,190.36 L500.70,191.56 L501.69,192.75 L502.69,193.94 L503.70,195.12 L504.71,196.30 L505.73,197.47 L506.76,198.64 L507.79,199.80 L508.82,200.96 L509.87,202.11 L510.91,203.26 L511.97,204.41 L513.02,205.55 L514.08,206.69 L515.15,207.82 L516.22,208.95 L517.30,210.08 L518.38,211.20 L519.46,212.33 L520.54,213.44 L521.63,214.56 L522.73,215.67 L523.82,216.78 L524.92,217.89 L526.02,219.00 L527.13,220.10 L528.23,221.20 L529.34,222.31 L530.45,223.40 L531.56,224.50 L532.68,225.60 L533.79,226.69 L534.91,227.78 L536.03,228.87 L537.15,229.97 L538.26,231.06 L539.38,232.15 L540.50,233.23 L541.62,234.32 L542.74,235.41 L543.86,236.50 L544.98,237.59 L546.10,238.68 L547.22,239.77 L548.34,240.85 L549.45,241.94 L550.57,243.03 L551.68,244.13 L552.79,245.22 L553.90,246.31 L555.01,247.41 L556.11,248.50 L557.21,249.60 L558.31,250.70 L559.41,251.80 L560.51,252.90 L561.60,254.01 L562.68,255.11 L563.77,256.22 L564.85,257.33 L565.93,258.45 L567.00,259.56 L568.07,260.68 L569.13,261.81 L570.19,262.93 L571.24,264.06" fill="none" stroke="#141414" stroke-width="1.4" stroke-linejoin="miter"/><path d="M203.07,299.02 L203.95,298.40 L204.84,297.78 L205.73,297.17 L206.62,296.55 L207.51,295.93 L208.41,295.32 L209.31,294.70 L210.21,294.09 L211.11,293.47 L212.02,292.86 L212.92,292.25 L213.83,291.63 L214.74,291.02 L215.65,290.40 L216.56,289.79 L217.47,289.18 L218.39,288.56 L219.30,287.95 L220.21,287.33 L221.13,286.72 L222.04,286.10 L222.95,285.48 L223.87,284.86 L224.78,284.24 L225.70,283.62 L226.61,283.00 L227.52,282.38 L228.43,281.75 L229.34,281.12 L230.25,280.50 L231.16,279.86 L232.06,279.23 L232.97,278.60 L233.87,277.96 L234.77,277.32 L235.67,276.68 L236.57,276.04 L237.46,275.40 L238.36,274.75 L239.25,274.10 L240.13,273.44 L241.02,272.79 L241.90,272.13 L242.78,271.47 L243.65,270.80 L244.53,270.13 L245.39,269.46 L246.26,268.78 L247.12,268.10 L247.98,267.42 L248.83,266.73 L249.68,266.04 L250.52,265.35 L251.36,264.65 L252.19,263.95 L253.02,263.24 L253.85,262.53 L254.67,261.82 L255.48,261.09 L256.29,260.37 L257.10,259.64 L257.90,258.91 L258.69,258.17 L259.48,257.43 L260.26,256.68 L261.04,255.93 L261.82,255.17 L262.59,254.41 L263.36,253.65 L264.12,252.88 L264.87,252.11 L265.63,251.33 L266.37,250.55 L267.12,249.77 L267.86,248.98 L268.59,248.19 L269.32,247.39 L270.05,246.59 L270.77,245.78 L271.49,244.98 L272.20,244.16 L272.91,243.35 L273.62,242.53 L274.32,241.70 L275.02,240.87 L275.72,240.04 L276.41,239.21 L277.10,238.37 L277.78,237.52 L278.46,236.68 L279.14,235.83 L279.81,234.97 L280.48,234.11 L281.15,233.25 L281.81,232.39 L282.47,231.52 L283.13,230.65 L283.79,229.77 L284.44,228.89 L285.09,228.01 L285.73,227.13 L286.38,226.24 L287.02,225.34 L287.65,224.45 L288.29,223.55 L288.92,222.65 L289.55,221.74 L290.17,220.83 L290.80,219.92 L291.42,219.01 L292.04,218.09 L292.66,217.17 L293.27,216.24 L293.88,215.31 L294.50,214.38 L295.10,213.45 L295.71,212.51 L296.31,211.57 L296.92,210.63 L297.52,209.69 L298.12,208.74 L298.71,207.79 L299.31,206.84 L299.91,205.88 L300.50,204.93 L301.10,203.98 L301.70,203.02 L302.29,202.07 L302.89,201.11 L303.49,200.16 L304.10,199.21 L304.70,198.26 L305.31,197.31 L305.92,196.37 L306.53,195.42 L307.14,194.48 L307.76,193.55 L308.39,192.62 L309.01,191.69 L309.65,190.76 L310.28,189.84 L310.93,188.93 L311.58,188.02 L312.23,187.12 L312.89,186.22 L313.56,185.34 L314.23,184.45 L314.92,183.58 L315.60,182.71 L316.30,181.85 L317.01,181.00 L317.72,180.16 L318.44,179.33 L319.18,178.51 L319.92,177.70 L320.67,176.90 L321.43,176.11 L322.20,175.33 L322.99,174.56 L323.78,173.80 L324.59,173.06 L325.41,172.33 L326.23,171.61 L327.08,170.90 L327.93,170.21 L328.80,169.53 L329.68,168.87 L330.58,168.22 L331.48,167.59 L332.40,166.97 L333.33,166.37 L334.27,165.78 L335.22,165.21 L336.18,164.65 L337.15,164.11 L338.13,163.59 L339.12,163.09 L340.12,162.60 L341.12,162.13 L342.13,161.68 L343.15,161.24 L344.18,160.83 L345.21,160.43 L346.24,160.05 L347.28,159.69 L348.33,159.35 L349.38,159.03 L350.43,158.73 L351.49,158.45 L352.55,158.19 L353.61,157.96 L354.68,157.74 L355.74,157.54 L356.81,157.37 L357.87,157.22 L358.94,157.09 L360.01,156.98 L361.07,156.89 L362.14,156.83 L363.20,156.79 L364.26,156.77 L365.32,156.78 L366.37,156.81 L367.42,156.87 L368.47,156.95 L369.51,157.05 L370.55,157.18 L371.58,157.34 L372.60,157.52 L373.62,157.73 L374.64,157.96 L375.64,158.22 L376.64,158.51 L377.63,158.82 L378.61,159.16 L379.58,159.53 L380.55,159.92 L381.50,160.34 L382.45,160.78 L383.39,161.24 L384.32,161.73 L385.24,162.25 L386.16,162.78 L387.07,163.34 L387.97,163.91 L388.86,164.51 L389.74,165.13 L390.62,165.77 L391.49,166.42 L392.35,167.09 L393.21,167.78 L394.05,168.49 L394.89,169.21 L395.72,169.95 L396.55,170.71 L397.37,171.47 L398.18,172.25 L398.98,173.05 L399.78,173.85 L400.57,174.67 L401.36,175.50 L402.14,176.34 L402.91,177.19 L403.67,178.05 L404.43,178.91 L405.18,179.79 L405.93,180.67 L406.67,181.56 L407.40,182.46 L408.13,183.36 L408.85,184.26 L409.57,185.17 L410.28,186.09 L410.98,187.00 L411.68,187.92 L412.38,188.85 L413.07,189.77 L413.75,190.69 L414.43,191.61 L415.10,192.54 L415.77,193.46 L416.43,194.38 L417.09,195.30 L417.74,196.22 L418.39,197.14 L419.03,198.06 L419.67,198.98 L420.31,199.90 L420.95,200.82 L421.58,201.73 L422.20,202.65 L422.83,203.57 L423.45,204.48 L424.07,205.39 L424.69,206.31 L425.30,207.22 L425.91,208.13 L426.52,209.04 L427.13,209.95 L427.74,210.86 L428.35,211.76 L428.95,212.67 L429.55,213.57 L430.16,214.48 L430.76,215.38 L431.36,216.28 L431.97,217.18 L432.57,218.08 L433.17,218.97 L433.77,219.87 L434.38,220.76 L434.98,221.66 L435.59,222.55 L436.20,223.44 L436.80,224.33 L437.41,225.21 L438.02,226.10 L438.64,226.98 L439.25,227.87 L439.87,228.75 L440.49,229.63 L441.11,230.51 L441.74,231.38 L442.37,232.26 L443.00,233.13 L443.64,234.00 L444.27,234.87 L444.92,235.73 L445.56,236.60 L446.21,237.46 L446.87,238.32 L447.53,239.18 L448.19,240.04 L448.86,240.90 L449.54,241.75 L450.22,242.60 L450.90,243.45 L451.59,244.30 L452.28,245.14 L452.98,245.98 L453.68,246.82 L454.38,247.66 L455.09,248.49 L455.81,249.32 L456.53,250.15 L457.25,250.97 L457.98,251.80 L458.72,252.61 L459.45,253.43 L460.20,254.24 L460.94,255.05 L461.69,255.86 L462.45,256.66 L463.21,257.46 L463.97,258.26 L464.74,259.05 L465.51,259.84 L466.29,260.62 L467.07,261.40 L467.86,262.18 L468.65,262.95 L469.44,263.72 L470.24,264.49 L471.04,265.25 L471.85,266.00 L472.66,266.75 L473.48,267.50 L474.30,268.25 L475.12,268.98 L475.95,269.72 L476.78,270.45 L477.61,271.17 L478.45,271.89 L479.30,272.61 L480.15,273.32 L481.00,274.02 L481.85,274.72 L482.71,275.42 L483.58,276.11 L484.44,276.79 L485.32,277.47 L486.19,278.14 L487.07,278.81 L487.96,279.47 L488.84,280.13 L489.73,280.78 L490.63,281.42 L491.53,282.06 L492.43,282.70 L493.34,283.32 L494.25,283.94 L495.16,284.56 L496.08,285.17 L497.00,285.77 L497.92,286.36 L498.85,286.95 L499.79,287.54 L500.72,288.11 L501.66,288.68 L502.61,289.25 L503.55,289.80 L504.50,290.35 L505.46,290.89 L506.41,291.43 L507.38,291.96 L508.34,292.48 L509.31,292.99 L510.28,293.50 L511.26,294.00 L512.23,294.49 L513.22,294.98 L514.20,295.45 L515.19,295.92 L516.18,296.38 L517.18,296.84 L518.18,297.28 L519.18,297.72 L520.19,298.15 L521.20,298.57" fill="none" stroke="#141414" stroke-width="1.4" stroke-linejoin="miter"/></g><path d="M144.25,263.94 L144.27,265.86 L144.30,267.77 L144.33,269.69 L144.36,271.60 L144.40,273.52 L144.44,275.43 L144.49,277.34 L144.54,279.26 L144.59,281.17 L144.65,283.08 L144.72,284.99 L144.78,286.90 L144.86,288.81 L144.93,290.72 L145.01,292.63 L145.10,294.54 L145.19,296.45 L145.28,298.36 L145.38,300.26 L145.48,302.17 L145.59,304.07 L145.70,305.98 L145.82,307.88 L145.94,309.79 L146.07,311.69 L146.20,313.59 L146.34,315.50 L146.48,317.40 L146.62,319.30 L146.77,321.20 L146.93,323.10 L147.09,325.00 L147.25,326.89 L147.42,328.79 L147.60,330.69 L147.78,332.58 L147.97,334.47 L148.16,336.37 L148.35,338.26 L148.55,340.15 L148.76,342.04 L148.97,343.93 L149.19,345.82 L149.41,347.71 L149.64,349.60 L149.87,351.48 L150.11,353.37 L150.36,355.25 L150.61,357.13 L150.86,359.02 L151.12,360.90 L151.39,362.78 L151.66,364.66 L151.94,366.53 L152.22,368.41 L152.51,370.29 L152.81,372.16 L153.11,374.03 L153.41,375.91 L153.73,377.78 L154.05,379.65 L154.37,381.51 L154.70,383.38 L155.04,385.25 L155.38,387.11 L155.73,388.98 L156.08,390.84 L156.44,392.70 L156.81,394.56 L157.19,396.42 L157.57,398.27 L157.95,400.13 L158.34,401.98 L158.74,403.84 L159.15,405.69 L159.56,407.54 L159.98,409.39 L160.40,411.23 L160.83,413.08 L161.27,414.92 L161.71,416.77 L162.16,418.61 L162.62,420.45 L163.09,422.29 L163.56,424.12 L164.03,425.96 L164.52,427.79 L165.01,429.62 L165.51,431.46 L166.01,433.28 L166.52,435.11 L167.04,436.94 L167.57,438.76 L168.10,440.58 L168.64,442.40 L169.19,444.22 L169.74,446.04 L170.31,447.85 L170.87,449.67 L171.45,451.48 L172.03,453.29 L172.62,455.10 L173.22,456.91 L173.83,458.71 L174.44,460.51 L175.06,462.31 L175.69,464.11 L176.32,465.91 L176.96,467.71 L177.61,469.50 L178.27,471.29 L178.93,473.08 L179.61,474.87 L180.29,476.65 L180.98,478.44 L181.67,480.22 L182.38,482.00 L183.09,483.78 L183.81,485.55 L184.53,487.33 L185.27,489.10 L186.01,490.87 L186.76,492.63 L187.52,494.40 L188.29,496.16 L189.07,497.92 L189.85,499.68 L190.64,501.44 L191.44,503.19 L192.25,504.94 L193.07,506.69 L193.89,508.44 L194.73,510.18 L195.57,511.91 L196.42,513.65 L197.28,515.38 L198.15,517.10 L199.03,518.82 L199.92,520.54 L200.82,522.25 L201.72,523.96 L202.64,525.66 L203.57,527.36 L204.50,529.05 L205.45,530.73 L206.40,532.41 L207.36,534.09 L208.34,535.75 L209.32,537.41 L210.32,539.07 L211.32,540.71 L212.33,542.35 L213.36,543.98 L214.39,545.61 L215.44,547.23 L216.49,548.83 L217.56,550.44 L218.64,552.03 L219.73,553.61 L220.82,555.19 L221.93,556.75 L223.05,558.31 L224.19,559.86 L225.33,561.40 L226.48,562.93 L227.65,564.45 L228.83,565.96 L230.02,567.46 L231.22,568.95 L232.43,570.43 L233.65,571.89 L234.89,573.35 L236.13,574.80 L237.39,576.23 L238.66,577.65 L239.95,579.06 L241.24,580.46 L242.55,581.85 L243.87,583.22 L245.21,584.59 L246.55,585.93 L247.91,587.27 L249.28,588.59 L250.66,589.90 L252.06,591.20 L253.47,592.48 L254.89,593.75 L256.33,595.01 L257.77,596.25 L259.23,597.47 L260.71,598.68 L262.19,599.88 L263.68,601.06 L265.19,602.22 L266.71,603.37 L268.24,604.50 L269.78,605.61 L271.33,606.71 L272.89,607.79 L274.47,608.86 L276.05,609.90 L277.64,610.93 L279.25,611.94 L280.86,612.94 L282.49,613.91 L284.12,614.86 L285.77,615.80 L287.42,616.72 L289.08,617.61 L290.76,618.49 L292.44,619.35 L294.13,620.18 L295.83,621.00 L297.53,621.79 L299.25,622.57 L300.97,623.32 L302.71,624.05 L304.45,624.76 L306.19,625.45 L307.95,626.11 L309.71,626.76 L311.48,627.38 L313.26,627.97 L315.05,628.54 L316.84,629.09 L318.64,629.62 L320.44,630.12 L322.25,630.60 L324.07,631.06 L325.89,631.49 L327.72,631.90 L329.55,632.28 L331.39,632.64 L333.23,632.98 L335.07,633.29 L336.92,633.58 L338.77,633.84 L340.63,634.08 L342.48,634.30 L344.34,634.49 L346.21,634.65 L348.07,634.80 L349.94,634.92 L351.81,635.01 L353.67,635.08 L355.55,635.12 L357.42,635.14 L359.29,635.14 L361.16,635.11 L363.03,635.06 L364.90,634.98 L366.77,634.88 L368.65,634.76 L370.52,634.61 L372.39,634.44 L374.25,634.25 L376.12,634.03 L377.99,633.79 L379.85,633.53 L381.71,633.25 L383.57,632.94 L385.43,632.61 L387.29,632.26 L389.14,631.89 L390.99,631.50 L392.84,631.09 L394.68,630.65 L396.52,630.20 L398.36,629.72 L400.20,629.22 L402.03,628.70 L403.85,628.17 L405.67,627.61 L407.49,627.03 L409.30,626.43 L411.11,625.82 L412.91,625.18 L414.71,624.53 L416.50,623.85 L418.28,623.16 L420.06,622.44 L421.84,621.71 L423.60,620.97 L425.36,620.20 L427.12,619.41 L428.86,618.61 L430.61,617.79 L432.34,616.95 L434.06,616.10 L435.78,615.22 L437.49,614.33 L439.19,613.43 L440.89,612.51 L442.57,611.57 L444.25,610.61 L445.92,609.64 L447.58,608.65 L449.23,607.65 L450.87,606.63 L452.50,605.60 L454.12,604.55 L455.73,603.48 L457.33,602.40 L458.92,601.31 L460.50,600.20 L462.07,599.08 L463.63,597.94 L465.18,596.79 L466.71,595.63 L468.24,594.45 L469.75,593.26 L471.25,592.05 L472.74,590.83 L474.22,589.60 L475.68,588.36 L477.13,587.10 L478.57,585.83 L480.00,584.55 L481.41,583.26 L482.81,581.95 L484.20,580.63 L485.57,579.30 L486.93,577.96 L488.28,576.61 L489.62,575.25 L490.94,573.87 L492.25,572.49 L493.55,571.09 L494.84,569.68 L496.11,568.26 L497.37,566.83 L498.62,565.40 L499.86,563.95 L501.09,562.49 L502.30,561.02 L503.50,559.54 L504.69,558.05 L505.87,556.55 L507.03,555.04 L508.18,553.53 L509.33,552.00 L510.45,550.47 L511.57,548.92 L512.68,547.37 L513.77,545.81 L514.85,544.24 L515.93,542.66 L516.98,541.08 L518.03,539.48 L519.07,537.88 L520.09,536.27 L521.11,534.65 L522.11,533.03 L523.10,531.40 L524.08,529.76 L525.05,528.11 L526.01,526.46 L526.95,524.80 L527.89,523.13 L528.81,521.46 L529.73,519.78 L530.63,518.10 L531.52,516.41 L532.40,514.71 L533.27,513.01 L534.13,511.30 L534.98,509.58 L535.82,507.86 L536.65,506.14 L537.47,504.41 L538.27,502.67 L539.07,500.93 L539.86,499.19 L540.63,497.44 L541.40,495.69 L542.15,493.93 L542.90,492.17 L543.63,490.40 L544.36,488.63 L545.07,486.86 L545.78,485.08 L546.47,483.30 L547.15,481.52 L547.83,479.73 L548.49,477.94 L549.15,476.15 L549.80,474.35 L550.43,472.55 L551.06,470.75 L551.67,468.95 L552.28,467.14 L552.88,465.33 L553.47,463.52 L554.05,461.71 L554.62,459.89 L555.18,458.07 L555.73,456.25 L556.27,454.42 L556.80,452.60 L557.32,450.77 L557.84,448.93 L558.34,447.10 L558.84,445.26 L559.33,443.43 L559.80,441.59 L560.27,439.74 L560.73,437.90 L561.19,436.05 L561.63,434.20 L562.06,432.35 L562.49,430.50 L562.90,428.64 L563.31,426.79 L563.71,424.93 L564.10,423.07 L564.49,421.20 L564.86,419.34 L565.23,417.47 L565.58,415.61 L565.93,413.74 L566.27,411.87 L566.61,409.99 L566.93,408.12 L567.25,406.25 L567.56,404.37 L567.86,402.49 L568.15,400.61 L568.43,398.73 L568.71,396.85 L568.98,394.96 L569.24,393.08 L569.50,391.19 L569.74,389.30 L569.98,387.42 L570.21,385.53 L570.43,383.63 L570.65,381.74 L570.86,379.85 L571.06,377.96 L571.25,376.06 L571.43,374.17 L571.61,372.27 L571.78,370.37 L571.95,368.47 L572.11,366.58 L572.25,364.68 L572.40,362.78 L572.53,360.87 L572.66,358.97 L572.78,357.07 L572.90,355.17 L573.00,353.27 L573.11,351.36 L573.20,349.46 L573.29,347.55 L573.37,345.65 L573.44,343.74 L573.51,341.84 L573.57,339.93 L573.63,338.03 L573.67,336.12 L573.71,334.21 L573.75,332.31 L573.78,330.40 L573.80,328.49 L573.82,326.59 L573.83,324.68 L573.83,322.78 L573.83,320.87 L573.82,318.96 L573.81,317.06 L573.79,315.15 L573.76,313.25 L573.73,311.34 L573.69,309.44 L573.65,307.53 L573.60,305.63 L573.54,303.72 L573.48,301.82 L573.41,299.92 L573.34,298.02 L573.26,296.11 L573.18,294.21 L573.09,292.31 L573.00,290.41 L572.90,288.51 L572.79,286.62 L572.68,284.72 L572.57,282.82 L572.45,280.93 L572.32,279.03 L572.19,277.14 L572.05,275.25 L571.91,273.35 L571.77,271.46 L571.62,269.57 L571.46,267.68 L571.30,265.80 L571.13,263.91" fill="none" stroke="#141414" stroke-width="1.4" stroke-linejoin="miter"/><path d="M145.02,264.17 L146.52,264.03 L148.04,263.92 L149.58,263.85 L151.14,263.81 L152.73,263.82 L154.33,263.85 L155.94,263.93 L157.57,264.04 L159.21,264.18 L160.86,264.37 L162.52,264.59 L164.17,264.84 L165.84,265.14 L167.50,265.47 L169.15,265.83 L170.81,266.24 L172.45,266.68 L174.09,267.15 L175.72,267.67 L177.33,268.22 L178.93,268.81 L180.51,269.43 L182.07,270.10 L183.61,270.80 L185.12,271.54 L186.61,272.31 L188.07,273.12 L189.50,273.98 L190.89,274.87 L192.26,275.79 L193.58,276.76 L194.86,277.76 L196.11,278.80 L197.30,279.88 L198.46,281.00 L199.56,282.15 L200.62,283.34 L201.62,284.58 L202.56,285.85 L203.45,287.16 L204.28,288.50 L205.06,289.89 L205.77,291.31 L206.43,292.77 L207.03,294.25 L207.60,295.77 L208.11,297.31 L208.59,298.88 L209.03,300.46 L209.44,302.07 L209.82,303.69 L210.17,305.33 L210.50,306.97 L210.82,308.63 L211.12,310.29 L211.40,311.95 L211.68,313.62 L211.96,315.28 L212.24,316.94 L212.51,318.59 L212.78,320.25 L213.06,321.90 L213.33,323.54 L213.61,325.18 L213.88,326.82 L214.16,328.46 L214.43,330.09 L214.71,331.72 L214.98,333.34 L215.26,334.97 L215.53,336.59 L215.81,338.21 L216.09,339.82 L216.37,341.44 L216.65,343.05 L216.93,344.66 L217.21,346.26 L217.49,347.87 L217.78,349.47 L218.07,351.08 L218.35,352.68 L218.64,354.28 L218.93,355.87 L219.23,357.47 L219.52,359.07 L219.82,360.66 L220.12,362.25 L220.42,363.85 L220.72,365.44 L221.03,367.03 L221.34,368.62 L221.65,370.21 L221.96,371.80 L222.28,373.39 L222.60,374.98 L222.92,376.58 L223.25,378.17 L223.58,379.76 L223.91,381.35 L224.24,382.94 L224.58,384.53 L224.92,386.13 L225.27,387.72 L225.62,389.32 L225.97,390.92 L226.33,392.51 L226.69,394.11 L227.05,395.71 L227.42,397.31 L227.80,398.91 L228.17,400.51 L228.56,402.12 L228.94,403.72 L229.33,405.32 L229.73,406.92 L230.13,408.53 L230.53,410.13 L230.94,411.73 L231.36,413.33 L231.78,414.94 L232.20,416.54 L232.63,418.14 L233.06,419.74 L233.50,421.34 L233.95,422.93 L234.40,424.53 L234.86,426.13 L235.32,427.72 L235.79,429.32 L236.26,430.91 L236.74,432.50 L237.23,434.09 L237.72,435.67 L238.21,437.26 L238.72,438.84 L239.23,440.42 L239.74,442.00 L240.27,443.58 L240.80,445.15 L241.33,446.72 L241.88,448.29 L242.42,449.86 L242.98,451.42 L243.54,452.98 L244.11,454.54 L244.69,456.09 L245.28,457.64 L245.87,459.19 L246.47,460.73 L247.07,462.27 L247.69,463.81 L248.31,465.34 L248.94,466.87 L249.57,468.40 L250.22,469.92 L250.87,471.44 L251.53,472.95 L252.20,474.46 L252.87,475.96 L253.56,477.46 L254.25,478.95 L254.95,480.44 L255.66,481.93 L256.38,483.41 L257.10,484.88 L257.84,486.35 L258.58,487.81 L259.34,489.27 L260.10,490.72 L260.87,492.17 L261.65,493.61 L262.44,495.05 L263.24,496.48 L264.04,497.90 L264.86,499.32 L265.69,500.73 L266.52,502.13 L267.37,503.53 L268.22,504.92 L269.09,506.30 L269.96,507.68 L270.85,509.05 L271.74,510.42 L272.65,511.77 L273.56,513.12 L274.49,514.46 L275.42,515.80 L276.37,517.12 L277.33,518.44 L278.29,519.75 L279.27,521.06 L280.26,522.35 L281.26,523.64 L282.27,524.92 L283.29,526.19 L284.32,527.45 L285.37,528.71 L286.42,529.95 L287.49,531.19 L288.57,532.41 L289.66,533.63 L290.76,534.83 L291.87,536.03 L293.00,537.21 L294.14,538.38 L295.30,539.54 L296.47,540.68 L297.65,541.82 L298.85,542.94 L300.06,544.04 L301.28,545.13 L302.52,546.20 L303.78,547.26 L305.05,548.31 L306.33,549.33 L307.64,550.35 L308.95,551.34 L310.29,552.31 L311.64,553.27 L313.01,554.21 L314.39,555.13 L315.80,556.03 L317.22,556.91 L318.65,557.77 L320.11,558.61 L321.58,559.43 L323.07,560.23 L324.57,561.00 L326.08,561.75 L327.61,562.47 L329.15,563.16 L330.70,563.83 L332.26,564.48 L333.83,565.09 L335.41,565.68 L337.00,566.23 L338.60,566.75 L340.20,567.25 L341.81,567.71 L343.42,568.13 L345.04,568.53 L346.66,568.89 L348.28,569.21 L349.90,569.50 L351.53,569.74 L353.15,569.96 L354.78,570.13 L356.40,570.26 L358.02,570.36 L359.63,570.41 L361.25,570.43 L362.86,570.41 L364.47,570.35 L366.08,570.25 L367.68,570.12 L369.27,569.95 L370.87,569.75 L372.46,569.52 L374.04,569.25 L375.62,568.94 L377.20,568.61 L378.77,568.24 L380.33,567.84 L381.89,567.41 L383.44,566.95 L384.98,566.46 L386.52,565.95 L388.05,565.40 L389.58,564.82 L391.10,564.22 L392.60,563.59 L394.11,562.94 L395.60,562.26 L397.08,561.55 L398.56,560.82 L400.03,560.07 L401.49,559.29 L402.93,558.49 L404.37,557.67 L405.80,556.82 L407.22,555.96 L408.63,555.07 L410.03,554.17 L411.42,553.24 L412.79,552.30 L414.16,551.34 L415.51,550.36 L416.85,549.36 L418.18,548.35 L419.50,547.32 L420.80,546.28 L422.09,545.22 L423.37,544.15 L424.63,543.06 L425.88,541.96 L427.12,540.85 L428.34,539.73 L429.55,538.60 L430.74,537.45 L431.92,536.30 L433.09,535.13 L434.24,533.95 L435.38,532.77 L436.50,531.57 L437.61,530.36 L438.71,529.14 L439.79,527.91 L440.86,526.68 L441.92,525.43 L442.96,524.17 L444.00,522.90 L445.01,521.63 L446.02,520.34 L447.01,519.05 L447.99,517.74 L448.96,516.43 L449.92,515.11 L450.86,513.78 L451.79,512.44 L452.71,511.10 L453.62,509.74 L454.52,508.38 L455.40,507.01 L456.27,505.63 L457.14,504.25 L457.99,502.85 L458.83,501.45 L459.65,500.05 L460.47,498.63 L461.28,497.21 L462.07,495.78 L462.86,494.35 L463.64,492.90 L464.40,491.46 L465.15,490.00 L465.90,488.54 L466.63,487.07 L467.36,485.60 L468.07,484.12 L468.78,482.64 L469.47,481.15 L470.16,479.65 L470.84,478.15 L471.50,476.65 L472.16,475.14 L472.81,473.62 L473.45,472.10 L474.09,470.58 L474.71,469.05 L475.32,467.52 L475.93,465.98 L476.53,464.44 L477.12,462.89 L477.70,461.34 L478.28,459.79 L478.84,458.23 L479.40,456.67 L479.95,455.11 L480.49,453.54 L481.03,451.97 L481.56,450.40 L482.08,448.83 L482.60,447.25 L483.10,445.67 L483.61,444.08 L484.10,442.50 L484.59,440.91 L485.07,439.32 L485.54,437.73 L486.01,436.14 L486.47,434.55 L486.93,432.95 L487.38,431.35 L487.83,429.76 L488.27,428.16 L488.70,426.56 L489.13,424.96 L489.55,423.35 L489.97,421.75 L490.38,420.15 L490.79,418.55 L491.19,416.94 L491.59,415.34 L491.98,413.74 L492.37,412.13 L492.76,410.53 L493.14,408.93 L493.51,407.32 L493.88,405.72 L494.25,404.11 L494.62,402.51 L494.98,400.90 L495.34,399.30 L495.69,397.69 L496.04,396.09 L496.39,394.48 L496.73,392.88 L497.08,391.27 L497.42,389.66 L497.75,388.06 L498.09,386.45 L498.42,384.85 L498.75,383.24 L499.08,381.63 L499.40,380.03 L499.73,378.42 L500.05,376.82 L500.37,375.21 L500.69,373.60 L501.01,372.00 L501.33,370.39 L501.64,368.78 L501.96,367.18 L502.27,365.57 L502.59,363.96 L502.90,362.36 L503.21,360.75 L503.52,359.14 L503.84,357.54 L504.15,355.93 L504.46,354.33 L504.77,352.72 L505.09,351.11 L505.40,349.51 L505.71,347.90 L506.03,346.30 L506.34,344.69 L506.66,343.09 L506.98,341.48 L507.30,339.88 L507.62,338.27 L507.94,336.67 L508.26,335.06 L508.59,333.46 L508.92,331.85 L509.24,330.25 L509.58,328.64 L509.91,327.04 L510.24,325.44 L510.58,323.83 L510.92,322.23 L511.27,320.63 L511.61,319.02 L511.96,317.42 L512.32,315.82 L512.67,314.22 L513.03,312.62 L513.40,311.01 L513.76,309.41 L514.13,307.81 L514.51,306.21 L514.89,304.61 L515.27,303.01 L515.66,301.41 L516.05,299.81 L516.44,298.21 L516.84,296.62 L517.25,295.02 L517.68,293.43 L518.13,291.86 L518.61,290.31 L519.13,288.78 L519.70,287.28 L520.32,285.82 L521.01,284.41 L521.77,283.04 L522.61,281.73 L523.54,280.47 L524.56,279.28 L525.68,278.16 L526.89,277.11 L528.17,276.11 L529.52,275.17 L530.93,274.28 L532.39,273.44 L533.89,272.65 L535.44,271.91 L537.02,271.21 L538.63,270.55 L540.26,269.93 L541.93,269.35 L543.61,268.81 L545.30,268.30 L547.01,267.83 L548.72,267.39 L550.43,266.98 L552.14,266.60 L553.85,266.25 L555.54,265.92 L557.22,265.62 L558.88,265.34 L560.52,265.07 L562.13,264.83 L563.71,264.61 L565.25,264.40 L566.75,264.20 L568.21,264.02 L569.63,263.85 L570.98,263.68" fill="none" stroke="#141414" stroke-width="1.4" stroke-linejoin="miter"/><path d="M200.2,68.9 L253.8,116.6 M175.2,139.3 L262.3,192.6 M537.4,90.4 L437.3,200.4 M559.5,163.4 L475.9,193.3 M559.5,163.4 L424,309.9 M160.3,575 L195,250.7 M160.3,575 L307.5,435.6 M505.7,613.8 L463.3,535.1 " fill="none" stroke="#141414" stroke-width="1.3" stroke-linejoin="miter"/><circle cx="253.8" cy="116.6" r="5" fill="#141414"/><circle cx="262.3" cy="192.6" r="5" fill="#141414"/><circle cx="437.3" cy="200.4" r="5" fill="#141414"/><circle cx="475.9" cy="193.3" r="5" fill="#141414"/><circle cx="424" cy="309.9" r="5" fill="#141414"/><circle cx="195" cy="250.7" r="5" fill="#141414"/><circle cx="307.5" cy="435.6" r="5" fill="#141414"/><circle cx="463.3" cy="535.1" r="5" fill="#141414"/><g font-family="Liberation Sans, sans-serif" font-size="14" fill="#262626" stroke="#ffffff" stroke-width="0.2"><text x="125.4" y="59" textLength="118.8" lengthAdjust="spacingAndGlyphs">1,9 cm French Lace</text><text x="124.0" y="75" textLength="63.6" lengthAdjust="spacingAndGlyphs">ohne Haar</text><text x="19.1" y="139" textLength="152.8" lengthAdjust="spacingAndGlyphs">Scallop Lace Verbindung</text><text x="543.0" y="90" textLength="167.3" lengthAdjust="spacingAndGlyphs">Doppellagiges French Lace</text><text x="565.0" y="165" textLength="141.3" lengthAdjust="spacingAndGlyphs">Einlagiges French Lcae</text><text x="78.1" y="590" textLength="142.4" lengthAdjust="spacingAndGlyphs">Nähte in rautenförmiger</text><text x="78.6" y="606" textLength="67.0" lengthAdjust="spacingAndGlyphs">Anordnung</text><text x="448.0" y="631" textLength="137.9" lengthAdjust="spacingAndGlyphs">2,9 cm PU Coated G-3</text></g></svg></body></html>
